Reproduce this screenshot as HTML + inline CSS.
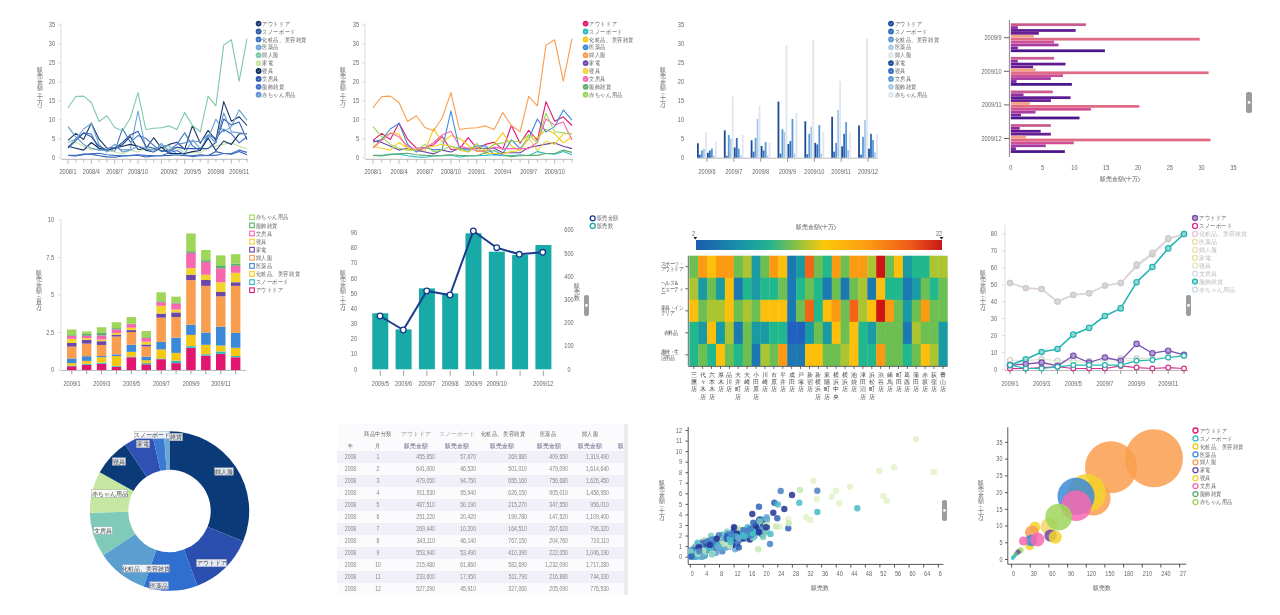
<!DOCTYPE html>
<html><head><meta charset="utf-8"><title>Dashboard</title>
<style>html,body{margin:0;padding:0;background:#fff;width:1280px;height:615px;overflow:hidden}
svg{display:block;font-family:'Liberation Sans',sans-serif;filter:blur(0.35px)}</style></head>
<body><svg width="1280" height="615" viewBox="0 0 1280 615" style="font-family:'Liberation Sans',sans-serif">
<rect width="1280" height="615" fill="#fff"/>
<line x1="61.0" y1="23.0" x2="61.0" y2="157.7" stroke="#ddd" stroke-width="1"/>
<text transform="translate(55.0,27.3) scale(0.86,1)" font-size="6.48" text-anchor="end" fill="#666" >35</text>
<line x1="58.0" y1="25.0" x2="61.0" y2="25.0" stroke="#ddd" stroke-width="1"/>
<text transform="translate(55.0,46.3) scale(0.86,1)" font-size="6.48" text-anchor="end" fill="#666" >30</text>
<line x1="58.0" y1="44.0" x2="61.0" y2="44.0" stroke="#ddd" stroke-width="1"/>
<text transform="translate(55.0,65.2) scale(0.86,1)" font-size="6.48" text-anchor="end" fill="#666" >25</text>
<line x1="58.0" y1="62.9" x2="61.0" y2="62.9" stroke="#ddd" stroke-width="1"/>
<text transform="translate(55.0,84.2) scale(0.86,1)" font-size="6.48" text-anchor="end" fill="#666" >20</text>
<line x1="58.0" y1="81.9" x2="61.0" y2="81.9" stroke="#ddd" stroke-width="1"/>
<text transform="translate(55.0,103.1) scale(0.86,1)" font-size="6.48" text-anchor="end" fill="#666" >15</text>
<line x1="58.0" y1="100.8" x2="61.0" y2="100.8" stroke="#ddd" stroke-width="1"/>
<text transform="translate(55.0,122.1) scale(0.86,1)" font-size="6.48" text-anchor="end" fill="#666" >10</text>
<line x1="58.0" y1="119.8" x2="61.0" y2="119.8" stroke="#ddd" stroke-width="1"/>
<text transform="translate(55.0,141.0) scale(0.86,1)" font-size="6.48" text-anchor="end" fill="#666" >5</text>
<line x1="58.0" y1="138.7" x2="61.0" y2="138.7" stroke="#ddd" stroke-width="1"/>
<text transform="translate(55.0,160.0) scale(0.86,1)" font-size="6.48" text-anchor="end" fill="#666" >0</text>
<line x1="58.0" y1="157.7" x2="61.0" y2="157.7" stroke="#ddd" stroke-width="1"/>
<line x1="61.0" y1="159.3" x2="248.0" y2="159.3" stroke="#bbb" stroke-width="1"/>
<text x="40.0" y="71.9" font-size="5.5" text-anchor="middle" fill="#555">販</text>
<text x="40.0" y="78.0" font-size="5.5" text-anchor="middle" fill="#555">売</text>
<text x="40.0" y="84.1" font-size="5.5" text-anchor="middle" fill="#555">金</text>
<text x="40.0" y="90.2" font-size="5.5" text-anchor="middle" fill="#555">額</text>
<text x="40.0" y="94.7" font-size="5.5" text-anchor="middle" fill="#555">︵</text>
<text x="40.0" y="99.3" font-size="5.5" text-anchor="middle" fill="#555">十</text>
<text x="40.0" y="105.4" font-size="5.5" text-anchor="middle" fill="#555">万</text>
<text x="40.0" y="109.9" font-size="5.5" text-anchor="middle" fill="#555">︶</text>
<line x1="68.0" y1="159.3" x2="68.0" y2="163.7" stroke="#aaa" stroke-width="0.8"/>
<line x1="75.8" y1="159.3" x2="75.8" y2="162.2" stroke="#aaa" stroke-width="0.8"/>
<line x1="83.6" y1="159.3" x2="83.6" y2="162.2" stroke="#aaa" stroke-width="0.8"/>
<line x1="91.3" y1="159.3" x2="91.3" y2="163.7" stroke="#aaa" stroke-width="0.8"/>
<line x1="99.1" y1="159.3" x2="99.1" y2="162.2" stroke="#aaa" stroke-width="0.8"/>
<line x1="106.9" y1="159.3" x2="106.9" y2="162.2" stroke="#aaa" stroke-width="0.8"/>
<line x1="114.7" y1="159.3" x2="114.7" y2="163.7" stroke="#aaa" stroke-width="0.8"/>
<line x1="122.5" y1="159.3" x2="122.5" y2="162.2" stroke="#aaa" stroke-width="0.8"/>
<line x1="130.3" y1="159.3" x2="130.3" y2="162.2" stroke="#aaa" stroke-width="0.8"/>
<line x1="138.0" y1="159.3" x2="138.0" y2="163.7" stroke="#aaa" stroke-width="0.8"/>
<line x1="145.8" y1="159.3" x2="145.8" y2="162.2" stroke="#aaa" stroke-width="0.8"/>
<line x1="153.6" y1="159.3" x2="153.6" y2="162.2" stroke="#aaa" stroke-width="0.8"/>
<line x1="161.4" y1="159.3" x2="161.4" y2="163.7" stroke="#aaa" stroke-width="0.8"/>
<line x1="169.2" y1="159.3" x2="169.2" y2="162.2" stroke="#aaa" stroke-width="0.8"/>
<line x1="177.0" y1="159.3" x2="177.0" y2="162.2" stroke="#aaa" stroke-width="0.8"/>
<line x1="184.7" y1="159.3" x2="184.7" y2="163.7" stroke="#aaa" stroke-width="0.8"/>
<line x1="192.5" y1="159.3" x2="192.5" y2="162.2" stroke="#aaa" stroke-width="0.8"/>
<line x1="200.3" y1="159.3" x2="200.3" y2="162.2" stroke="#aaa" stroke-width="0.8"/>
<line x1="208.1" y1="159.3" x2="208.1" y2="163.7" stroke="#aaa" stroke-width="0.8"/>
<line x1="215.9" y1="159.3" x2="215.9" y2="162.2" stroke="#aaa" stroke-width="0.8"/>
<line x1="223.7" y1="159.3" x2="223.7" y2="162.2" stroke="#aaa" stroke-width="0.8"/>
<line x1="231.4" y1="159.3" x2="231.4" y2="163.7" stroke="#aaa" stroke-width="0.8"/>
<line x1="239.2" y1="159.3" x2="239.2" y2="162.2" stroke="#aaa" stroke-width="0.8"/>
<line x1="247.0" y1="159.3" x2="247.0" y2="162.2" stroke="#aaa" stroke-width="0.8"/>
<text transform="translate(68.0,174.0) scale(0.86,1)" font-size="6.48" text-anchor="middle" fill="#666" >2008/1</text>
<text transform="translate(91.3,174.0) scale(0.86,1)" font-size="6.48" text-anchor="middle" fill="#666" >2008/4</text>
<text transform="translate(114.7,174.0) scale(0.86,1)" font-size="6.48" text-anchor="middle" fill="#666" >2008/7</text>
<text transform="translate(138.0,174.0) scale(0.86,1)" font-size="6.48" text-anchor="middle" fill="#666" >2008/10</text>
<text transform="translate(169.2,174.0) scale(0.86,1)" font-size="6.48" text-anchor="middle" fill="#666" >2009/2</text>
<text transform="translate(192.5,174.0) scale(0.86,1)" font-size="6.48" text-anchor="middle" fill="#666" >2009/5</text>
<text transform="translate(215.9,174.0) scale(0.86,1)" font-size="6.48" text-anchor="middle" fill="#666" >2009/8</text>
<text transform="translate(239.2,174.0) scale(0.86,1)" font-size="6.48" text-anchor="middle" fill="#666" >2009/11</text>
<polyline points="68.0,140.4 75.8,133.4 83.6,139.5 91.3,123.1 99.1,139.2 106.9,148.2 114.7,147.5 122.5,144.7 130.3,136.7 138.0,149.5 145.8,148.8 153.6,137.7 161.4,148.2 169.2,144.4 177.0,142.2 184.7,149.4 192.5,125.5 200.3,143.3 208.1,130.4 215.9,140.3 223.7,101.6 231.4,121.3 239.2,116.8 247.0,125.5" fill="none" stroke="#173a6e" stroke-width="1.1" stroke-linejoin="round" />
<polyline points="68.0,155.5 75.8,155.9 83.6,154.1 91.3,154.1 99.1,155.8 106.9,156.9 114.7,157.3 122.5,156.0 130.3,155.7 138.0,155.3 145.8,157.0 153.6,156.0 161.4,155.8 169.2,155.4 177.0,154.7 184.7,155.8 192.5,155.8 200.3,154.7 208.1,155.8 215.9,151.6 223.7,153.5 231.4,154.3 239.2,151.6 247.0,154.7" fill="none" stroke="#2a5aa8" stroke-width="1.1" stroke-linejoin="round" />
<polyline points="68.0,147.5 75.8,138.7 83.6,132.9 91.3,134.0 99.1,149.5 106.9,150.1 114.7,151.4 122.5,128.6 130.3,142.2 138.0,135.6 145.8,138.3 153.6,145.3 161.4,151.6 169.2,150.1 177.0,144.1 184.7,132.7 192.5,145.9 200.3,150.5 208.1,135.0 215.9,138.0 223.7,129.3 231.4,133.8 239.2,142.9 247.0,136.8" fill="none" stroke="#3d72c2" stroke-width="1.1" stroke-linejoin="round" />
<polyline points="68.0,142.2 75.8,139.5 83.6,129.0 91.3,123.4 99.1,144.5 106.9,152.1 114.7,147.5 122.5,149.9 130.3,149.3 138.0,111.0 145.8,149.5 153.6,149.9 161.4,145.9 169.2,145.9 177.0,154.7 184.7,153.5 192.5,139.9 200.3,148.6 208.1,138.7 215.9,119.0 223.7,131.9 231.4,126.6 239.2,109.9 247.0,120.2" fill="none" stroke="#6aa6d4" stroke-width="1.1" stroke-linejoin="round" />
<polyline points="68.0,107.7 75.8,96.5 83.6,96.1 91.3,102.5 99.1,121.5 106.9,115.7 114.7,127.5 122.5,130.8 130.3,118.0 138.0,92.6 145.8,129.5 153.6,128.2 161.4,127.7 169.2,125.9 177.0,129.6 184.7,112.6 192.5,125.5 200.3,131.9 208.1,96.3 215.9,105.8 223.7,45.1 231.4,39.8 239.2,81.1 247.0,38.6" fill="none" stroke="#7ccaa8" stroke-width="1.1" stroke-linejoin="round" />
<polyline points="68.0,140.6 75.8,142.5 83.6,146.3 91.3,150.1 99.1,148.2 106.9,150.1 114.7,152.0 122.5,153.9 130.3,150.1 138.0,152.0 145.8,148.2 153.6,148.2 161.4,148.6 169.2,148.2 177.0,148.2 184.7,152.8 192.5,152.8 200.3,152.8 208.1,147.5 215.9,145.9 223.7,144.1 231.4,142.9 239.2,146.3 247.0,148.6" fill="none" stroke="#c4e4a4" stroke-width="1.1" stroke-linejoin="round" />
<polyline points="68.0,146.3 75.8,148.2 83.6,150.1 91.3,142.5 99.1,148.2 106.9,150.1 114.7,148.2 122.5,146.3 130.3,144.4 138.0,146.3 145.8,150.1 153.6,152.0 161.4,147.1 169.2,153.5 177.0,153.5 184.7,153.5 192.5,151.6 200.3,150.5 208.1,138.0 215.9,150.5 223.7,141.0 231.4,144.4 239.2,133.8 247.0,133.8" fill="none" stroke="#0f2f62" stroke-width="1.1" stroke-linejoin="round" />
<polyline points="68.0,148.2 75.8,140.6 83.6,133.1 91.3,136.8 99.1,146.3 106.9,150.1 114.7,148.2 122.5,142.5 130.3,135.0 138.0,131.2 145.8,146.3 153.6,148.2 161.4,150.5 169.2,151.6 177.0,147.1 184.7,148.6 192.5,148.6 200.3,148.6 208.1,148.6 215.9,142.2 223.7,119.0 231.4,125.1 239.2,122.1 247.0,139.9" fill="none" stroke="#2d58aa" stroke-width="1.1" stroke-linejoin="round" />
<polyline points="68.0,155.4 75.8,155.4 83.6,154.7 91.3,153.9 99.1,153.2 106.9,154.7 114.7,155.4 122.5,155.8 130.3,155.4 138.0,154.7 145.8,155.4 153.6,155.8 161.4,155.8 169.2,152.8 177.0,150.5 184.7,154.7 192.5,156.6 200.3,155.8 208.1,155.4 215.9,155.4 223.7,153.5 231.4,153.5 239.2,150.1 247.0,152.4" fill="none" stroke="#4070c8" stroke-width="1.1" stroke-linejoin="round" />
<polyline points="68.0,126.6 75.8,136.8 83.6,144.4 91.3,148.2 99.1,150.1 106.9,150.1 114.7,144.4 122.5,152.0 130.3,150.1 138.0,146.3 145.8,148.2 153.6,152.0 161.4,143.3 169.2,151.6 177.0,144.4 184.7,142.9 192.5,141.0 200.3,141.8 208.1,135.0 215.9,142.9 223.7,113.0 231.4,131.9 239.2,132.7 247.0,133.8" fill="none" stroke="#6496d2" stroke-width="1.1" stroke-linejoin="round" />
<circle cx="258.6" cy="23.6" r="2.9" fill="#173a6e"/>
<path d="M257.4,23.6 l0.9,0.9 l1.6,-1.8" fill="none" stroke="#fff" stroke-width="0.6" stroke-opacity="0.7"/>
<text transform="translate(262.4,25.7) scale(0.86,1)" font-size="6.26" text-anchor="start" fill="#666" >アウトドア</text>
<circle cx="258.6" cy="31.5" r="2.9" fill="#2a5aa8"/>
<path d="M257.4,31.5 l0.9,0.9 l1.6,-1.8" fill="none" stroke="#fff" stroke-width="0.6" stroke-opacity="0.7"/>
<text transform="translate(262.4,33.6) scale(0.86,1)" font-size="6.26" text-anchor="start" fill="#666" >スノーボード</text>
<circle cx="258.6" cy="39.4" r="2.9" fill="#3d72c2"/>
<path d="M257.4,39.4 l0.9,0.9 l1.6,-1.8" fill="none" stroke="#fff" stroke-width="0.6" stroke-opacity="0.7"/>
<text transform="translate(262.4,41.5) scale(0.86,1)" font-size="6.26" text-anchor="start" fill="#666" >化粧品、美容雑貨</text>
<circle cx="258.6" cy="47.3" r="2.9" fill="#6aa6d4"/>
<path d="M257.4,47.3 l0.9,0.9 l1.6,-1.8" fill="none" stroke="#fff" stroke-width="0.6" stroke-opacity="0.7"/>
<text transform="translate(262.4,49.4) scale(0.86,1)" font-size="6.26" text-anchor="start" fill="#666" >医薬品</text>
<circle cx="258.6" cy="55.2" r="2.9" fill="#7ccaa8"/>
<path d="M257.4,55.2 l0.9,0.9 l1.6,-1.8" fill="none" stroke="#fff" stroke-width="0.6" stroke-opacity="0.7"/>
<text transform="translate(262.4,57.3) scale(0.86,1)" font-size="6.26" text-anchor="start" fill="#666" >婦人服</text>
<circle cx="258.6" cy="63.1" r="2.9" fill="#c4e4a4"/>
<path d="M257.4,63.1 l0.9,0.9 l1.6,-1.8" fill="none" stroke="#fff" stroke-width="0.6" stroke-opacity="0.7"/>
<text transform="translate(262.4,65.2) scale(0.86,1)" font-size="6.26" text-anchor="start" fill="#666" >家電</text>
<circle cx="258.6" cy="71.0" r="2.9" fill="#0f2f62"/>
<path d="M257.4,71.0 l0.9,0.9 l1.6,-1.8" fill="none" stroke="#fff" stroke-width="0.6" stroke-opacity="0.7"/>
<text transform="translate(262.4,73.1) scale(0.86,1)" font-size="6.26" text-anchor="start" fill="#666" >寝具</text>
<circle cx="258.6" cy="78.9" r="2.9" fill="#2d58aa"/>
<path d="M257.4,78.9 l0.9,0.9 l1.6,-1.8" fill="none" stroke="#fff" stroke-width="0.6" stroke-opacity="0.7"/>
<text transform="translate(262.4,81.0) scale(0.86,1)" font-size="6.26" text-anchor="start" fill="#666" >文房具</text>
<circle cx="258.6" cy="86.8" r="2.9" fill="#4070c8"/>
<path d="M257.4,86.8 l0.9,0.9 l1.6,-1.8" fill="none" stroke="#fff" stroke-width="0.6" stroke-opacity="0.7"/>
<text transform="translate(262.4,88.9) scale(0.86,1)" font-size="6.26" text-anchor="start" fill="#666" >服飾雑貨</text>
<circle cx="258.6" cy="94.7" r="2.9" fill="#6496d2"/>
<path d="M257.4,94.7 l0.9,0.9 l1.6,-1.8" fill="none" stroke="#fff" stroke-width="0.6" stroke-opacity="0.7"/>
<text transform="translate(262.4,96.8) scale(0.86,1)" font-size="6.26" text-anchor="start" fill="#666" >赤ちゃん用品</text>
<line x1="365.0" y1="23.0" x2="365.0" y2="157.7" stroke="#ddd" stroke-width="1"/>
<text transform="translate(359.0,27.3) scale(0.86,1)" font-size="6.48" text-anchor="end" fill="#666" >35</text>
<line x1="362.0" y1="25.0" x2="365.0" y2="25.0" stroke="#ddd" stroke-width="1"/>
<text transform="translate(359.0,46.3) scale(0.86,1)" font-size="6.48" text-anchor="end" fill="#666" >30</text>
<line x1="362.0" y1="44.0" x2="365.0" y2="44.0" stroke="#ddd" stroke-width="1"/>
<text transform="translate(359.0,65.2) scale(0.86,1)" font-size="6.48" text-anchor="end" fill="#666" >25</text>
<line x1="362.0" y1="62.9" x2="365.0" y2="62.9" stroke="#ddd" stroke-width="1"/>
<text transform="translate(359.0,84.2) scale(0.86,1)" font-size="6.48" text-anchor="end" fill="#666" >20</text>
<line x1="362.0" y1="81.9" x2="365.0" y2="81.9" stroke="#ddd" stroke-width="1"/>
<text transform="translate(359.0,103.1) scale(0.86,1)" font-size="6.48" text-anchor="end" fill="#666" >15</text>
<line x1="362.0" y1="100.8" x2="365.0" y2="100.8" stroke="#ddd" stroke-width="1"/>
<text transform="translate(359.0,122.1) scale(0.86,1)" font-size="6.48" text-anchor="end" fill="#666" >10</text>
<line x1="362.0" y1="119.8" x2="365.0" y2="119.8" stroke="#ddd" stroke-width="1"/>
<text transform="translate(359.0,141.0) scale(0.86,1)" font-size="6.48" text-anchor="end" fill="#666" >5</text>
<line x1="362.0" y1="138.7" x2="365.0" y2="138.7" stroke="#ddd" stroke-width="1"/>
<text transform="translate(359.0,160.0) scale(0.86,1)" font-size="6.48" text-anchor="end" fill="#666" >0</text>
<line x1="362.0" y1="157.7" x2="365.0" y2="157.7" stroke="#ddd" stroke-width="1"/>
<line x1="365.0" y1="159.3" x2="573.0" y2="159.3" stroke="#bbb" stroke-width="1"/>
<text x="343.3" y="71.9" font-size="5.5" text-anchor="middle" fill="#555">販</text>
<text x="343.3" y="78.0" font-size="5.5" text-anchor="middle" fill="#555">売</text>
<text x="343.3" y="84.1" font-size="5.5" text-anchor="middle" fill="#555">金</text>
<text x="343.3" y="90.2" font-size="5.5" text-anchor="middle" fill="#555">額</text>
<text x="343.3" y="94.7" font-size="5.5" text-anchor="middle" fill="#555">︵</text>
<text x="343.3" y="99.3" font-size="5.5" text-anchor="middle" fill="#555">十</text>
<text x="343.3" y="105.4" font-size="5.5" text-anchor="middle" fill="#555">万</text>
<text x="343.3" y="109.9" font-size="5.5" text-anchor="middle" fill="#555">︶</text>
<line x1="373.0" y1="159.3" x2="373.0" y2="163.7" stroke="#aaa" stroke-width="0.8"/>
<line x1="381.7" y1="159.3" x2="381.7" y2="162.2" stroke="#aaa" stroke-width="0.8"/>
<line x1="390.3" y1="159.3" x2="390.3" y2="162.2" stroke="#aaa" stroke-width="0.8"/>
<line x1="399.0" y1="159.3" x2="399.0" y2="163.7" stroke="#aaa" stroke-width="0.8"/>
<line x1="407.6" y1="159.3" x2="407.6" y2="162.2" stroke="#aaa" stroke-width="0.8"/>
<line x1="416.3" y1="159.3" x2="416.3" y2="162.2" stroke="#aaa" stroke-width="0.8"/>
<line x1="424.9" y1="159.3" x2="424.9" y2="163.7" stroke="#aaa" stroke-width="0.8"/>
<line x1="433.6" y1="159.3" x2="433.6" y2="162.2" stroke="#aaa" stroke-width="0.8"/>
<line x1="442.2" y1="159.3" x2="442.2" y2="162.2" stroke="#aaa" stroke-width="0.8"/>
<line x1="450.9" y1="159.3" x2="450.9" y2="163.7" stroke="#aaa" stroke-width="0.8"/>
<line x1="459.5" y1="159.3" x2="459.5" y2="162.2" stroke="#aaa" stroke-width="0.8"/>
<line x1="468.2" y1="159.3" x2="468.2" y2="162.2" stroke="#aaa" stroke-width="0.8"/>
<line x1="476.8" y1="159.3" x2="476.8" y2="163.7" stroke="#aaa" stroke-width="0.8"/>
<line x1="485.5" y1="159.3" x2="485.5" y2="162.2" stroke="#aaa" stroke-width="0.8"/>
<line x1="494.1" y1="159.3" x2="494.1" y2="162.2" stroke="#aaa" stroke-width="0.8"/>
<line x1="502.8" y1="159.3" x2="502.8" y2="163.7" stroke="#aaa" stroke-width="0.8"/>
<line x1="511.4" y1="159.3" x2="511.4" y2="162.2" stroke="#aaa" stroke-width="0.8"/>
<line x1="520.1" y1="159.3" x2="520.1" y2="162.2" stroke="#aaa" stroke-width="0.8"/>
<line x1="528.7" y1="159.3" x2="528.7" y2="163.7" stroke="#aaa" stroke-width="0.8"/>
<line x1="537.4" y1="159.3" x2="537.4" y2="162.2" stroke="#aaa" stroke-width="0.8"/>
<line x1="546.0" y1="159.3" x2="546.0" y2="162.2" stroke="#aaa" stroke-width="0.8"/>
<line x1="554.7" y1="159.3" x2="554.7" y2="163.7" stroke="#aaa" stroke-width="0.8"/>
<line x1="563.3" y1="159.3" x2="563.3" y2="162.2" stroke="#aaa" stroke-width="0.8"/>
<line x1="572.0" y1="159.3" x2="572.0" y2="162.2" stroke="#aaa" stroke-width="0.8"/>
<text transform="translate(373.0,174.0) scale(0.86,1)" font-size="6.48" text-anchor="middle" fill="#666" >2008/1</text>
<text transform="translate(399.0,174.0) scale(0.86,1)" font-size="6.48" text-anchor="middle" fill="#666" >2008/4</text>
<text transform="translate(424.9,174.0) scale(0.86,1)" font-size="6.48" text-anchor="middle" fill="#666" >2008/7</text>
<text transform="translate(450.9,174.0) scale(0.86,1)" font-size="6.48" text-anchor="middle" fill="#666" >2008/10</text>
<text transform="translate(476.8,174.0) scale(0.86,1)" font-size="6.48" text-anchor="middle" fill="#666" >2009/1</text>
<text transform="translate(502.8,174.0) scale(0.86,1)" font-size="6.48" text-anchor="middle" fill="#666" >2009/4</text>
<text transform="translate(528.7,174.0) scale(0.86,1)" font-size="6.48" text-anchor="middle" fill="#666" >2009/7</text>
<text transform="translate(554.7,174.0) scale(0.86,1)" font-size="6.48" text-anchor="middle" fill="#666" >2009/10</text>
<polyline points="373.0,140.4 381.7,133.4 390.3,139.5 399.0,123.1 407.6,139.2 416.3,148.2 424.9,147.5 433.6,144.7 442.2,136.7 450.9,149.5 459.5,148.8 468.2,137.7 476.8,148.2 485.5,144.4 494.1,142.2 502.8,149.4 511.4,125.5 520.1,143.3 528.7,130.4 537.4,140.3 546.0,101.6 554.7,121.3 563.3,116.8 572.0,125.5" fill="none" stroke="#e3166f" stroke-width="1.1" stroke-linejoin="round" />
<polyline points="373.0,155.5 381.7,155.9 390.3,154.1 399.0,154.1 407.6,155.8 416.3,156.9 424.9,157.3 433.6,156.0 442.2,155.7 450.9,155.3 459.5,157.0 468.2,156.0 476.8,155.8 485.5,155.4 494.1,154.7 502.8,155.8 511.4,155.8 520.1,154.7 528.7,155.8 537.4,151.6 546.0,153.5 554.7,154.3 563.3,151.6 572.0,154.7" fill="none" stroke="#2bbcc0" stroke-width="1.1" stroke-linejoin="round" />
<polyline points="373.0,147.5 381.7,138.7 390.3,132.9 399.0,134.0 407.6,149.5 416.3,150.1 424.9,151.4 433.6,128.6 442.2,142.2 450.9,135.6 459.5,138.3 468.2,145.3 476.8,151.6 485.5,150.1 494.1,144.1 502.8,132.7 511.4,145.9 520.1,150.5 528.7,135.0 537.4,138.0 546.0,129.3 554.7,133.8 563.3,142.9 572.0,136.8" fill="none" stroke="#f6c713" stroke-width="1.1" stroke-linejoin="round" />
<polyline points="373.0,142.2 381.7,139.5 390.3,129.0 399.0,123.4 407.6,144.5 416.3,152.1 424.9,147.5 433.6,149.9 442.2,149.3 450.9,111.0 459.5,149.5 468.2,149.9 476.8,145.9 485.5,145.9 494.1,154.7 502.8,153.5 511.4,139.9 520.1,148.6 528.7,138.7 537.4,119.0 546.0,131.9 554.7,126.6 563.3,109.9 572.0,120.2" fill="none" stroke="#3b89d8" stroke-width="1.1" stroke-linejoin="round" />
<polyline points="373.0,107.7 381.7,96.5 390.3,96.1 399.0,102.5 407.6,121.5 416.3,115.7 424.9,127.5 433.6,130.8 442.2,118.0 450.9,92.6 459.5,129.5 468.2,128.2 476.8,127.7 485.5,125.9 494.1,129.6 502.8,112.6 511.4,125.5 520.1,131.9 528.7,96.3 537.4,105.8 546.0,45.1 554.7,39.8 563.3,81.1 572.0,38.6" fill="none" stroke="#f99d4e" stroke-width="1.1" stroke-linejoin="round" />
<polyline points="373.0,140.6 381.7,142.5 390.3,146.3 399.0,150.1 407.6,148.2 416.3,150.1 424.9,152.0 433.6,153.9 442.2,150.1 450.9,152.0 459.5,148.2 468.2,148.2 476.8,148.6 485.5,148.2 494.1,148.2 502.8,152.8 511.4,152.8 520.1,152.8 528.7,147.5 537.4,145.9 546.0,144.1 554.7,142.9 563.3,146.3 572.0,148.6" fill="none" stroke="#6a47a8" stroke-width="1.1" stroke-linejoin="round" />
<polyline points="373.0,146.3 381.7,148.2 390.3,150.1 399.0,142.5 407.6,148.2 416.3,150.1 424.9,148.2 433.6,146.3 442.2,144.4 450.9,146.3 459.5,150.1 468.2,152.0 476.8,147.1 485.5,153.5 494.1,153.5 502.8,153.5 511.4,151.6 520.1,150.5 528.7,138.0 537.4,150.5 546.0,141.0 554.7,144.4 563.3,133.8 572.0,133.8" fill="none" stroke="#f2d42b" stroke-width="1.1" stroke-linejoin="round" />
<polyline points="373.0,148.2 381.7,140.6 390.3,133.1 399.0,136.8 407.6,146.3 416.3,150.1 424.9,148.2 433.6,142.5 442.2,135.0 450.9,131.2 459.5,146.3 468.2,148.2 476.8,150.5 485.5,151.6 494.1,147.1 502.8,148.6 511.4,148.6 520.1,148.6 528.7,148.6 537.4,142.2 546.0,119.0 554.7,125.1 563.3,122.1 572.0,139.9" fill="none" stroke="#f767b0" stroke-width="1.1" stroke-linejoin="round" />
<polyline points="373.0,155.4 381.7,155.4 390.3,154.7 399.0,153.9 407.6,153.2 416.3,154.7 424.9,155.4 433.6,155.8 442.2,155.4 450.9,154.7 459.5,155.4 468.2,155.8 476.8,155.8 485.5,152.8 494.1,150.5 502.8,154.7 511.4,156.6 520.1,155.8 528.7,155.4 537.4,155.4 546.0,153.5 554.7,153.5 563.3,150.1 572.0,152.4" fill="none" stroke="#5aad6a" stroke-width="1.1" stroke-linejoin="round" />
<polyline points="373.0,126.6 381.7,136.8 390.3,144.4 399.0,148.2 407.6,150.1 416.3,150.1 424.9,144.4 433.6,152.0 442.2,150.1 450.9,146.3 459.5,148.2 468.2,152.0 476.8,143.3 485.5,151.6 494.1,144.4 502.8,142.9 511.4,141.0 520.1,141.8 528.7,135.0 537.4,142.9 546.0,113.0 554.7,131.9 563.3,132.7 572.0,133.8" fill="none" stroke="#9ed65a" stroke-width="1.1" stroke-linejoin="round" />
<circle cx="585.6" cy="23.6" r="2.9" fill="#e3166f"/>
<path d="M584.4,23.6 l0.9,0.9 l1.6,-1.8" fill="none" stroke="#fff" stroke-width="0.6" stroke-opacity="0.7"/>
<text transform="translate(589.4,25.7) scale(0.86,1)" font-size="6.26" text-anchor="start" fill="#666" >アウトドア</text>
<circle cx="585.6" cy="31.5" r="2.9" fill="#2bbcc0"/>
<path d="M584.4,31.5 l0.9,0.9 l1.6,-1.8" fill="none" stroke="#fff" stroke-width="0.6" stroke-opacity="0.7"/>
<text transform="translate(589.4,33.6) scale(0.86,1)" font-size="6.26" text-anchor="start" fill="#666" >スノーボード</text>
<circle cx="585.6" cy="39.4" r="2.9" fill="#f6c713"/>
<path d="M584.4,39.4 l0.9,0.9 l1.6,-1.8" fill="none" stroke="#fff" stroke-width="0.6" stroke-opacity="0.7"/>
<text transform="translate(589.4,41.5) scale(0.86,1)" font-size="6.26" text-anchor="start" fill="#666" >化粧品、美容雑貨</text>
<circle cx="585.6" cy="47.3" r="2.9" fill="#3b89d8"/>
<path d="M584.4,47.3 l0.9,0.9 l1.6,-1.8" fill="none" stroke="#fff" stroke-width="0.6" stroke-opacity="0.7"/>
<text transform="translate(589.4,49.4) scale(0.86,1)" font-size="6.26" text-anchor="start" fill="#666" >医薬品</text>
<circle cx="585.6" cy="55.2" r="2.9" fill="#f99d4e"/>
<path d="M584.4,55.2 l0.9,0.9 l1.6,-1.8" fill="none" stroke="#fff" stroke-width="0.6" stroke-opacity="0.7"/>
<text transform="translate(589.4,57.3) scale(0.86,1)" font-size="6.26" text-anchor="start" fill="#666" >婦人服</text>
<circle cx="585.6" cy="63.1" r="2.9" fill="#6a47a8"/>
<path d="M584.4,63.1 l0.9,0.9 l1.6,-1.8" fill="none" stroke="#fff" stroke-width="0.6" stroke-opacity="0.7"/>
<text transform="translate(589.4,65.2) scale(0.86,1)" font-size="6.26" text-anchor="start" fill="#666" >家電</text>
<circle cx="585.6" cy="71.0" r="2.9" fill="#f2d42b"/>
<path d="M584.4,71.0 l0.9,0.9 l1.6,-1.8" fill="none" stroke="#fff" stroke-width="0.6" stroke-opacity="0.7"/>
<text transform="translate(589.4,73.1) scale(0.86,1)" font-size="6.26" text-anchor="start" fill="#666" >寝具</text>
<circle cx="585.6" cy="78.9" r="2.9" fill="#f767b0"/>
<path d="M584.4,78.9 l0.9,0.9 l1.6,-1.8" fill="none" stroke="#fff" stroke-width="0.6" stroke-opacity="0.7"/>
<text transform="translate(589.4,81.0) scale(0.86,1)" font-size="6.26" text-anchor="start" fill="#666" >文房具</text>
<circle cx="585.6" cy="86.8" r="2.9" fill="#5aad6a"/>
<path d="M584.4,86.8 l0.9,0.9 l1.6,-1.8" fill="none" stroke="#fff" stroke-width="0.6" stroke-opacity="0.7"/>
<text transform="translate(589.4,88.9) scale(0.86,1)" font-size="6.26" text-anchor="start" fill="#666" >服飾雑貨</text>
<circle cx="585.6" cy="94.7" r="2.9" fill="#9ed65a"/>
<path d="M584.4,94.7 l0.9,0.9 l1.6,-1.8" fill="none" stroke="#fff" stroke-width="0.6" stroke-opacity="0.7"/>
<text transform="translate(589.4,96.8) scale(0.86,1)" font-size="6.26" text-anchor="start" fill="#666" >赤ちゃん用品</text>
<text transform="translate(684.0,27.3) scale(0.86,1)" font-size="6.48" text-anchor="end" fill="#666" >35</text>
<text transform="translate(684.0,46.3) scale(0.86,1)" font-size="6.48" text-anchor="end" fill="#666" >30</text>
<text transform="translate(684.0,65.2) scale(0.86,1)" font-size="6.48" text-anchor="end" fill="#666" >25</text>
<text transform="translate(684.0,84.2) scale(0.86,1)" font-size="6.48" text-anchor="end" fill="#666" >20</text>
<text transform="translate(684.0,103.1) scale(0.86,1)" font-size="6.48" text-anchor="end" fill="#666" >15</text>
<text transform="translate(684.0,122.1) scale(0.86,1)" font-size="6.48" text-anchor="end" fill="#666" >10</text>
<text transform="translate(684.0,141.0) scale(0.86,1)" font-size="6.48" text-anchor="end" fill="#666" >5</text>
<text transform="translate(684.0,160.0) scale(0.86,1)" font-size="6.48" text-anchor="end" fill="#666" >0</text>
<text x="663.0" y="72.1" font-size="5.5" text-anchor="middle" fill="#555">販</text>
<text x="663.0" y="78.2" font-size="5.5" text-anchor="middle" fill="#555">売</text>
<text x="663.0" y="84.3" font-size="5.5" text-anchor="middle" fill="#555">金</text>
<text x="663.0" y="90.4" font-size="5.5" text-anchor="middle" fill="#555">額</text>
<text x="663.0" y="94.9" font-size="5.5" text-anchor="middle" fill="#555">︵</text>
<text x="663.0" y="99.5" font-size="5.5" text-anchor="middle" fill="#555">十</text>
<text x="663.0" y="105.6" font-size="5.5" text-anchor="middle" fill="#555">万</text>
<text x="663.0" y="110.1" font-size="5.5" text-anchor="middle" fill="#555">︶</text>
<line x1="697.0" y1="158.2" x2="878.0" y2="158.2" stroke="#bbb" stroke-width="1"/>
<rect x="697.00" y="143.29" width="1.80" height="14.41" fill="#1d4a92" />
<rect x="699.00" y="154.67" width="1.80" height="3.03" fill="#2e6cc0" />
<rect x="701.00" y="150.50" width="1.80" height="7.20" fill="#5a9ad4" />
<rect x="703.00" y="148.60" width="1.80" height="9.10" fill="#a9c8e8" />
<rect x="705.00" y="131.92" width="1.80" height="25.78" fill="#dfe6f1" />
<rect x="707.00" y="152.77" width="1.80" height="4.93" fill="#1d4a92" />
<rect x="709.00" y="150.50" width="1.80" height="7.20" fill="#2e6cc0" />
<rect x="711.00" y="148.60" width="1.80" height="9.10" fill="#5a9ad4" />
<rect x="713.00" y="155.80" width="1.80" height="1.90" fill="#a9c8e8" />
<rect x="715.00" y="141.78" width="1.80" height="15.92" fill="#dfe6f1" />
<line x1="707.0" y1="157.7" x2="707.0" y2="161.7" stroke="#999" stroke-width="1"/>
<text transform="translate(707.0,174.0) scale(0.86,1)" font-size="6.48" text-anchor="middle" fill="#666" >2009/6</text>
<rect x="723.85" y="130.40" width="1.80" height="27.30" fill="#1d4a92" />
<rect x="725.85" y="155.80" width="1.80" height="1.90" fill="#2e6cc0" />
<rect x="727.85" y="134.95" width="1.80" height="22.75" fill="#5a9ad4" />
<rect x="729.85" y="138.74" width="1.80" height="18.96" fill="#a9c8e8" />
<rect x="731.85" y="96.28" width="1.80" height="61.42" fill="#dfe6f1" />
<rect x="733.85" y="147.46" width="1.80" height="10.24" fill="#1d4a92" />
<rect x="735.85" y="137.98" width="1.80" height="19.72" fill="#2e6cc0" />
<rect x="737.85" y="148.60" width="1.80" height="9.10" fill="#5a9ad4" />
<rect x="739.85" y="155.43" width="1.80" height="2.27" fill="#a9c8e8" />
<rect x="741.85" y="134.95" width="1.80" height="22.75" fill="#dfe6f1" />
<line x1="733.9" y1="157.7" x2="733.9" y2="161.7" stroke="#999" stroke-width="1"/>
<text transform="translate(733.9,174.0) scale(0.86,1)" font-size="6.48" text-anchor="middle" fill="#666" >2009/7</text>
<rect x="750.70" y="140.26" width="1.80" height="17.44" fill="#1d4a92" />
<rect x="752.70" y="151.63" width="1.80" height="6.07" fill="#2e6cc0" />
<rect x="754.70" y="137.98" width="1.80" height="19.72" fill="#5a9ad4" />
<rect x="756.70" y="119.03" width="1.80" height="38.67" fill="#a9c8e8" />
<rect x="758.70" y="105.76" width="1.80" height="51.94" fill="#dfe6f1" />
<rect x="760.70" y="145.95" width="1.80" height="11.75" fill="#1d4a92" />
<rect x="762.70" y="150.50" width="1.80" height="7.20" fill="#2e6cc0" />
<rect x="764.70" y="142.16" width="1.80" height="15.54" fill="#5a9ad4" />
<rect x="766.70" y="155.43" width="1.80" height="2.27" fill="#a9c8e8" />
<rect x="768.70" y="142.91" width="1.80" height="14.79" fill="#dfe6f1" />
<line x1="760.7" y1="157.7" x2="760.7" y2="161.7" stroke="#999" stroke-width="1"/>
<text transform="translate(760.7,174.0) scale(0.86,1)" font-size="6.48" text-anchor="middle" fill="#666" >2009/8</text>
<rect x="777.55" y="101.59" width="1.80" height="56.11" fill="#1d4a92" />
<rect x="779.55" y="153.53" width="1.80" height="4.17" fill="#2e6cc0" />
<rect x="781.55" y="129.26" width="1.80" height="28.44" fill="#5a9ad4" />
<rect x="783.55" y="131.92" width="1.80" height="25.78" fill="#a9c8e8" />
<rect x="785.55" y="45.09" width="1.80" height="112.61" fill="#dfe6f1" />
<rect x="787.55" y="144.05" width="1.80" height="13.65" fill="#1d4a92" />
<rect x="789.55" y="141.02" width="1.80" height="16.68" fill="#2e6cc0" />
<rect x="791.55" y="119.03" width="1.80" height="38.67" fill="#5a9ad4" />
<rect x="793.55" y="153.53" width="1.80" height="4.17" fill="#a9c8e8" />
<rect x="795.55" y="112.96" width="1.80" height="44.74" fill="#dfe6f1" />
<line x1="787.5" y1="157.7" x2="787.5" y2="161.7" stroke="#999" stroke-width="1"/>
<text transform="translate(787.5,174.0) scale(0.86,1)" font-size="6.48" text-anchor="middle" fill="#666" >2009/9</text>
<rect x="804.40" y="121.30" width="1.80" height="36.40" fill="#1d4a92" />
<rect x="806.40" y="154.29" width="1.80" height="3.41" fill="#2e6cc0" />
<rect x="808.40" y="133.81" width="1.80" height="23.89" fill="#5a9ad4" />
<rect x="810.40" y="126.61" width="1.80" height="31.09" fill="#a9c8e8" />
<rect x="812.40" y="39.79" width="1.80" height="117.91" fill="#dfe6f1" />
<rect x="814.40" y="142.91" width="1.80" height="14.79" fill="#1d4a92" />
<rect x="816.40" y="144.43" width="1.80" height="13.27" fill="#2e6cc0" />
<rect x="818.40" y="125.09" width="1.80" height="32.61" fill="#5a9ad4" />
<rect x="820.40" y="153.53" width="1.80" height="4.17" fill="#a9c8e8" />
<rect x="822.40" y="131.92" width="1.80" height="25.78" fill="#dfe6f1" />
<line x1="814.4" y1="157.7" x2="814.4" y2="161.7" stroke="#999" stroke-width="1"/>
<text transform="translate(814.4,174.0) scale(0.86,1)" font-size="6.48" text-anchor="middle" fill="#666" >2009/10</text>
<rect x="831.25" y="116.75" width="1.80" height="40.95" fill="#1d4a92" />
<rect x="833.25" y="151.63" width="1.80" height="6.07" fill="#2e6cc0" />
<rect x="835.25" y="142.91" width="1.80" height="14.79" fill="#5a9ad4" />
<rect x="837.25" y="109.93" width="1.80" height="47.77" fill="#a9c8e8" />
<rect x="839.25" y="81.11" width="1.80" height="76.59" fill="#dfe6f1" />
<rect x="841.25" y="146.33" width="1.80" height="11.37" fill="#1d4a92" />
<rect x="843.25" y="133.81" width="1.80" height="23.89" fill="#2e6cc0" />
<rect x="845.25" y="122.06" width="1.80" height="35.64" fill="#5a9ad4" />
<rect x="847.25" y="150.12" width="1.80" height="7.58" fill="#a9c8e8" />
<rect x="849.25" y="132.68" width="1.80" height="25.02" fill="#dfe6f1" />
<line x1="841.2" y1="157.7" x2="841.2" y2="161.7" stroke="#999" stroke-width="1"/>
<text transform="translate(841.2,174.0) scale(0.86,1)" font-size="6.48" text-anchor="middle" fill="#666" >2009/11</text>
<rect x="858.10" y="125.47" width="1.80" height="32.23" fill="#1d4a92" />
<rect x="860.10" y="154.67" width="1.80" height="3.03" fill="#2e6cc0" />
<rect x="862.10" y="136.85" width="1.80" height="20.85" fill="#5a9ad4" />
<rect x="864.10" y="120.16" width="1.80" height="37.54" fill="#a9c8e8" />
<rect x="866.10" y="38.65" width="1.80" height="119.05" fill="#dfe6f1" />
<rect x="868.10" y="148.60" width="1.80" height="9.10" fill="#1d4a92" />
<rect x="870.10" y="133.81" width="1.80" height="23.89" fill="#2e6cc0" />
<rect x="872.10" y="139.88" width="1.80" height="17.82" fill="#5a9ad4" />
<rect x="874.10" y="152.39" width="1.80" height="5.31" fill="#a9c8e8" />
<rect x="876.10" y="133.81" width="1.80" height="23.89" fill="#dfe6f1" />
<line x1="868.1" y1="157.7" x2="868.1" y2="161.7" stroke="#999" stroke-width="1"/>
<text transform="translate(868.1,174.0) scale(0.86,1)" font-size="6.48" text-anchor="middle" fill="#666" >2009/12</text>
<circle cx="891.0" cy="23.6" r="2.9" fill="#1d4a92"/>
<path d="M889.8,23.6 l0.9,0.9 l1.6,-1.8" fill="none" stroke="#fff" stroke-width="0.6" stroke-opacity="0.7"/>
<text transform="translate(894.8,25.7) scale(0.86,1)" font-size="6.26" text-anchor="start" fill="#666" >アウトドア</text>
<circle cx="891.0" cy="31.5" r="2.9" fill="#2e6cc0"/>
<path d="M889.8,31.5 l0.9,0.9 l1.6,-1.8" fill="none" stroke="#fff" stroke-width="0.6" stroke-opacity="0.7"/>
<text transform="translate(894.8,33.6) scale(0.86,1)" font-size="6.26" text-anchor="start" fill="#666" >スノーボード</text>
<circle cx="891.0" cy="39.4" r="2.9" fill="#5a9ad4"/>
<path d="M889.8,39.4 l0.9,0.9 l1.6,-1.8" fill="none" stroke="#fff" stroke-width="0.6" stroke-opacity="0.7"/>
<text transform="translate(894.8,41.5) scale(0.86,1)" font-size="6.26" text-anchor="start" fill="#666" >化粧品、美容雑貨</text>
<circle cx="891.0" cy="47.3" r="2.9" fill="#a9c8e8"/>
<path d="M889.8,47.3 l0.9,0.9 l1.6,-1.8" fill="none" stroke="#fff" stroke-width="0.6" stroke-opacity="0.7"/>
<text transform="translate(894.8,49.4) scale(0.86,1)" font-size="6.26" text-anchor="start" fill="#666" >医薬品</text>
<circle cx="891.0" cy="55.2" r="2.9" fill="#dfe6f1"/>
<path d="M889.8,55.2 l0.9,0.9 l1.6,-1.8" fill="none" stroke="#fff" stroke-width="0.6" stroke-opacity="0.7"/>
<text transform="translate(894.8,57.3) scale(0.86,1)" font-size="6.26" text-anchor="start" fill="#666" >婦人服</text>
<circle cx="891.0" cy="63.1" r="2.9" fill="#1d4a92"/>
<path d="M889.8,63.1 l0.9,0.9 l1.6,-1.8" fill="none" stroke="#fff" stroke-width="0.6" stroke-opacity="0.7"/>
<text transform="translate(894.8,65.2) scale(0.86,1)" font-size="6.26" text-anchor="start" fill="#666" >家電</text>
<circle cx="891.0" cy="71.0" r="2.9" fill="#2e6cc0"/>
<path d="M889.8,71.0 l0.9,0.9 l1.6,-1.8" fill="none" stroke="#fff" stroke-width="0.6" stroke-opacity="0.7"/>
<text transform="translate(894.8,73.1) scale(0.86,1)" font-size="6.26" text-anchor="start" fill="#666" >寝具</text>
<circle cx="891.0" cy="78.9" r="2.9" fill="#5a9ad4"/>
<path d="M889.8,78.9 l0.9,0.9 l1.6,-1.8" fill="none" stroke="#fff" stroke-width="0.6" stroke-opacity="0.7"/>
<text transform="translate(894.8,81.0) scale(0.86,1)" font-size="6.26" text-anchor="start" fill="#666" >文房具</text>
<circle cx="891.0" cy="86.8" r="2.9" fill="#a9c8e8"/>
<path d="M889.8,86.8 l0.9,0.9 l1.6,-1.8" fill="none" stroke="#fff" stroke-width="0.6" stroke-opacity="0.7"/>
<text transform="translate(894.8,88.9) scale(0.86,1)" font-size="6.26" text-anchor="start" fill="#666" >服飾雑貨</text>
<circle cx="891.0" cy="94.7" r="2.9" fill="#dfe6f1"/>
<path d="M889.8,94.7 l0.9,0.9 l1.6,-1.8" fill="none" stroke="#fff" stroke-width="0.6" stroke-opacity="0.7"/>
<text transform="translate(894.8,96.8) scale(0.86,1)" font-size="6.26" text-anchor="start" fill="#666" >赤ちゃん用品</text>
<line x1="1009.4" y1="20.0" x2="1009.4" y2="157.0" stroke="#888" stroke-width="1"/>
<rect x="1010.80" y="23.30" width="75.05" height="2.75" fill="#c95b8f" />
<rect x="1010.80" y="26.20" width="7.00" height="2.75" fill="#8e2ea0" />
<rect x="1010.80" y="29.10" width="64.87" height="2.75" fill="#5e1a92" />
<rect x="1010.80" y="32.00" width="27.98" height="2.75" fill="#6a1e96" />
<rect x="1010.80" y="34.90" width="22.90" height="2.75" fill="#f2a381" />
<rect x="1010.80" y="37.80" width="188.89" height="2.75" fill="#e06a84" />
<rect x="1010.80" y="40.70" width="43.25" height="2.75" fill="#cf4e94" />
<rect x="1010.80" y="43.60" width="47.70" height="2.75" fill="#a63ca2" />
<rect x="1010.80" y="46.50" width="7.00" height="2.75" fill="#7a24a0" />
<rect x="1010.80" y="49.40" width="94.13" height="2.75" fill="#4d158a" />
<line x1="1004.0" y1="37.7" x2="1009.4" y2="37.7" stroke="#666" stroke-width="1"/>
<text transform="translate(1001.5,40.0) scale(0.86,1)" font-size="6.48" text-anchor="end" fill="#666" >2009/9</text>
<rect x="1010.80" y="56.90" width="43.25" height="2.75" fill="#c95b8f" />
<rect x="1010.80" y="59.80" width="7.00" height="2.75" fill="#8e2ea0" />
<rect x="1010.80" y="62.70" width="54.70" height="2.75" fill="#5e1a92" />
<rect x="1010.80" y="65.60" width="22.26" height="2.75" fill="#6a1e96" />
<rect x="1010.80" y="68.50" width="24.80" height="2.75" fill="#f2a381" />
<rect x="1010.80" y="71.40" width="197.80" height="2.75" fill="#e06a84" />
<rect x="1010.80" y="74.30" width="52.15" height="2.75" fill="#cf4e94" />
<rect x="1010.80" y="77.20" width="40.07" height="2.75" fill="#a63ca2" />
<rect x="1010.80" y="80.10" width="5.72" height="2.75" fill="#7a24a0" />
<rect x="1010.80" y="83.00" width="61.06" height="2.75" fill="#4d158a" />
<line x1="1004.0" y1="71.3" x2="1009.4" y2="71.3" stroke="#666" stroke-width="1"/>
<text transform="translate(1001.5,73.6) scale(0.86,1)" font-size="6.48" text-anchor="end" fill="#666" >2009/10</text>
<rect x="1010.80" y="90.50" width="41.98" height="2.75" fill="#c95b8f" />
<rect x="1010.80" y="93.40" width="12.72" height="2.75" fill="#8e2ea0" />
<rect x="1010.80" y="96.30" width="59.78" height="2.75" fill="#5e1a92" />
<rect x="1010.80" y="99.20" width="40.07" height="2.75" fill="#6a1e96" />
<rect x="1010.80" y="102.10" width="19.08" height="2.75" fill="#f2a381" />
<rect x="1010.80" y="105.00" width="128.47" height="2.75" fill="#e06a84" />
<rect x="1010.80" y="107.90" width="80.14" height="2.75" fill="#cf4e94" />
<rect x="1010.80" y="110.80" width="24.80" height="2.75" fill="#a63ca2" />
<rect x="1010.80" y="113.70" width="10.18" height="2.75" fill="#7a24a0" />
<rect x="1010.80" y="116.60" width="68.69" height="2.75" fill="#4d158a" />
<line x1="1004.0" y1="104.9" x2="1009.4" y2="104.9" stroke="#666" stroke-width="1"/>
<text transform="translate(1001.5,107.2) scale(0.86,1)" font-size="6.48" text-anchor="end" fill="#666" >2009/11</text>
<rect x="1010.80" y="124.10" width="40.07" height="2.75" fill="#c95b8f" />
<rect x="1010.80" y="127.00" width="8.90" height="2.75" fill="#8e2ea0" />
<rect x="1010.80" y="129.90" width="29.89" height="2.75" fill="#5e1a92" />
<rect x="1010.80" y="132.80" width="40.07" height="2.75" fill="#6a1e96" />
<rect x="1010.80" y="135.70" width="15.26" height="2.75" fill="#f2a381" />
<rect x="1010.80" y="138.60" width="199.70" height="2.75" fill="#e06a84" />
<rect x="1010.80" y="141.50" width="62.96" height="2.75" fill="#cf4e94" />
<rect x="1010.80" y="144.40" width="34.98" height="2.75" fill="#a63ca2" />
<rect x="1010.80" y="147.30" width="5.09" height="2.75" fill="#7a24a0" />
<rect x="1010.80" y="150.20" width="54.06" height="2.75" fill="#4d158a" />
<line x1="1004.0" y1="138.5" x2="1009.4" y2="138.5" stroke="#666" stroke-width="1"/>
<text transform="translate(1001.5,140.8) scale(0.86,1)" font-size="6.48" text-anchor="end" fill="#666" >2009/12</text>
<text transform="translate(1010.8,170.0) scale(0.86,1)" font-size="6.48" text-anchor="middle" fill="#666" >0</text>
<text transform="translate(1042.6,170.0) scale(0.86,1)" font-size="6.48" text-anchor="middle" fill="#666" >5</text>
<text transform="translate(1074.4,170.0) scale(0.86,1)" font-size="6.48" text-anchor="middle" fill="#666" >10</text>
<text transform="translate(1106.2,170.0) scale(0.86,1)" font-size="6.48" text-anchor="middle" fill="#666" >15</text>
<text transform="translate(1138.0,170.0) scale(0.86,1)" font-size="6.48" text-anchor="middle" fill="#666" >20</text>
<text transform="translate(1169.8,170.0) scale(0.86,1)" font-size="6.48" text-anchor="middle" fill="#666" >25</text>
<text transform="translate(1201.6,170.0) scale(0.86,1)" font-size="6.48" text-anchor="middle" fill="#666" >30</text>
<text transform="translate(1233.4,170.0) scale(0.86,1)" font-size="6.48" text-anchor="middle" fill="#666" >35</text>
<text x="1120.0" y="181.0" font-size="6" text-anchor="middle" fill="#555" >販売金額(十万)</text>
<rect x="1246" y="92" width="6" height="21" rx="2" fill="#9c9c9c"/>
<rect x="1247.8" y="101.1" width="2.4" height="2.6" fill="#fff"/>
<line x1="61.0" y1="220.0" x2="61.0" y2="370.0" stroke="#ddd" stroke-width="1"/>
<text transform="translate(54.0,222.3) scale(0.86,1)" font-size="6.48" text-anchor="end" fill="#666" >10</text>
<line x1="58.0" y1="220.0" x2="61.0" y2="220.0" stroke="#ddd" stroke-width="1"/>
<text transform="translate(54.0,259.8) scale(0.86,1)" font-size="6.48" text-anchor="end" fill="#666" >7.5</text>
<line x1="58.0" y1="257.5" x2="61.0" y2="257.5" stroke="#ddd" stroke-width="1"/>
<text transform="translate(54.0,297.3) scale(0.86,1)" font-size="6.48" text-anchor="end" fill="#666" >5</text>
<line x1="58.0" y1="295.0" x2="61.0" y2="295.0" stroke="#ddd" stroke-width="1"/>
<text transform="translate(54.0,334.8) scale(0.86,1)" font-size="6.48" text-anchor="end" fill="#666" >2.5</text>
<line x1="58.0" y1="332.5" x2="61.0" y2="332.5" stroke="#ddd" stroke-width="1"/>
<text transform="translate(54.0,372.3) scale(0.86,1)" font-size="6.48" text-anchor="end" fill="#666" >0</text>
<line x1="58.0" y1="370.0" x2="61.0" y2="370.0" stroke="#ddd" stroke-width="1"/>
<text x="39.0" y="275.1" font-size="5.5" text-anchor="middle" fill="#555">販</text>
<text x="39.0" y="281.2" font-size="5.5" text-anchor="middle" fill="#555">売</text>
<text x="39.0" y="287.3" font-size="5.5" text-anchor="middle" fill="#555">金</text>
<text x="39.0" y="293.4" font-size="5.5" text-anchor="middle" fill="#555">額</text>
<text x="39.0" y="297.9" font-size="5.5" text-anchor="middle" fill="#555">︵</text>
<text x="39.0" y="302.5" font-size="5.5" text-anchor="middle" fill="#555">百</text>
<text x="39.0" y="308.6" font-size="5.5" text-anchor="middle" fill="#555">万</text>
<text x="39.0" y="313.1" font-size="5.5" text-anchor="middle" fill="#555">︶</text>
<line x1="61.0" y1="370.5" x2="246.0" y2="370.5" stroke="#bbb" stroke-width="1"/>
<rect x="67.00" y="366.25" width="9.50" height="3.75" fill="#e3166f" />
<rect x="67.00" y="365.50" width="9.50" height="0.75" fill="#2bbcc0" />
<rect x="67.00" y="363.10" width="9.50" height="2.40" fill="#f6c713" />
<rect x="67.00" y="358.45" width="9.50" height="4.65" fill="#3b89d8" />
<rect x="67.00" y="346.60" width="9.50" height="11.85" fill="#f99d4e" />
<rect x="67.00" y="343.00" width="9.50" height="3.60" fill="#6a47a8" />
<rect x="67.00" y="338.80" width="9.50" height="4.20" fill="#f2d42b" />
<rect x="67.00" y="335.95" width="9.50" height="2.85" fill="#f767b0" />
<rect x="67.00" y="335.20" width="9.50" height="0.75" fill="#5aad6a" />
<rect x="67.00" y="329.50" width="9.50" height="5.70" fill="#9ed65a" />
<line x1="71.8" y1="370.0" x2="71.8" y2="374.0" stroke="#999" stroke-width="1"/>
<rect x="81.90" y="364.75" width="9.50" height="5.25" fill="#e3166f" />
<rect x="81.90" y="363.85" width="9.50" height="0.90" fill="#2bbcc0" />
<rect x="81.90" y="360.85" width="9.50" height="3.00" fill="#f6c713" />
<rect x="81.90" y="356.20" width="9.50" height="4.65" fill="#3b89d8" />
<rect x="81.90" y="343.60" width="9.50" height="12.60" fill="#f99d4e" />
<rect x="81.90" y="339.85" width="9.50" height="3.75" fill="#6a47a8" />
<rect x="81.90" y="338.20" width="9.50" height="1.65" fill="#f2d42b" />
<rect x="81.90" y="335.80" width="9.50" height="2.40" fill="#f767b0" />
<rect x="81.90" y="333.85" width="9.50" height="1.95" fill="#5aad6a" />
<rect x="81.90" y="331.45" width="9.50" height="2.40" fill="#9ed65a" />
<line x1="86.7" y1="370.0" x2="86.7" y2="374.0" stroke="#999" stroke-width="1"/>
<rect x="96.80" y="363.85" width="9.50" height="6.15" fill="#e3166f" />
<rect x="96.80" y="362.65" width="9.50" height="1.20" fill="#2bbcc0" />
<rect x="96.80" y="357.25" width="9.50" height="5.40" fill="#f6c713" />
<rect x="96.80" y="356.05" width="9.50" height="1.20" fill="#3b89d8" />
<rect x="96.80" y="344.95" width="9.50" height="11.10" fill="#f99d4e" />
<rect x="96.80" y="341.20" width="9.50" height="3.75" fill="#6a47a8" />
<rect x="96.80" y="339.55" width="9.50" height="1.65" fill="#f2d42b" />
<rect x="96.80" y="335.35" width="9.50" height="4.20" fill="#f767b0" />
<rect x="96.80" y="332.50" width="9.50" height="2.85" fill="#5aad6a" />
<rect x="96.80" y="327.25" width="9.50" height="5.25" fill="#9ed65a" />
<line x1="101.5" y1="370.0" x2="101.5" y2="374.0" stroke="#999" stroke-width="1"/>
<rect x="111.70" y="366.70" width="9.50" height="3.30" fill="#e3166f" />
<rect x="111.70" y="365.95" width="9.50" height="0.75" fill="#2bbcc0" />
<rect x="111.70" y="356.05" width="9.50" height="9.90" fill="#f6c713" />
<rect x="111.70" y="354.40" width="9.50" height="1.65" fill="#3b89d8" />
<rect x="111.70" y="336.55" width="9.50" height="17.85" fill="#f99d4e" />
<rect x="111.70" y="334.60" width="9.50" height="1.95" fill="#6a47a8" />
<rect x="111.70" y="332.95" width="9.50" height="1.65" fill="#f2d42b" />
<rect x="111.70" y="329.35" width="9.50" height="3.60" fill="#f767b0" />
<rect x="111.70" y="328.15" width="9.50" height="1.20" fill="#5aad6a" />
<rect x="111.70" y="322.30" width="9.50" height="5.85" fill="#9ed65a" />
<line x1="116.5" y1="370.0" x2="116.5" y2="374.0" stroke="#999" stroke-width="1"/>
<rect x="126.60" y="357.25" width="9.50" height="12.75" fill="#e3166f" />
<rect x="126.60" y="356.50" width="9.50" height="0.75" fill="#2bbcc0" />
<rect x="126.60" y="351.85" width="9.50" height="4.65" fill="#f6c713" />
<rect x="126.60" y="344.80" width="9.50" height="7.05" fill="#3b89d8" />
<rect x="126.60" y="332.05" width="9.50" height="12.75" fill="#f99d4e" />
<rect x="126.60" y="330.10" width="9.50" height="1.95" fill="#6a47a8" />
<rect x="126.60" y="327.70" width="9.50" height="2.40" fill="#f2d42b" />
<rect x="126.60" y="324.10" width="9.50" height="3.60" fill="#f767b0" />
<rect x="126.60" y="323.65" width="9.50" height="0.45" fill="#5aad6a" />
<rect x="126.60" y="317.05" width="9.50" height="6.60" fill="#9ed65a" />
<line x1="131.3" y1="370.0" x2="131.3" y2="374.0" stroke="#999" stroke-width="1"/>
<rect x="141.50" y="364.30" width="9.50" height="5.70" fill="#e3166f" />
<rect x="141.50" y="363.10" width="9.50" height="1.20" fill="#2bbcc0" />
<rect x="141.50" y="360.25" width="9.50" height="2.85" fill="#f6c713" />
<rect x="141.50" y="356.65" width="9.50" height="3.60" fill="#3b89d8" />
<rect x="141.50" y="346.45" width="9.50" height="10.20" fill="#f99d4e" />
<rect x="141.50" y="344.50" width="9.50" height="1.95" fill="#6a47a8" />
<rect x="141.50" y="341.65" width="9.50" height="2.85" fill="#f2d42b" />
<rect x="141.50" y="338.05" width="9.50" height="3.60" fill="#f767b0" />
<rect x="141.50" y="337.30" width="9.50" height="0.75" fill="#5aad6a" />
<rect x="141.50" y="331.00" width="9.50" height="6.30" fill="#9ed65a" />
<line x1="146.2" y1="370.0" x2="146.2" y2="374.0" stroke="#999" stroke-width="1"/>
<rect x="156.40" y="359.20" width="9.50" height="10.80" fill="#e3166f" />
<rect x="156.40" y="358.45" width="9.50" height="0.75" fill="#2bbcc0" />
<rect x="156.40" y="349.45" width="9.50" height="9.00" fill="#f6c713" />
<rect x="156.40" y="341.95" width="9.50" height="7.50" fill="#3b89d8" />
<rect x="156.40" y="317.65" width="9.50" height="24.30" fill="#f99d4e" />
<rect x="156.40" y="313.60" width="9.50" height="4.05" fill="#6a47a8" />
<rect x="156.40" y="305.80" width="9.50" height="7.80" fill="#f2d42b" />
<rect x="156.40" y="302.20" width="9.50" height="3.60" fill="#f767b0" />
<rect x="156.40" y="301.30" width="9.50" height="0.90" fill="#5aad6a" />
<rect x="156.40" y="292.30" width="9.50" height="9.00" fill="#9ed65a" />
<line x1="161.2" y1="370.0" x2="161.2" y2="374.0" stroke="#999" stroke-width="1"/>
<rect x="171.30" y="363.10" width="9.50" height="6.90" fill="#e3166f" />
<rect x="171.30" y="360.70" width="9.50" height="2.40" fill="#2bbcc0" />
<rect x="171.30" y="352.90" width="9.50" height="7.80" fill="#f6c713" />
<rect x="171.30" y="337.60" width="9.50" height="15.30" fill="#3b89d8" />
<rect x="171.30" y="317.05" width="9.50" height="20.55" fill="#f99d4e" />
<rect x="171.30" y="312.40" width="9.50" height="4.65" fill="#6a47a8" />
<rect x="171.30" y="309.55" width="9.50" height="2.85" fill="#f2d42b" />
<rect x="171.30" y="303.40" width="9.50" height="6.15" fill="#f767b0" />
<rect x="171.30" y="302.50" width="9.50" height="0.90" fill="#5aad6a" />
<rect x="171.30" y="296.65" width="9.50" height="5.85" fill="#9ed65a" />
<line x1="176.1" y1="370.0" x2="176.1" y2="374.0" stroke="#999" stroke-width="1"/>
<rect x="186.20" y="347.80" width="9.50" height="22.20" fill="#e3166f" />
<rect x="186.20" y="346.15" width="9.50" height="1.65" fill="#2bbcc0" />
<rect x="186.20" y="334.90" width="9.50" height="11.25" fill="#f6c713" />
<rect x="186.20" y="324.70" width="9.50" height="10.20" fill="#3b89d8" />
<rect x="186.20" y="280.15" width="9.50" height="44.55" fill="#f99d4e" />
<rect x="186.20" y="274.75" width="9.50" height="5.40" fill="#6a47a8" />
<rect x="186.20" y="268.15" width="9.50" height="6.60" fill="#f2d42b" />
<rect x="186.20" y="252.85" width="9.50" height="15.30" fill="#f767b0" />
<rect x="186.20" y="251.20" width="9.50" height="1.65" fill="#5aad6a" />
<rect x="186.20" y="233.50" width="9.50" height="17.70" fill="#9ed65a" />
<line x1="190.9" y1="370.0" x2="190.9" y2="374.0" stroke="#999" stroke-width="1"/>
<rect x="201.10" y="355.60" width="9.50" height="14.40" fill="#e3166f" />
<rect x="201.10" y="354.25" width="9.50" height="1.35" fill="#2bbcc0" />
<rect x="201.10" y="344.80" width="9.50" height="9.45" fill="#f6c713" />
<rect x="201.10" y="332.50" width="9.50" height="12.30" fill="#3b89d8" />
<rect x="201.10" y="285.85" width="9.50" height="46.65" fill="#f99d4e" />
<rect x="201.10" y="280.00" width="9.50" height="5.85" fill="#6a47a8" />
<rect x="201.10" y="274.75" width="9.50" height="5.25" fill="#f2d42b" />
<rect x="201.10" y="261.85" width="9.50" height="12.90" fill="#f767b0" />
<rect x="201.10" y="260.20" width="9.50" height="1.65" fill="#5aad6a" />
<rect x="201.10" y="250.00" width="9.50" height="10.20" fill="#9ed65a" />
<line x1="205.8" y1="370.0" x2="205.8" y2="374.0" stroke="#999" stroke-width="1"/>
<rect x="216.00" y="353.80" width="9.50" height="16.20" fill="#e3166f" />
<rect x="216.00" y="351.40" width="9.50" height="2.40" fill="#2bbcc0" />
<rect x="216.00" y="345.55" width="9.50" height="5.85" fill="#f6c713" />
<rect x="216.00" y="326.65" width="9.50" height="18.90" fill="#3b89d8" />
<rect x="216.00" y="296.35" width="9.50" height="30.30" fill="#f99d4e" />
<rect x="216.00" y="291.85" width="9.50" height="4.50" fill="#6a47a8" />
<rect x="216.00" y="282.40" width="9.50" height="9.45" fill="#f2d42b" />
<rect x="216.00" y="268.30" width="9.50" height="14.10" fill="#f767b0" />
<rect x="216.00" y="265.30" width="9.50" height="3.00" fill="#5aad6a" />
<rect x="216.00" y="255.40" width="9.50" height="9.90" fill="#9ed65a" />
<line x1="220.8" y1="370.0" x2="220.8" y2="374.0" stroke="#999" stroke-width="1"/>
<rect x="230.90" y="357.25" width="9.50" height="12.75" fill="#e3166f" />
<rect x="230.90" y="356.05" width="9.50" height="1.20" fill="#2bbcc0" />
<rect x="230.90" y="347.80" width="9.50" height="8.25" fill="#f6c713" />
<rect x="230.90" y="332.95" width="9.50" height="14.85" fill="#3b89d8" />
<rect x="230.90" y="285.85" width="9.50" height="47.10" fill="#f99d4e" />
<rect x="230.90" y="282.25" width="9.50" height="3.60" fill="#6a47a8" />
<rect x="230.90" y="272.80" width="9.50" height="9.45" fill="#f2d42b" />
<rect x="230.90" y="265.75" width="9.50" height="7.05" fill="#f767b0" />
<rect x="230.90" y="263.65" width="9.50" height="2.10" fill="#5aad6a" />
<rect x="230.90" y="254.20" width="9.50" height="9.45" fill="#9ed65a" />
<line x1="235.7" y1="370.0" x2="235.7" y2="374.0" stroke="#999" stroke-width="1"/>
<text transform="translate(72.0,386.0) scale(0.86,1)" font-size="6.48" text-anchor="middle" fill="#666" >2009/1</text>
<text transform="translate(101.8,386.0) scale(0.86,1)" font-size="6.48" text-anchor="middle" fill="#666" >2009/3</text>
<text transform="translate(131.6,386.0) scale(0.86,1)" font-size="6.48" text-anchor="middle" fill="#666" >2009/5</text>
<text transform="translate(161.4,386.0) scale(0.86,1)" font-size="6.48" text-anchor="middle" fill="#666" >2009/7</text>
<text transform="translate(191.2,386.0) scale(0.86,1)" font-size="6.48" text-anchor="middle" fill="#666" >2009/9</text>
<text transform="translate(221.0,386.0) scale(0.86,1)" font-size="6.48" text-anchor="middle" fill="#666" >2009/11</text>
<rect x="249.70" y="215.00" width="4.60" height="4.60" fill="#fff" stroke="#9ed65a" stroke-width="1.1"/>
<text transform="translate(255.8,219.4) scale(0.86,1)" font-size="6.26" text-anchor="start" fill="#666" >赤ちゃん用品</text>
<rect x="249.70" y="223.10" width="4.60" height="4.60" fill="#fff" stroke="#5aad6a" stroke-width="1.1"/>
<text transform="translate(255.8,227.5) scale(0.86,1)" font-size="6.26" text-anchor="start" fill="#666" >服飾雑貨</text>
<rect x="249.70" y="231.20" width="4.60" height="4.60" fill="#fff" stroke="#f767b0" stroke-width="1.1"/>
<text transform="translate(255.8,235.6) scale(0.86,1)" font-size="6.26" text-anchor="start" fill="#666" >文房具</text>
<rect x="249.70" y="239.30" width="4.60" height="4.60" fill="#fff" stroke="#f2d42b" stroke-width="1.1"/>
<text transform="translate(255.8,243.7) scale(0.86,1)" font-size="6.26" text-anchor="start" fill="#666" >寝具</text>
<rect x="249.70" y="247.40" width="4.60" height="4.60" fill="#fff" stroke="#6a47a8" stroke-width="1.1"/>
<text transform="translate(255.8,251.8) scale(0.86,1)" font-size="6.26" text-anchor="start" fill="#666" >家電</text>
<rect x="249.70" y="255.50" width="4.60" height="4.60" fill="#fff" stroke="#f99d4e" stroke-width="1.1"/>
<text transform="translate(255.8,259.9) scale(0.86,1)" font-size="6.26" text-anchor="start" fill="#666" >婦人服</text>
<rect x="249.70" y="263.60" width="4.60" height="4.60" fill="#fff" stroke="#3b89d8" stroke-width="1.1"/>
<text transform="translate(255.8,268.0) scale(0.86,1)" font-size="6.26" text-anchor="start" fill="#666" >医薬品</text>
<rect x="249.70" y="271.70" width="4.60" height="4.60" fill="#fff" stroke="#f6c713" stroke-width="1.1"/>
<text transform="translate(255.8,276.1) scale(0.86,1)" font-size="6.26" text-anchor="start" fill="#666" >化粧品、美容雑貨</text>
<rect x="249.70" y="279.80" width="4.60" height="4.60" fill="#fff" stroke="#2bbcc0" stroke-width="1.1"/>
<text transform="translate(255.8,284.2) scale(0.86,1)" font-size="6.26" text-anchor="start" fill="#666" >スノーボード</text>
<rect x="249.70" y="287.90" width="4.60" height="4.60" fill="#fff" stroke="#e3166f" stroke-width="1.1"/>
<text transform="translate(255.8,292.3) scale(0.86,1)" font-size="6.26" text-anchor="start" fill="#666" >アウトドア</text>
<text transform="translate(357.0,235.0) scale(0.86,1)" font-size="6.48" text-anchor="end" fill="#666" >90</text>
<text transform="translate(357.0,250.2) scale(0.86,1)" font-size="6.48" text-anchor="end" fill="#666" >80</text>
<text transform="translate(357.0,265.4) scale(0.86,1)" font-size="6.48" text-anchor="end" fill="#666" >70</text>
<text transform="translate(357.0,280.5) scale(0.86,1)" font-size="6.48" text-anchor="end" fill="#666" >60</text>
<text transform="translate(357.0,295.7) scale(0.86,1)" font-size="6.48" text-anchor="end" fill="#666" >50</text>
<text transform="translate(357.0,310.9) scale(0.86,1)" font-size="6.48" text-anchor="end" fill="#666" >40</text>
<text transform="translate(357.0,326.1) scale(0.86,1)" font-size="6.48" text-anchor="end" fill="#666" >30</text>
<text transform="translate(357.0,341.2) scale(0.86,1)" font-size="6.48" text-anchor="end" fill="#666" >20</text>
<text transform="translate(357.0,356.4) scale(0.86,1)" font-size="6.48" text-anchor="end" fill="#666" >10</text>
<text transform="translate(357.0,371.6) scale(0.86,1)" font-size="6.48" text-anchor="end" fill="#666" >0</text>
<text transform="translate(569.0,232.3) scale(0.86,1)" font-size="6.48" text-anchor="middle" fill="#666" >600</text>
<text transform="translate(569.0,255.5) scale(0.86,1)" font-size="6.48" text-anchor="middle" fill="#666" >500</text>
<text transform="translate(569.0,278.7) scale(0.86,1)" font-size="6.48" text-anchor="middle" fill="#666" >400</text>
<text transform="translate(569.0,301.9) scale(0.86,1)" font-size="6.48" text-anchor="middle" fill="#666" >300</text>
<text transform="translate(569.0,325.2) scale(0.86,1)" font-size="6.48" text-anchor="middle" fill="#666" >200</text>
<text transform="translate(569.0,348.4) scale(0.86,1)" font-size="6.48" text-anchor="middle" fill="#666" >100</text>
<text transform="translate(569.0,371.6) scale(0.86,1)" font-size="6.48" text-anchor="middle" fill="#666" >0</text>
<text x="343.0" y="275.1" font-size="5.5" text-anchor="middle" fill="#555">販</text>
<text x="343.0" y="281.2" font-size="5.5" text-anchor="middle" fill="#555">売</text>
<text x="343.0" y="287.3" font-size="5.5" text-anchor="middle" fill="#555">金</text>
<text x="343.0" y="293.4" font-size="5.5" text-anchor="middle" fill="#555">額</text>
<text x="343.0" y="297.9" font-size="5.5" text-anchor="middle" fill="#555">︵</text>
<text x="343.0" y="302.5" font-size="5.5" text-anchor="middle" fill="#555">十</text>
<text x="343.0" y="308.6" font-size="5.5" text-anchor="middle" fill="#555">万</text>
<text x="343.0" y="313.1" font-size="5.5" text-anchor="middle" fill="#555">︶</text>
<text x="577.0" y="288.0" font-size="5.5" text-anchor="middle" fill="#555">販</text>
<text x="577.0" y="294.1" font-size="5.5" text-anchor="middle" fill="#555">売</text>
<text x="577.0" y="300.2" font-size="5.5" text-anchor="middle" fill="#555">数</text>
<rect x="372.30" y="313.29" width="16.00" height="56.01" fill="#17aaa6" />
<line x1="380.3" y1="370.8" x2="380.3" y2="375.8" stroke="#888" stroke-width="0.8"/>
<text transform="translate(380.3,386.0) scale(0.86,1)" font-size="6.48" text-anchor="middle" fill="#666" >2009/5</text>
<rect x="395.60" y="329.38" width="16.00" height="39.92" fill="#17aaa6" />
<line x1="403.6" y1="370.8" x2="403.6" y2="375.8" stroke="#888" stroke-width="0.8"/>
<text transform="translate(403.6,386.0) scale(0.86,1)" font-size="6.48" text-anchor="middle" fill="#666" >2009/6</text>
<rect x="418.90" y="288.40" width="16.00" height="80.90" fill="#17aaa6" />
<line x1="426.9" y1="370.8" x2="426.9" y2="375.8" stroke="#888" stroke-width="0.8"/>
<text transform="translate(426.9,386.0) scale(0.86,1)" font-size="6.48" text-anchor="middle" fill="#666" >2009/7</text>
<rect x="442.20" y="293.41" width="16.00" height="75.89" fill="#17aaa6" />
<line x1="450.2" y1="370.8" x2="450.2" y2="375.8" stroke="#888" stroke-width="0.8"/>
<text transform="translate(450.2,386.0) scale(0.86,1)" font-size="6.48" text-anchor="middle" fill="#666" >2009/8</text>
<rect x="465.50" y="233.31" width="16.00" height="135.99" fill="#17aaa6" />
<line x1="473.5" y1="370.8" x2="473.5" y2="375.8" stroke="#888" stroke-width="0.8"/>
<text transform="translate(473.5,386.0) scale(0.86,1)" font-size="6.48" text-anchor="middle" fill="#666" >2009/9</text>
<rect x="488.80" y="251.67" width="16.00" height="117.63" fill="#17aaa6" />
<line x1="496.8" y1="370.8" x2="496.8" y2="375.8" stroke="#888" stroke-width="0.8"/>
<text transform="translate(496.8,386.0) scale(0.86,1)" font-size="6.48" text-anchor="middle" fill="#666" >2009/10</text>
<rect x="512.10" y="255.01" width="16.00" height="114.29" fill="#17aaa6" />
<line x1="520.1" y1="370.8" x2="520.1" y2="375.8" stroke="#888" stroke-width="0.8"/>
<rect x="535.40" y="244.99" width="16.00" height="124.31" fill="#17aaa6" />
<line x1="543.4" y1="370.8" x2="543.4" y2="375.8" stroke="#888" stroke-width="0.8"/>
<text transform="translate(543.4,386.0) scale(0.86,1)" font-size="6.48" text-anchor="middle" fill="#666" >2009/12</text>
<polyline points="380.0,316.0 403.3,330.0 426.7,291.0 450.0,295.0 473.3,231.0 496.7,247.7 519.3,254.3 542.7,252.3" fill="none" stroke="#1a3a8e" stroke-width="2.0" stroke-linejoin="round" />
<circle cx="380.0" cy="316.0" r="2.8" fill="#fff" stroke="#1a3a8e" stroke-width="1.3" />
<circle cx="403.3" cy="330.0" r="2.8" fill="#fff" stroke="#1a3a8e" stroke-width="1.3" />
<circle cx="426.7" cy="291.0" r="2.8" fill="#fff" stroke="#1a3a8e" stroke-width="1.3" />
<circle cx="450.0" cy="295.0" r="2.8" fill="#fff" stroke="#1a3a8e" stroke-width="1.3" />
<circle cx="473.3" cy="231.0" r="2.8" fill="#fff" stroke="#1a3a8e" stroke-width="1.3" />
<circle cx="496.7" cy="247.7" r="2.8" fill="#fff" stroke="#1a3a8e" stroke-width="1.3" />
<circle cx="519.3" cy="254.3" r="2.8" fill="#fff" stroke="#1a3a8e" stroke-width="1.3" />
<circle cx="542.7" cy="252.3" r="2.8" fill="#fff" stroke="#1a3a8e" stroke-width="1.3" />
<circle cx="592.7" cy="218.3" r="2.5" fill="#fff" stroke="#1c3f94" stroke-width="1.3" />
<text transform="translate(596.6,220.4) scale(0.86,1)" font-size="6.26" text-anchor="start" fill="#666" >販売金額</text>
<circle cx="592.7" cy="225.9" r="2.5" fill="#fff" stroke="#17aaa6" stroke-width="1.3" />
<text transform="translate(596.6,228.0) scale(0.86,1)" font-size="6.26" text-anchor="start" fill="#666" >販売数</text>
<rect x="584" y="295" width="5" height="21" rx="2" fill="#9c9c9c"/>
<rect x="585.3" y="304.1" width="2.4" height="2.6" fill="#fff"/>
<rect x="689.30" y="255.70" width="9.20" height="22.34" fill="#6cbf50" />
<rect x="698.20" y="255.70" width="9.20" height="22.34" fill="#fc9a12" />
<rect x="707.10" y="255.70" width="9.20" height="22.34" fill="#fcc00c" />
<rect x="716.00" y="255.70" width="9.20" height="22.34" fill="#fc9a12" />
<rect x="724.90" y="255.70" width="9.20" height="22.34" fill="#fc9a12" />
<rect x="733.80" y="255.70" width="9.20" height="22.34" fill="#6cbf50" />
<rect x="742.70" y="255.70" width="9.20" height="22.34" fill="#aac432" />
<rect x="751.60" y="255.70" width="9.20" height="22.34" fill="#1a9aa2" />
<rect x="760.50" y="255.70" width="9.20" height="22.34" fill="#6cbf50" />
<rect x="769.40" y="255.70" width="9.20" height="22.34" fill="#fc9a12" />
<rect x="778.30" y="255.70" width="9.20" height="22.34" fill="#fcc00c" />
<rect x="787.20" y="255.70" width="9.20" height="22.34" fill="#1c78b2" />
<rect x="796.10" y="255.70" width="9.20" height="22.34" fill="#1a9aa2" />
<rect x="805.00" y="255.70" width="9.20" height="22.34" fill="#f26418" />
<rect x="813.90" y="255.70" width="9.20" height="22.34" fill="#6cbf50" />
<rect x="822.80" y="255.70" width="9.20" height="22.34" fill="#22b88e" />
<rect x="831.70" y="255.70" width="9.20" height="22.34" fill="#fc9a12" />
<rect x="840.60" y="255.70" width="9.20" height="22.34" fill="#6cbf50" />
<rect x="849.50" y="255.70" width="9.20" height="22.34" fill="#fc9a12" />
<rect x="858.40" y="255.70" width="9.20" height="22.34" fill="#fc9a12" />
<rect x="867.30" y="255.70" width="9.20" height="22.34" fill="#aac432" />
<rect x="876.20" y="255.70" width="9.20" height="22.34" fill="#d01414" />
<rect x="885.10" y="255.70" width="9.20" height="22.34" fill="#6cbf50" />
<rect x="894.00" y="255.70" width="9.20" height="22.34" fill="#fcc00c" />
<rect x="902.90" y="255.70" width="9.20" height="22.34" fill="#1a9aa2" />
<rect x="911.80" y="255.70" width="9.20" height="22.34" fill="#22b88e" />
<rect x="920.70" y="255.70" width="9.20" height="22.34" fill="#22b88e" />
<rect x="929.60" y="255.70" width="9.20" height="22.34" fill="#aac432" />
<rect x="938.50" y="255.70" width="9.20" height="22.34" fill="#aac432" />
<rect x="689.30" y="277.74" width="9.20" height="22.34" fill="#aac432" />
<rect x="698.20" y="277.74" width="9.20" height="22.34" fill="#1a9aa2" />
<rect x="707.10" y="277.74" width="9.20" height="22.34" fill="#6cbf50" />
<rect x="716.00" y="277.74" width="9.20" height="22.34" fill="#1a9aa2" />
<rect x="724.90" y="277.74" width="9.20" height="22.34" fill="#fcc00c" />
<rect x="733.80" y="277.74" width="9.20" height="22.34" fill="#1c78b2" />
<rect x="742.70" y="277.74" width="9.20" height="22.34" fill="#22b88e" />
<rect x="751.60" y="277.74" width="9.20" height="22.34" fill="#1a9aa2" />
<rect x="760.50" y="277.74" width="9.20" height="22.34" fill="#22b88e" />
<rect x="769.40" y="277.74" width="9.20" height="22.34" fill="#22b88e" />
<rect x="778.30" y="277.74" width="9.20" height="22.34" fill="#6cbf50" />
<rect x="787.20" y="277.74" width="9.20" height="22.34" fill="#1c78b2" />
<rect x="796.10" y="277.74" width="9.20" height="22.34" fill="#22b88e" />
<rect x="805.00" y="277.74" width="9.20" height="22.34" fill="#6cbf50" />
<rect x="813.90" y="277.74" width="9.20" height="22.34" fill="#22b88e" />
<rect x="822.80" y="277.74" width="9.20" height="22.34" fill="#1c78b2" />
<rect x="831.70" y="277.74" width="9.20" height="22.34" fill="#6cbf50" />
<rect x="840.60" y="277.74" width="9.20" height="22.34" fill="#1c78b2" />
<rect x="849.50" y="277.74" width="9.20" height="22.34" fill="#6cbf50" />
<rect x="858.40" y="277.74" width="9.20" height="22.34" fill="#aac432" />
<rect x="867.30" y="277.74" width="9.20" height="22.34" fill="#1c78b2" />
<rect x="876.20" y="277.74" width="9.20" height="22.34" fill="#fcc00c" />
<rect x="885.10" y="277.74" width="9.20" height="22.34" fill="#22b88e" />
<rect x="894.00" y="277.74" width="9.20" height="22.34" fill="#22b88e" />
<rect x="902.90" y="277.74" width="9.20" height="22.34" fill="#1c78b2" />
<rect x="911.80" y="277.74" width="9.20" height="22.34" fill="#1a9aa2" />
<rect x="920.70" y="277.74" width="9.20" height="22.34" fill="#6cbf50" />
<rect x="929.60" y="277.74" width="9.20" height="22.34" fill="#22b88e" />
<rect x="938.50" y="277.74" width="9.20" height="22.34" fill="#6cbf50" />
<rect x="689.30" y="299.78" width="9.20" height="22.34" fill="#fcc00c" />
<rect x="698.20" y="299.78" width="9.20" height="22.34" fill="#6cbf50" />
<rect x="707.10" y="299.78" width="9.20" height="22.34" fill="#aac432" />
<rect x="716.00" y="299.78" width="9.20" height="22.34" fill="#aac432" />
<rect x="724.90" y="299.78" width="9.20" height="22.34" fill="#fcc00c" />
<rect x="733.80" y="299.78" width="9.20" height="22.34" fill="#6cbf50" />
<rect x="742.70" y="299.78" width="9.20" height="22.34" fill="#aac432" />
<rect x="751.60" y="299.78" width="9.20" height="22.34" fill="#6cbf50" />
<rect x="760.50" y="299.78" width="9.20" height="22.34" fill="#fcc00c" />
<rect x="769.40" y="299.78" width="9.20" height="22.34" fill="#fcc00c" />
<rect x="778.30" y="299.78" width="9.20" height="22.34" fill="#fcc00c" />
<rect x="787.20" y="299.78" width="9.20" height="22.34" fill="#1c78b2" />
<rect x="796.10" y="299.78" width="9.20" height="22.34" fill="#6cbf50" />
<rect x="805.00" y="299.78" width="9.20" height="22.34" fill="#f26418" />
<rect x="813.90" y="299.78" width="9.20" height="22.34" fill="#22b88e" />
<rect x="822.80" y="299.78" width="9.20" height="22.34" fill="#fcc00c" />
<rect x="831.70" y="299.78" width="9.20" height="22.34" fill="#fc9a12" />
<rect x="840.60" y="299.78" width="9.20" height="22.34" fill="#6cbf50" />
<rect x="849.50" y="299.78" width="9.20" height="22.34" fill="#f26418" />
<rect x="858.40" y="299.78" width="9.20" height="22.34" fill="#aac432" />
<rect x="867.30" y="299.78" width="9.20" height="22.34" fill="#fcc00c" />
<rect x="876.20" y="299.78" width="9.20" height="22.34" fill="#d01414" />
<rect x="885.10" y="299.78" width="9.20" height="22.34" fill="#fc9a12" />
<rect x="894.00" y="299.78" width="9.20" height="22.34" fill="#6cbf50" />
<rect x="902.90" y="299.78" width="9.20" height="22.34" fill="#1a9aa2" />
<rect x="911.80" y="299.78" width="9.20" height="22.34" fill="#6cbf50" />
<rect x="920.70" y="299.78" width="9.20" height="22.34" fill="#fc9a12" />
<rect x="929.60" y="299.78" width="9.20" height="22.34" fill="#6cbf50" />
<rect x="938.50" y="299.78" width="9.20" height="22.34" fill="#6cbf50" />
<rect x="689.30" y="321.82" width="9.20" height="22.34" fill="#22b88e" />
<rect x="698.20" y="321.82" width="9.20" height="22.34" fill="#1a9aa2" />
<rect x="707.10" y="321.82" width="9.20" height="22.34" fill="#fcc00c" />
<rect x="716.00" y="321.82" width="9.20" height="22.34" fill="#1a9aa2" />
<rect x="724.90" y="321.82" width="9.20" height="22.34" fill="#aac432" />
<rect x="733.80" y="321.82" width="9.20" height="22.34" fill="#1c78b2" />
<rect x="742.70" y="321.82" width="9.20" height="22.34" fill="#6cbf50" />
<rect x="751.60" y="321.82" width="9.20" height="22.34" fill="#1a9aa2" />
<rect x="760.50" y="321.82" width="9.20" height="22.34" fill="#1a9aa2" />
<rect x="769.40" y="321.82" width="9.20" height="22.34" fill="#22b88e" />
<rect x="778.30" y="321.82" width="9.20" height="22.34" fill="#22b88e" />
<rect x="787.20" y="321.82" width="9.20" height="22.34" fill="#2060be" />
<rect x="796.10" y="321.82" width="9.20" height="22.34" fill="#2060be" />
<rect x="805.00" y="321.82" width="9.20" height="22.34" fill="#1a9aa2" />
<rect x="813.90" y="321.82" width="9.20" height="22.34" fill="#6cbf50" />
<rect x="822.80" y="321.82" width="9.20" height="22.34" fill="#1a9aa2" />
<rect x="831.70" y="321.82" width="9.20" height="22.34" fill="#fcc00c" />
<rect x="840.60" y="321.82" width="9.20" height="22.34" fill="#6cbf50" />
<rect x="849.50" y="321.82" width="9.20" height="22.34" fill="#fcc00c" />
<rect x="858.40" y="321.82" width="9.20" height="22.34" fill="#22b88e" />
<rect x="867.30" y="321.82" width="9.20" height="22.34" fill="#1a9aa2" />
<rect x="876.20" y="321.82" width="9.20" height="22.34" fill="#6cbf50" />
<rect x="885.10" y="321.82" width="9.20" height="22.34" fill="#6cbf50" />
<rect x="894.00" y="321.82" width="9.20" height="22.34" fill="#6cbf50" />
<rect x="902.90" y="321.82" width="9.20" height="22.34" fill="#1c78b2" />
<rect x="911.80" y="321.82" width="9.20" height="22.34" fill="#aac432" />
<rect x="920.70" y="321.82" width="9.20" height="22.34" fill="#6cbf50" />
<rect x="929.60" y="321.82" width="9.20" height="22.34" fill="#6cbf50" />
<rect x="938.50" y="321.82" width="9.20" height="22.34" fill="#1a9aa2" />
<rect x="689.30" y="343.86" width="9.20" height="22.34" fill="#22b88e" />
<rect x="698.20" y="343.86" width="9.20" height="22.34" fill="#6cbf50" />
<rect x="707.10" y="343.86" width="9.20" height="22.34" fill="#22b88e" />
<rect x="716.00" y="343.86" width="9.20" height="22.34" fill="#fcc00c" />
<rect x="724.90" y="343.86" width="9.20" height="22.34" fill="#6cbf50" />
<rect x="733.80" y="343.86" width="9.20" height="22.34" fill="#22b88e" />
<rect x="742.70" y="343.86" width="9.20" height="22.34" fill="#6cbf50" />
<rect x="751.60" y="343.86" width="9.20" height="22.34" fill="#1c78b2" />
<rect x="760.50" y="343.86" width="9.20" height="22.34" fill="#aac432" />
<rect x="769.40" y="343.86" width="9.20" height="22.34" fill="#6cbf50" />
<rect x="778.30" y="343.86" width="9.20" height="22.34" fill="#fc9a12" />
<rect x="787.20" y="343.86" width="9.20" height="22.34" fill="#1c78b2" />
<rect x="796.10" y="343.86" width="9.20" height="22.34" fill="#1c78b2" />
<rect x="805.00" y="343.86" width="9.20" height="22.34" fill="#fcc00c" />
<rect x="813.90" y="343.86" width="9.20" height="22.34" fill="#fcc00c" />
<rect x="822.80" y="343.86" width="9.20" height="22.34" fill="#6cbf50" />
<rect x="831.70" y="343.86" width="9.20" height="22.34" fill="#6cbf50" />
<rect x="840.60" y="343.86" width="9.20" height="22.34" fill="#aac432" />
<rect x="849.50" y="343.86" width="9.20" height="22.34" fill="#fcc00c" />
<rect x="858.40" y="343.86" width="9.20" height="22.34" fill="#22b88e" />
<rect x="867.30" y="343.86" width="9.20" height="22.34" fill="#22b88e" />
<rect x="876.20" y="343.86" width="9.20" height="22.34" fill="#fc9a12" />
<rect x="885.10" y="343.86" width="9.20" height="22.34" fill="#6cbf50" />
<rect x="894.00" y="343.86" width="9.20" height="22.34" fill="#6cbf50" />
<rect x="902.90" y="343.86" width="9.20" height="22.34" fill="#22b88e" />
<rect x="911.80" y="343.86" width="9.20" height="22.34" fill="#6cbf50" />
<rect x="920.70" y="343.86" width="9.20" height="22.34" fill="#fcc00c" />
<rect x="929.60" y="343.86" width="9.20" height="22.34" fill="#aac432" />
<rect x="938.50" y="343.86" width="9.20" height="22.34" fill="#1a9aa2" />
<line x1="688.3" y1="255.7" x2="688.3" y2="365.9" stroke="#666" stroke-width="1"/>
<line x1="688.3" y1="366.4" x2="947.4" y2="366.4" stroke="#666" stroke-width="1"/>
<defs><linearGradient id="hg" x1="0" x2="1" y1="0" y2="0"><stop offset="0" stop-color="#1a5cb0"/><stop offset="0.2" stop-color="#1a98a6"/><stop offset="0.3" stop-color="#24b48e"/><stop offset="0.42" stop-color="#96c23c"/><stop offset="0.52" stop-color="#fcc808"/><stop offset="0.7" stop-color="#fc9a12"/><stop offset="0.87" stop-color="#f05a18"/><stop offset="1" stop-color="#c81818"/></linearGradient></defs>
<rect x="696.00" y="240.00" width="246.00" height="10.00" fill="url(#hg)" />
<text transform="translate(693.5,236.0) scale(0.86,1)" font-size="6.48" text-anchor="middle" fill="#666" >2</text>
<text transform="translate(939.0,236.0) scale(0.86,1)" font-size="6.48" text-anchor="middle" fill="#666" >22</text>
<path d="M693.3,237 h4 l-2,2.6z" fill="#222"/>
<path d="M939.5,237 h4 l-2,2.6z" fill="#222"/>
<text x="816.0" y="229.0" font-size="6" text-anchor="middle" fill="#555" >販売金額(十万)</text>
<line x1="685.3" y1="266.7" x2="688.3" y2="266.7" stroke="#666" stroke-width="1"/>
<text transform="translate(660.7,265.9) scale(0.82,1)" font-size="5.6" text-anchor="start" fill="#555" >スポーツ・</text>
<text transform="translate(660.7,271.3) scale(0.82,1)" font-size="5.6" text-anchor="start" fill="#555" >アウトドア</text>
<line x1="685.3" y1="288.8" x2="688.3" y2="288.8" stroke="#666" stroke-width="1"/>
<text transform="translate(660.7,285.3) scale(0.82,1)" font-size="5.6" text-anchor="start" fill="#555" >ヘルス＆</text>
<text transform="translate(660.7,290.7) scale(0.82,1)" font-size="5.6" text-anchor="start" fill="#555" >ビューティ</text>
<text transform="translate(660.7,296.1) scale(0.82,1)" font-size="5.6" text-anchor="start" fill="#555" >ー</text>
<line x1="685.3" y1="310.8" x2="688.3" y2="310.8" stroke="#666" stroke-width="1"/>
<text transform="translate(660.7,310.0) scale(0.82,1)" font-size="5.6" text-anchor="start" fill="#555" >家具・イン</text>
<text transform="translate(660.7,315.4) scale(0.82,1)" font-size="5.6" text-anchor="start" fill="#555" >テリア</text>
<line x1="685.3" y1="332.8" x2="688.3" y2="332.8" stroke="#666" stroke-width="1"/>
<text transform="translate(664.0,334.7) scale(0.82,1)" font-size="5.6" text-anchor="start" fill="#555" >衣料品</text>
<line x1="685.3" y1="354.9" x2="688.3" y2="354.9" stroke="#666" stroke-width="1"/>
<text transform="translate(660.7,354.1) scale(0.82,1)" font-size="5.6" text-anchor="start" fill="#555" >趣味・生</text>
<text transform="translate(660.7,359.5) scale(0.82,1)" font-size="5.6" text-anchor="start" fill="#555" >活用品</text>
<line x1="693.8" y1="365.9" x2="693.8" y2="368.9" stroke="#666" stroke-width="1"/>
<text x="693.8" y="377.0" font-size="6.3" text-anchor="middle" fill="#444" >三</text>
<text x="693.8" y="384.2" font-size="6.3" text-anchor="middle" fill="#444" >鷹</text>
<text x="693.8" y="391.4" font-size="6.3" text-anchor="middle" fill="#444" >店</text>
<line x1="702.6" y1="365.9" x2="702.6" y2="368.9" stroke="#666" stroke-width="1"/>
<text x="702.6" y="377.0" font-size="6.3" text-anchor="middle" fill="#444" >代</text>
<text x="702.6" y="384.2" font-size="6.3" text-anchor="middle" fill="#444" >々</text>
<text x="702.6" y="391.4" font-size="6.3" text-anchor="middle" fill="#444" >木</text>
<text x="702.6" y="398.6" font-size="6.3" text-anchor="middle" fill="#444" >店</text>
<line x1="711.5" y1="365.9" x2="711.5" y2="368.9" stroke="#666" stroke-width="1"/>
<text x="711.5" y="377.0" font-size="6.3" text-anchor="middle" fill="#444" >六</text>
<text x="711.5" y="384.2" font-size="6.3" text-anchor="middle" fill="#444" >本</text>
<text x="711.5" y="391.4" font-size="6.3" text-anchor="middle" fill="#444" >木</text>
<text x="711.5" y="398.6" font-size="6.3" text-anchor="middle" fill="#444" >店</text>
<line x1="720.5" y1="365.9" x2="720.5" y2="368.9" stroke="#666" stroke-width="1"/>
<text x="720.5" y="377.0" font-size="6.3" text-anchor="middle" fill="#444" >厚</text>
<text x="720.5" y="384.2" font-size="6.3" text-anchor="middle" fill="#444" >木</text>
<text x="720.5" y="391.4" font-size="6.3" text-anchor="middle" fill="#444" >店</text>
<line x1="729.4" y1="365.9" x2="729.4" y2="368.9" stroke="#666" stroke-width="1"/>
<text x="729.4" y="377.0" font-size="6.3" text-anchor="middle" fill="#444" >品</text>
<text x="729.4" y="384.2" font-size="6.3" text-anchor="middle" fill="#444" >川</text>
<text x="729.4" y="391.4" font-size="6.3" text-anchor="middle" fill="#444" >店</text>
<line x1="738.2" y1="365.9" x2="738.2" y2="368.9" stroke="#666" stroke-width="1"/>
<text x="738.2" y="377.0" font-size="6.3" text-anchor="middle" fill="#444" >大</text>
<text x="738.2" y="384.2" font-size="6.3" text-anchor="middle" fill="#444" >井</text>
<text x="738.2" y="391.4" font-size="6.3" text-anchor="middle" fill="#444" >町</text>
<text x="738.2" y="398.6" font-size="6.3" text-anchor="middle" fill="#444" >店</text>
<line x1="747.1" y1="365.9" x2="747.1" y2="368.9" stroke="#666" stroke-width="1"/>
<text x="747.1" y="377.0" font-size="6.3" text-anchor="middle" fill="#444" >大</text>
<text x="747.1" y="384.2" font-size="6.3" text-anchor="middle" fill="#444" >崎</text>
<text x="747.1" y="391.4" font-size="6.3" text-anchor="middle" fill="#444" >店</text>
<line x1="756.0" y1="365.9" x2="756.0" y2="368.9" stroke="#666" stroke-width="1"/>
<text x="756.0" y="377.0" font-size="6.3" text-anchor="middle" fill="#444" >小</text>
<text x="756.0" y="384.2" font-size="6.3" text-anchor="middle" fill="#444" >田</text>
<text x="756.0" y="391.4" font-size="6.3" text-anchor="middle" fill="#444" >原</text>
<text x="756.0" y="398.6" font-size="6.3" text-anchor="middle" fill="#444" >店</text>
<line x1="765.0" y1="365.9" x2="765.0" y2="368.9" stroke="#666" stroke-width="1"/>
<text x="765.0" y="377.0" font-size="6.3" text-anchor="middle" fill="#444" >川</text>
<text x="765.0" y="384.2" font-size="6.3" text-anchor="middle" fill="#444" >崎</text>
<text x="765.0" y="391.4" font-size="6.3" text-anchor="middle" fill="#444" >店</text>
<line x1="773.9" y1="365.9" x2="773.9" y2="368.9" stroke="#666" stroke-width="1"/>
<text x="773.9" y="377.0" font-size="6.3" text-anchor="middle" fill="#444" >市</text>
<text x="773.9" y="384.2" font-size="6.3" text-anchor="middle" fill="#444" >原</text>
<text x="773.9" y="391.4" font-size="6.3" text-anchor="middle" fill="#444" >店</text>
<line x1="782.8" y1="365.9" x2="782.8" y2="368.9" stroke="#666" stroke-width="1"/>
<text x="782.8" y="377.0" font-size="6.3" text-anchor="middle" fill="#444" >平</text>
<text x="782.8" y="384.2" font-size="6.3" text-anchor="middle" fill="#444" >井</text>
<text x="782.8" y="391.4" font-size="6.3" text-anchor="middle" fill="#444" >店</text>
<line x1="791.6" y1="365.9" x2="791.6" y2="368.9" stroke="#666" stroke-width="1"/>
<text x="791.6" y="377.0" font-size="6.3" text-anchor="middle" fill="#444" >成</text>
<text x="791.6" y="384.2" font-size="6.3" text-anchor="middle" fill="#444" >田</text>
<text x="791.6" y="391.4" font-size="6.3" text-anchor="middle" fill="#444" >店</text>
<line x1="800.5" y1="365.9" x2="800.5" y2="368.9" stroke="#666" stroke-width="1"/>
<text x="800.5" y="377.0" font-size="6.3" text-anchor="middle" fill="#444" >戸</text>
<text x="800.5" y="384.2" font-size="6.3" text-anchor="middle" fill="#444" >塚</text>
<text x="800.5" y="391.4" font-size="6.3" text-anchor="middle" fill="#444" >店</text>
<line x1="809.5" y1="365.9" x2="809.5" y2="368.9" stroke="#666" stroke-width="1"/>
<text x="809.5" y="377.0" font-size="6.3" text-anchor="middle" fill="#444" >新</text>
<text x="809.5" y="384.2" font-size="6.3" text-anchor="middle" fill="#444" >宿</text>
<text x="809.5" y="391.4" font-size="6.3" text-anchor="middle" fill="#444" >店</text>
<line x1="818.4" y1="365.9" x2="818.4" y2="368.9" stroke="#666" stroke-width="1"/>
<text x="818.4" y="377.0" font-size="6.3" text-anchor="middle" fill="#444" >新</text>
<text x="818.4" y="384.2" font-size="6.3" text-anchor="middle" fill="#444" >横</text>
<text x="818.4" y="391.4" font-size="6.3" text-anchor="middle" fill="#444" >浜</text>
<text x="818.4" y="398.6" font-size="6.3" text-anchor="middle" fill="#444" >店</text>
<line x1="827.2" y1="365.9" x2="827.2" y2="368.9" stroke="#666" stroke-width="1"/>
<text x="827.2" y="377.0" font-size="6.3" text-anchor="middle" fill="#444" >東</text>
<text x="827.2" y="384.2" font-size="6.3" text-anchor="middle" fill="#444" >陽</text>
<text x="827.2" y="391.4" font-size="6.3" text-anchor="middle" fill="#444" >町</text>
<text x="827.2" y="398.6" font-size="6.3" text-anchor="middle" fill="#444" >店</text>
<line x1="836.1" y1="365.9" x2="836.1" y2="368.9" stroke="#666" stroke-width="1"/>
<text x="836.1" y="377.0" font-size="6.3" text-anchor="middle" fill="#444" >横</text>
<text x="836.1" y="384.2" font-size="6.3" text-anchor="middle" fill="#444" >浜</text>
<text x="836.1" y="391.4" font-size="6.3" text-anchor="middle" fill="#444" >中</text>
<text x="836.1" y="398.6" font-size="6.3" text-anchor="middle" fill="#444" >央</text>
<line x1="845.0" y1="365.9" x2="845.0" y2="368.9" stroke="#666" stroke-width="1"/>
<text x="845.0" y="377.0" font-size="6.3" text-anchor="middle" fill="#444" >横</text>
<text x="845.0" y="384.2" font-size="6.3" text-anchor="middle" fill="#444" >浜</text>
<text x="845.0" y="391.4" font-size="6.3" text-anchor="middle" fill="#444" >店</text>
<line x1="854.0" y1="365.9" x2="854.0" y2="368.9" stroke="#666" stroke-width="1"/>
<text x="854.0" y="377.0" font-size="6.3" text-anchor="middle" fill="#444" >池</text>
<text x="854.0" y="384.2" font-size="6.3" text-anchor="middle" fill="#444" >袋</text>
<text x="854.0" y="391.4" font-size="6.3" text-anchor="middle" fill="#444" >店</text>
<line x1="862.9" y1="365.9" x2="862.9" y2="368.9" stroke="#666" stroke-width="1"/>
<text x="862.9" y="377.0" font-size="6.3" text-anchor="middle" fill="#444" >津</text>
<text x="862.9" y="384.2" font-size="6.3" text-anchor="middle" fill="#444" >田</text>
<text x="862.9" y="391.4" font-size="6.3" text-anchor="middle" fill="#444" >沼</text>
<text x="862.9" y="398.6" font-size="6.3" text-anchor="middle" fill="#444" >店</text>
<line x1="871.8" y1="365.9" x2="871.8" y2="368.9" stroke="#666" stroke-width="1"/>
<text x="871.8" y="377.0" font-size="6.3" text-anchor="middle" fill="#444" >浜</text>
<text x="871.8" y="384.2" font-size="6.3" text-anchor="middle" fill="#444" >松</text>
<text x="871.8" y="391.4" font-size="6.3" text-anchor="middle" fill="#444" >町</text>
<text x="871.8" y="398.6" font-size="6.3" text-anchor="middle" fill="#444" >店</text>
<line x1="880.6" y1="365.9" x2="880.6" y2="368.9" stroke="#666" stroke-width="1"/>
<text x="880.6" y="377.0" font-size="6.3" text-anchor="middle" fill="#444" >渋</text>
<text x="880.6" y="384.2" font-size="6.3" text-anchor="middle" fill="#444" >谷</text>
<text x="880.6" y="391.4" font-size="6.3" text-anchor="middle" fill="#444" >店</text>
<line x1="889.5" y1="365.9" x2="889.5" y2="368.9" stroke="#666" stroke-width="1"/>
<text x="889.5" y="377.0" font-size="6.3" text-anchor="middle" fill="#444" >練</text>
<text x="889.5" y="384.2" font-size="6.3" text-anchor="middle" fill="#444" >馬</text>
<text x="889.5" y="391.4" font-size="6.3" text-anchor="middle" fill="#444" >店</text>
<line x1="898.5" y1="365.9" x2="898.5" y2="368.9" stroke="#666" stroke-width="1"/>
<text x="898.5" y="377.0" font-size="6.3" text-anchor="middle" fill="#444" >町</text>
<text x="898.5" y="384.2" font-size="6.3" text-anchor="middle" fill="#444" >田</text>
<text x="898.5" y="391.4" font-size="6.3" text-anchor="middle" fill="#444" >店</text>
<line x1="907.4" y1="365.9" x2="907.4" y2="368.9" stroke="#666" stroke-width="1"/>
<text x="907.4" y="377.0" font-size="6.3" text-anchor="middle" fill="#444" >葛</text>
<text x="907.4" y="384.2" font-size="6.3" text-anchor="middle" fill="#444" >西</text>
<text x="907.4" y="391.4" font-size="6.3" text-anchor="middle" fill="#444" >店</text>
<line x1="916.2" y1="365.9" x2="916.2" y2="368.9" stroke="#666" stroke-width="1"/>
<text x="916.2" y="377.0" font-size="6.3" text-anchor="middle" fill="#444" >蒲</text>
<text x="916.2" y="384.2" font-size="6.3" text-anchor="middle" fill="#444" >田</text>
<text x="916.2" y="391.4" font-size="6.3" text-anchor="middle" fill="#444" >店</text>
<line x1="925.1" y1="365.9" x2="925.1" y2="368.9" stroke="#666" stroke-width="1"/>
<text x="925.1" y="377.0" font-size="6.3" text-anchor="middle" fill="#444" >赤</text>
<text x="925.1" y="384.2" font-size="6.3" text-anchor="middle" fill="#444" >坂</text>
<text x="925.1" y="391.4" font-size="6.3" text-anchor="middle" fill="#444" >店</text>
<line x1="934.0" y1="365.9" x2="934.0" y2="368.9" stroke="#666" stroke-width="1"/>
<text x="934.0" y="377.0" font-size="6.3" text-anchor="middle" fill="#444" >荻</text>
<text x="934.0" y="384.2" font-size="6.3" text-anchor="middle" fill="#444" >窪</text>
<text x="934.0" y="391.4" font-size="6.3" text-anchor="middle" fill="#444" >店</text>
<line x1="943.0" y1="365.9" x2="943.0" y2="368.9" stroke="#666" stroke-width="1"/>
<text x="943.0" y="377.0" font-size="6.3" text-anchor="middle" fill="#444" >青</text>
<text x="943.0" y="384.2" font-size="6.3" text-anchor="middle" fill="#444" >山</text>
<text x="943.0" y="391.4" font-size="6.3" text-anchor="middle" fill="#444" >店</text>
<line x1="1005.0" y1="225.0" x2="1005.0" y2="370.0" stroke="#ddd" stroke-width="1"/>
<text transform="translate(997.0,236.3) scale(0.86,1)" font-size="6.48" text-anchor="end" fill="#666" >80</text>
<line x1="1002.0" y1="234.0" x2="1005.0" y2="234.0" stroke="#ddd" stroke-width="1"/>
<text transform="translate(997.0,253.2) scale(0.86,1)" font-size="6.48" text-anchor="end" fill="#666" >70</text>
<line x1="1002.0" y1="250.9" x2="1005.0" y2="250.9" stroke="#ddd" stroke-width="1"/>
<text transform="translate(997.0,270.1) scale(0.86,1)" font-size="6.48" text-anchor="end" fill="#666" >60</text>
<line x1="1002.0" y1="267.8" x2="1005.0" y2="267.8" stroke="#ddd" stroke-width="1"/>
<text transform="translate(997.0,287.0) scale(0.86,1)" font-size="6.48" text-anchor="end" fill="#666" >50</text>
<line x1="1002.0" y1="284.7" x2="1005.0" y2="284.7" stroke="#ddd" stroke-width="1"/>
<text transform="translate(997.0,303.9) scale(0.86,1)" font-size="6.48" text-anchor="end" fill="#666" >40</text>
<line x1="1002.0" y1="301.6" x2="1005.0" y2="301.6" stroke="#ddd" stroke-width="1"/>
<text transform="translate(997.0,320.9) scale(0.86,1)" font-size="6.48" text-anchor="end" fill="#666" >30</text>
<line x1="1002.0" y1="318.6" x2="1005.0" y2="318.6" stroke="#ddd" stroke-width="1"/>
<text transform="translate(997.0,337.8) scale(0.86,1)" font-size="6.48" text-anchor="end" fill="#666" >20</text>
<line x1="1002.0" y1="335.5" x2="1005.0" y2="335.5" stroke="#ddd" stroke-width="1"/>
<text transform="translate(997.0,354.7) scale(0.86,1)" font-size="6.48" text-anchor="end" fill="#666" >10</text>
<line x1="1002.0" y1="352.4" x2="1005.0" y2="352.4" stroke="#ddd" stroke-width="1"/>
<text transform="translate(997.0,371.6) scale(0.86,1)" font-size="6.48" text-anchor="end" fill="#666" >0</text>
<line x1="1002.0" y1="369.3" x2="1005.0" y2="369.3" stroke="#ddd" stroke-width="1"/>
<text x="983.0" y="275.1" font-size="5.5" text-anchor="middle" fill="#555">販</text>
<text x="983.0" y="281.2" font-size="5.5" text-anchor="middle" fill="#555">売</text>
<text x="983.0" y="287.3" font-size="5.5" text-anchor="middle" fill="#555">金</text>
<text x="983.0" y="293.4" font-size="5.5" text-anchor="middle" fill="#555">額</text>
<text x="983.0" y="297.9" font-size="5.5" text-anchor="middle" fill="#555">︵</text>
<text x="983.0" y="302.5" font-size="5.5" text-anchor="middle" fill="#555">十</text>
<text x="983.0" y="308.6" font-size="5.5" text-anchor="middle" fill="#555">万</text>
<text x="983.0" y="313.1" font-size="5.5" text-anchor="middle" fill="#555">︶</text>
<line x1="1005.0" y1="370.5" x2="1188.0" y2="370.5" stroke="#bbb" stroke-width="1"/>
<line x1="1010.0" y1="370.0" x2="1010.0" y2="374.0" stroke="#999" stroke-width="1"/>
<line x1="1025.8" y1="370.0" x2="1025.8" y2="374.0" stroke="#999" stroke-width="1"/>
<line x1="1041.6" y1="370.0" x2="1041.6" y2="374.0" stroke="#999" stroke-width="1"/>
<line x1="1057.5" y1="370.0" x2="1057.5" y2="374.0" stroke="#999" stroke-width="1"/>
<line x1="1073.3" y1="370.0" x2="1073.3" y2="374.0" stroke="#999" stroke-width="1"/>
<line x1="1089.1" y1="370.0" x2="1089.1" y2="374.0" stroke="#999" stroke-width="1"/>
<line x1="1104.9" y1="370.0" x2="1104.9" y2="374.0" stroke="#999" stroke-width="1"/>
<line x1="1120.7" y1="370.0" x2="1120.7" y2="374.0" stroke="#999" stroke-width="1"/>
<line x1="1136.6" y1="370.0" x2="1136.6" y2="374.0" stroke="#999" stroke-width="1"/>
<line x1="1152.4" y1="370.0" x2="1152.4" y2="374.0" stroke="#999" stroke-width="1"/>
<line x1="1168.2" y1="370.0" x2="1168.2" y2="374.0" stroke="#999" stroke-width="1"/>
<line x1="1184.0" y1="370.0" x2="1184.0" y2="374.0" stroke="#999" stroke-width="1"/>
<text transform="translate(1010.0,386.0) scale(0.86,1)" font-size="6.48" text-anchor="middle" fill="#666" >2009/1</text>
<text transform="translate(1041.6,386.0) scale(0.86,1)" font-size="6.48" text-anchor="middle" fill="#666" >2009/3</text>
<text transform="translate(1073.3,386.0) scale(0.86,1)" font-size="6.48" text-anchor="middle" fill="#666" >2009/5</text>
<text transform="translate(1104.9,386.0) scale(0.86,1)" font-size="6.48" text-anchor="middle" fill="#666" >2009/7</text>
<text transform="translate(1136.6,386.0) scale(0.86,1)" font-size="6.48" text-anchor="middle" fill="#666" >2009/9</text>
<text transform="translate(1168.2,386.0) scale(0.86,1)" font-size="6.48" text-anchor="middle" fill="#666" >2009/11</text>
<polyline points="1010.0,360.0 1025.8,360.8 1041.6,359.2 1057.5,360.8 1073.3,360.8 1089.1,360.8 1104.9,360.0 1120.7,358.3 1136.6,358.3 1152.4,358.3 1168.2,356.6 1184.0,355.8" fill="none" stroke="#ddd" stroke-width="1.0" stroke-linejoin="round" />
<circle cx="1010.0" cy="360.0" r="2.5" fill="#fff" stroke="#ccc" stroke-width="1.2" />
<circle cx="1025.8" cy="360.8" r="2.5" fill="#fff" stroke="#ccc" stroke-width="1.2" />
<circle cx="1041.6" cy="359.2" r="2.5" fill="#fff" stroke="#ccc" stroke-width="1.2" />
<circle cx="1057.5" cy="360.8" r="2.5" fill="#fff" stroke="#ccc" stroke-width="1.2" />
<circle cx="1073.3" cy="360.8" r="2.5" fill="#fff" stroke="#ccc" stroke-width="1.2" />
<circle cx="1089.1" cy="360.8" r="2.5" fill="#fff" stroke="#ccc" stroke-width="1.2" />
<circle cx="1104.9" cy="360.0" r="2.5" fill="#fff" stroke="#ccc" stroke-width="1.2" />
<circle cx="1120.7" cy="358.3" r="2.5" fill="#fff" stroke="#ccc" stroke-width="1.2" />
<circle cx="1136.6" cy="358.3" r="2.5" fill="#fff" stroke="#ccc" stroke-width="1.2" />
<circle cx="1152.4" cy="358.3" r="2.5" fill="#fff" stroke="#ccc" stroke-width="1.2" />
<circle cx="1168.2" cy="356.6" r="2.5" fill="#fff" stroke="#ccc" stroke-width="1.2" />
<circle cx="1184.0" cy="355.8" r="2.5" fill="#fff" stroke="#ccc" stroke-width="1.2" />
<polyline points="1010.0,364.2 1025.8,362.5 1041.6,361.7 1057.5,363.4 1073.3,362.5 1089.1,362.5 1104.9,361.7 1120.7,360.8 1136.6,360.0 1152.4,359.2 1168.2,357.5 1184.0,354.9" fill="none" stroke="#e8f0d8" stroke-width="1.0" stroke-linejoin="round" />
<circle cx="1010.0" cy="364.2" r="2.5" fill="#fff" stroke="#dde8c8" stroke-width="1.2" />
<circle cx="1025.8" cy="362.5" r="2.5" fill="#fff" stroke="#dde8c8" stroke-width="1.2" />
<circle cx="1041.6" cy="361.7" r="2.5" fill="#fff" stroke="#dde8c8" stroke-width="1.2" />
<circle cx="1057.5" cy="363.4" r="2.5" fill="#fff" stroke="#dde8c8" stroke-width="1.2" />
<circle cx="1073.3" cy="362.5" r="2.5" fill="#fff" stroke="#dde8c8" stroke-width="1.2" />
<circle cx="1089.1" cy="362.5" r="2.5" fill="#fff" stroke="#dde8c8" stroke-width="1.2" />
<circle cx="1104.9" cy="361.7" r="2.5" fill="#fff" stroke="#dde8c8" stroke-width="1.2" />
<circle cx="1120.7" cy="360.8" r="2.5" fill="#fff" stroke="#dde8c8" stroke-width="1.2" />
<circle cx="1136.6" cy="360.0" r="2.5" fill="#fff" stroke="#dde8c8" stroke-width="1.2" />
<circle cx="1152.4" cy="359.2" r="2.5" fill="#fff" stroke="#dde8c8" stroke-width="1.2" />
<circle cx="1168.2" cy="357.5" r="2.5" fill="#fff" stroke="#dde8c8" stroke-width="1.2" />
<circle cx="1184.0" cy="354.9" r="2.5" fill="#fff" stroke="#dde8c8" stroke-width="1.2" />
<polyline points="1010.0,283.0 1025.8,288.1 1041.6,289.0 1057.5,301.6 1073.3,294.9 1089.1,293.2 1104.9,285.6 1120.7,283.0 1136.6,266.1 1152.4,254.3 1168.2,239.1 1184.0,234.0" fill="none" stroke="#d4d4d4" stroke-width="1.6" stroke-linejoin="round" />
<circle cx="1010.0" cy="283.0" r="2.6" fill="#d8d8d8" stroke="#c8c8c8" stroke-width="1.2" />
<circle cx="1025.8" cy="288.1" r="2.6" fill="#d8d8d8" stroke="#c8c8c8" stroke-width="1.2" />
<circle cx="1041.6" cy="289.0" r="2.6" fill="#d8d8d8" stroke="#c8c8c8" stroke-width="1.2" />
<circle cx="1057.5" cy="301.6" r="2.6" fill="#d8d8d8" stroke="#c8c8c8" stroke-width="1.2" />
<circle cx="1073.3" cy="294.9" r="2.6" fill="#d8d8d8" stroke="#c8c8c8" stroke-width="1.2" />
<circle cx="1089.1" cy="293.2" r="2.6" fill="#d8d8d8" stroke="#c8c8c8" stroke-width="1.2" />
<circle cx="1104.9" cy="285.6" r="2.6" fill="#d8d8d8" stroke="#c8c8c8" stroke-width="1.2" />
<circle cx="1120.7" cy="283.0" r="2.6" fill="#d8d8d8" stroke="#c8c8c8" stroke-width="1.2" />
<circle cx="1136.6" cy="266.1" r="2.6" fill="#d8d8d8" stroke="#c8c8c8" stroke-width="1.2" />
<circle cx="1152.4" cy="254.3" r="2.6" fill="#d8d8d8" stroke="#c8c8c8" stroke-width="1.2" />
<circle cx="1168.2" cy="239.1" r="2.6" fill="#d8d8d8" stroke="#c8c8c8" stroke-width="1.2" />
<circle cx="1184.0" cy="234.0" r="2.6" fill="#d8d8d8" stroke="#c8c8c8" stroke-width="1.2" />
<polyline points="1010.0,283.0 1025.8,288.1 1041.6,289.0 1057.5,301.6 1073.3,294.9 1089.1,293.2 1104.9,285.6 1120.7,283.0 1136.6,264.4 1152.4,252.6 1168.2,238.2 1184.0,234.0" fill="none" stroke="#e6cfd8" stroke-width="1.0" stroke-linejoin="round" />
<circle cx="1010.0" cy="283.0" r="2.6" fill="#d8d8d8" stroke="#ccc" stroke-width="1.2" />
<circle cx="1025.8" cy="288.1" r="2.6" fill="#d8d8d8" stroke="#ccc" stroke-width="1.2" />
<circle cx="1041.6" cy="289.0" r="2.6" fill="#d8d8d8" stroke="#ccc" stroke-width="1.2" />
<circle cx="1057.5" cy="301.6" r="2.6" fill="#d8d8d8" stroke="#ccc" stroke-width="1.2" />
<circle cx="1073.3" cy="294.9" r="2.6" fill="#d8d8d8" stroke="#ccc" stroke-width="1.2" />
<circle cx="1089.1" cy="293.2" r="2.6" fill="#d8d8d8" stroke="#ccc" stroke-width="1.2" />
<circle cx="1104.9" cy="285.6" r="2.6" fill="#d8d8d8" stroke="#ccc" stroke-width="1.2" />
<circle cx="1120.7" cy="283.0" r="2.6" fill="#d8d8d8" stroke="#ccc" stroke-width="1.2" />
<circle cx="1136.6" cy="264.4" r="2.6" fill="#d8d8d8" stroke="#ccc" stroke-width="1.2" />
<circle cx="1152.4" cy="252.6" r="2.6" fill="#d8d8d8" stroke="#ccc" stroke-width="1.2" />
<circle cx="1168.2" cy="238.2" r="2.6" fill="#d8d8d8" stroke="#ccc" stroke-width="1.2" />
<circle cx="1184.0" cy="234.0" r="2.6" fill="#d8d8d8" stroke="#ccc" stroke-width="1.2" />
<polyline points="1010.0,368.5 1025.8,368.5 1041.6,367.6 1057.5,366.8 1073.3,368.5 1089.1,368.5 1104.9,368.5 1120.7,365.9 1136.6,367.6 1152.4,368.5 1168.2,367.6 1184.0,368.5" fill="none" stroke="#d0338a" stroke-width="1.1" stroke-linejoin="round" />
<circle cx="1010.0" cy="368.5" r="2.4" fill="#fff" stroke="#d0338a" stroke-width="1.2" />
<circle cx="1025.8" cy="368.5" r="2.4" fill="#fff" stroke="#d0338a" stroke-width="1.2" />
<circle cx="1041.6" cy="367.6" r="2.4" fill="#fff" stroke="#d0338a" stroke-width="1.2" />
<circle cx="1057.5" cy="366.8" r="2.4" fill="#fff" stroke="#d0338a" stroke-width="1.2" />
<circle cx="1073.3" cy="368.5" r="2.4" fill="#fff" stroke="#d0338a" stroke-width="1.2" />
<circle cx="1089.1" cy="368.5" r="2.4" fill="#fff" stroke="#d0338a" stroke-width="1.2" />
<circle cx="1104.9" cy="368.5" r="2.4" fill="#fff" stroke="#d0338a" stroke-width="1.2" />
<circle cx="1120.7" cy="365.9" r="2.4" fill="#fff" stroke="#d0338a" stroke-width="1.2" />
<circle cx="1136.6" cy="367.6" r="2.4" fill="#fff" stroke="#d0338a" stroke-width="1.2" />
<circle cx="1152.4" cy="368.5" r="2.4" fill="#fff" stroke="#d0338a" stroke-width="1.2" />
<circle cx="1168.2" cy="367.6" r="2.4" fill="#fff" stroke="#d0338a" stroke-width="1.2" />
<circle cx="1184.0" cy="368.5" r="2.4" fill="#fff" stroke="#d0338a" stroke-width="1.2" />
<polyline points="1010.0,365.1 1025.8,359.2 1041.6,352.0 1057.5,349.0 1073.3,334.6 1089.1,327.9 1104.9,316.0 1120.7,308.4 1136.6,282.2 1152.4,267.0 1168.2,248.4 1184.0,234.0" fill="none" stroke="#22b5b2" stroke-width="1.6" stroke-linejoin="round" />
<circle cx="1010.0" cy="365.1" r="2.7" fill="#8fd8d4" stroke="#22b5b2" stroke-width="1.2" />
<circle cx="1025.8" cy="359.2" r="2.7" fill="#8fd8d4" stroke="#22b5b2" stroke-width="1.2" />
<circle cx="1041.6" cy="352.0" r="2.7" fill="#8fd8d4" stroke="#22b5b2" stroke-width="1.2" />
<circle cx="1057.5" cy="349.0" r="2.7" fill="#8fd8d4" stroke="#22b5b2" stroke-width="1.2" />
<circle cx="1073.3" cy="334.6" r="2.7" fill="#8fd8d4" stroke="#22b5b2" stroke-width="1.2" />
<circle cx="1089.1" cy="327.9" r="2.7" fill="#8fd8d4" stroke="#22b5b2" stroke-width="1.2" />
<circle cx="1104.9" cy="316.0" r="2.7" fill="#8fd8d4" stroke="#22b5b2" stroke-width="1.2" />
<circle cx="1120.7" cy="308.4" r="2.7" fill="#8fd8d4" stroke="#22b5b2" stroke-width="1.2" />
<circle cx="1136.6" cy="282.2" r="2.7" fill="#8fd8d4" stroke="#22b5b2" stroke-width="1.2" />
<circle cx="1152.4" cy="267.0" r="2.7" fill="#8fd8d4" stroke="#22b5b2" stroke-width="1.2" />
<circle cx="1168.2" cy="248.4" r="2.7" fill="#8fd8d4" stroke="#22b5b2" stroke-width="1.2" />
<circle cx="1184.0" cy="234.0" r="2.7" fill="#8fd8d4" stroke="#22b5b2" stroke-width="1.2" />
<polyline points="1010.0,365.1 1025.8,364.2 1041.6,362.5 1057.5,365.9 1073.3,355.8 1089.1,362.5 1104.9,357.5 1120.7,360.8 1136.6,343.9 1152.4,353.2 1168.2,350.7 1184.0,354.9" fill="none" stroke="#7a52b0" stroke-width="1.3" stroke-linejoin="round" />
<circle cx="1010.0" cy="365.1" r="2.7" fill="#b49ad6" stroke="#7a52b0" stroke-width="1.2" />
<circle cx="1025.8" cy="364.2" r="2.7" fill="#b49ad6" stroke="#7a52b0" stroke-width="1.2" />
<circle cx="1041.6" cy="362.5" r="2.7" fill="#b49ad6" stroke="#7a52b0" stroke-width="1.2" />
<circle cx="1057.5" cy="365.9" r="2.7" fill="#b49ad6" stroke="#7a52b0" stroke-width="1.2" />
<circle cx="1073.3" cy="355.8" r="2.7" fill="#b49ad6" stroke="#7a52b0" stroke-width="1.2" />
<circle cx="1089.1" cy="362.5" r="2.7" fill="#b49ad6" stroke="#7a52b0" stroke-width="1.2" />
<circle cx="1104.9" cy="357.5" r="2.7" fill="#b49ad6" stroke="#7a52b0" stroke-width="1.2" />
<circle cx="1120.7" cy="360.8" r="2.7" fill="#b49ad6" stroke="#7a52b0" stroke-width="1.2" />
<circle cx="1136.6" cy="343.9" r="2.7" fill="#b49ad6" stroke="#7a52b0" stroke-width="1.2" />
<circle cx="1152.4" cy="353.2" r="2.7" fill="#b49ad6" stroke="#7a52b0" stroke-width="1.2" />
<circle cx="1168.2" cy="350.7" r="2.7" fill="#b49ad6" stroke="#7a52b0" stroke-width="1.2" />
<circle cx="1184.0" cy="354.9" r="2.7" fill="#b49ad6" stroke="#7a52b0" stroke-width="1.2" />
<polyline points="1010.0,365.1 1025.8,368.5 1041.6,368.5 1057.5,366.8 1073.3,365.1 1089.1,365.1 1104.9,365.1 1120.7,365.1 1136.6,360.8 1152.4,360.0 1168.2,357.5 1184.0,355.8" fill="none" stroke="#22b5b2" stroke-width="1.2" stroke-linejoin="round" />
<circle cx="1010.0" cy="365.1" r="2.4" fill="#fff" stroke="#22b5b2" stroke-width="1.2" />
<circle cx="1025.8" cy="368.5" r="2.4" fill="#fff" stroke="#22b5b2" stroke-width="1.2" />
<circle cx="1041.6" cy="368.5" r="2.4" fill="#fff" stroke="#22b5b2" stroke-width="1.2" />
<circle cx="1057.5" cy="366.8" r="2.4" fill="#fff" stroke="#22b5b2" stroke-width="1.2" />
<circle cx="1073.3" cy="365.1" r="2.4" fill="#fff" stroke="#22b5b2" stroke-width="1.2" />
<circle cx="1089.1" cy="365.1" r="2.4" fill="#fff" stroke="#22b5b2" stroke-width="1.2" />
<circle cx="1104.9" cy="365.1" r="2.4" fill="#fff" stroke="#22b5b2" stroke-width="1.2" />
<circle cx="1120.7" cy="365.1" r="2.4" fill="#fff" stroke="#22b5b2" stroke-width="1.2" />
<circle cx="1136.6" cy="360.8" r="2.4" fill="#fff" stroke="#22b5b2" stroke-width="1.2" />
<circle cx="1152.4" cy="360.0" r="2.4" fill="#fff" stroke="#22b5b2" stroke-width="1.2" />
<circle cx="1168.2" cy="357.5" r="2.4" fill="#fff" stroke="#22b5b2" stroke-width="1.2" />
<circle cx="1184.0" cy="355.8" r="2.4" fill="#fff" stroke="#22b5b2" stroke-width="1.2" />
<circle cx="1195.0" cy="218.0" r="2.5" fill="#b49ad6" stroke="#7a52b0" stroke-width="1.3" />
<text transform="translate(1199.0,220.1) scale(0.86,1)" font-size="6.26" text-anchor="start" fill="#666" >アウトドア</text>
<circle cx="1195.0" cy="225.9" r="2.5" fill="#fff" stroke="#d0338a" stroke-width="1.3" />
<text transform="translate(1199.0,228.0) scale(0.86,1)" font-size="6.26" text-anchor="start" fill="#666" >スノーボード</text>
<circle cx="1195.0" cy="233.9" r="2.5" fill="#fff" stroke="#e6c6d8" stroke-width="1.3" />
<text x="1199.0" y="236.0" font-size="5.8" text-anchor="start" fill="#bbb" >化粧品、美容雑貨</text>
<circle cx="1195.0" cy="241.8" r="2.5" fill="#fff" stroke="#eadba8" stroke-width="1.3" />
<text x="1199.0" y="243.9" font-size="5.8" text-anchor="start" fill="#bbb" >医薬品</text>
<circle cx="1195.0" cy="249.8" r="2.5" fill="#fff" stroke="#f0dcb0" stroke-width="1.3" />
<text x="1199.0" y="251.9" font-size="5.8" text-anchor="start" fill="#bbb" >婦人服</text>
<circle cx="1195.0" cy="257.8" r="2.5" fill="#fff" stroke="#e8e0a0" stroke-width="1.3" />
<text x="1199.0" y="259.9" font-size="5.8" text-anchor="start" fill="#bbb" >家電</text>
<circle cx="1195.0" cy="265.7" r="2.5" fill="#fff" stroke="#e0e8c0" stroke-width="1.3" />
<text x="1199.0" y="267.8" font-size="5.8" text-anchor="start" fill="#bbb" >寝具</text>
<circle cx="1195.0" cy="273.6" r="2.5" fill="#fff" stroke="#d8dde8" stroke-width="1.3" />
<text x="1199.0" y="275.8" font-size="5.8" text-anchor="start" fill="#bbb" >文房具</text>
<circle cx="1195.0" cy="281.6" r="2.5" fill="#a8e0dc" stroke="#22b5b2" stroke-width="1.3" />
<text x="1199.0" y="283.7" font-size="5.8" text-anchor="start" fill="#bbb" >服飾雑貨</text>
<circle cx="1195.0" cy="289.6" r="2.5" fill="#fff" stroke="#c8d8e8" stroke-width="1.3" />
<text x="1199.0" y="291.7" font-size="5.8" text-anchor="start" fill="#bbb" >赤ちゃん用品</text>
<rect x="1186" y="295" width="5" height="21" rx="2" fill="#9c9c9c"/>
<rect x="1187.3" y="304.1" width="2.4" height="2.6" fill="#fff"/>
<path d="M169.50,431.30 A79.7,79.7 0 0 1 243.19,541.37 L207.59,526.70 A41.2,41.2 0 0 0 169.50,469.80 Z" fill="#0b3a78"/>
<path d="M243.19,541.37 A79.7,79.7 0 0 1 197.41,585.65 L183.93,549.59 A41.2,41.2 0 0 0 207.59,526.70 Z" fill="#2a4fae"/>
<path d="M197.41,585.65 A79.7,79.7 0 0 1 143.68,586.40 L156.15,549.98 A41.2,41.2 0 0 0 183.93,549.59 Z" fill="#2f6fd0"/>
<path d="M143.68,586.40 A79.7,79.7 0 0 1 103.27,555.34 L135.26,533.92 A41.2,41.2 0 0 0 156.15,549.98 Z" fill="#5b9fd0"/>
<path d="M103.27,555.34 A79.7,79.7 0 0 1 89.82,512.67 L128.31,511.86 A41.2,41.2 0 0 0 135.26,533.92 Z" fill="#7fcbb8"/>
<path d="M89.82,512.67 A79.7,79.7 0 0 1 99.79,472.36 L133.47,491.03 A41.2,41.2 0 0 0 128.31,511.86 Z" fill="#c6e7a2"/>
<path d="M99.79,472.36 A79.7,79.7 0 0 1 125.16,444.77 L146.58,476.76 A41.2,41.2 0 0 0 133.47,491.03 Z" fill="#0b3a78"/>
<path d="M125.16,444.77 A79.7,79.7 0 0 1 151.98,433.25 L160.44,470.81 A41.2,41.2 0 0 0 146.58,476.76 Z" fill="#3050b4"/>
<path d="M151.98,433.25 A79.7,79.7 0 0 1 163.80,431.50 L166.55,469.91 A41.2,41.2 0 0 0 160.44,470.81 Z" fill="#3a7ad2"/>
<path d="M163.80,431.50 A79.7,79.7 0 0 1 169.50,431.30 L169.50,469.80 A41.2,41.2 0 0 0 166.55,469.91 Z" fill="#6aa6d8"/>
<rect x="214.60" y="467.70" width="18.80" height="7.60" fill="#fff" fill-opacity="0.88" stroke="#99a" stroke-width="0.4"/>
<text x="224.0" y="473.6" font-size="5.6" text-anchor="middle" fill="#444" >婦人服</text>
<rect x="196.50" y="559.20" width="30.00" height="7.60" fill="#fff" fill-opacity="0.88" stroke="#99a" stroke-width="0.4"/>
<text x="211.5" y="565.1" font-size="5.6" text-anchor="middle" fill="#444" >アウトドア</text>
<rect x="149.60" y="581.70" width="18.80" height="7.60" fill="#fff" fill-opacity="0.88" stroke="#99a" stroke-width="0.4"/>
<text x="159.0" y="587.6" font-size="5.6" text-anchor="middle" fill="#444" >医薬品</text>
<rect x="122.60" y="564.70" width="46.80" height="7.60" fill="#fff" fill-opacity="0.88" stroke="#99a" stroke-width="0.4"/>
<text x="146.0" y="570.6" font-size="5.6" text-anchor="middle" fill="#444" >化粧品、美容雑貨</text>
<rect x="93.60" y="526.70" width="18.80" height="7.60" fill="#fff" fill-opacity="0.88" stroke="#99a" stroke-width="0.4"/>
<text x="103.0" y="532.6" font-size="5.6" text-anchor="middle" fill="#444" >文房具</text>
<rect x="91.70" y="489.70" width="35.60" height="7.60" fill="#fff" fill-opacity="0.88" stroke="#99a" stroke-width="0.4"/>
<text x="109.5" y="495.6" font-size="5.6" text-anchor="middle" fill="#444" >赤ちゃん用品</text>
<rect x="112.40" y="457.70" width="13.20" height="7.60" fill="#fff" fill-opacity="0.88" stroke="#99a" stroke-width="0.4"/>
<text x="119.0" y="463.6" font-size="5.6" text-anchor="middle" fill="#444" >寝具</text>
<rect x="136.40" y="440.20" width="13.20" height="7.60" fill="#fff" fill-opacity="0.88" stroke="#99a" stroke-width="0.4"/>
<text x="143.0" y="446.1" font-size="5.6" text-anchor="middle" fill="#444" >家電</text>
<rect x="134.20" y="431.20" width="35.60" height="7.60" fill="#fff" fill-opacity="0.88" stroke="#99a" stroke-width="0.4"/>
<text x="152.0" y="437.1" font-size="5.6" text-anchor="middle" fill="#444" >スノーボード</text>
<rect x="169.40" y="433.20" width="13.20" height="7.60" fill="#fff" fill-opacity="0.88" stroke="#99a" stroke-width="0.4"/>
<text x="176.0" y="439.1" font-size="5.6" text-anchor="middle" fill="#444" >雑貨</text>
<rect x="337.00" y="424.00" width="287.00" height="171.00" fill="#fbfbfd" />
<rect x="624.00" y="424.00" width="4.00" height="171.00" fill="#ececef" />
<rect x="337.00" y="451.00" width="287.00" height="12.00" fill="#f0f1f8" />
<text transform="translate(350.5,459.3) scale(0.82,1)" font-size="6.3" text-anchor="middle" fill="#888" >2008</text>
<text transform="translate(378.0,459.3) scale(0.82,1)" font-size="6.3" text-anchor="middle" fill="#888" >1</text>
<text transform="translate(435.0,459.3) scale(0.82,1)" font-size="6.3" text-anchor="end" fill="#888" >455,850</text>
<text transform="translate(476.0,459.3) scale(0.82,1)" font-size="6.3" text-anchor="end" fill="#888" >57,670</text>
<text transform="translate(527.0,459.3) scale(0.82,1)" font-size="6.3" text-anchor="end" fill="#888" >269,880</text>
<text transform="translate(568.0,459.3) scale(0.82,1)" font-size="6.3" text-anchor="end" fill="#888" >409,650</text>
<text transform="translate(609.0,459.3) scale(0.82,1)" font-size="6.3" text-anchor="end" fill="#888" >1,319,490</text>
<text transform="translate(350.5,471.3) scale(0.82,1)" font-size="6.3" text-anchor="middle" fill="#888" >2008</text>
<text transform="translate(378.0,471.3) scale(0.82,1)" font-size="6.3" text-anchor="middle" fill="#888" >2</text>
<text transform="translate(435.0,471.3) scale(0.82,1)" font-size="6.3" text-anchor="end" fill="#888" >641,000</text>
<text transform="translate(476.0,471.3) scale(0.82,1)" font-size="6.3" text-anchor="end" fill="#888" >46,530</text>
<text transform="translate(527.0,471.3) scale(0.82,1)" font-size="6.3" text-anchor="end" fill="#888" >501,010</text>
<text transform="translate(568.0,471.3) scale(0.82,1)" font-size="6.3" text-anchor="end" fill="#888" >479,090</text>
<text transform="translate(609.0,471.3) scale(0.82,1)" font-size="6.3" text-anchor="end" fill="#888" >1,614,640</text>
<rect x="337.00" y="475.00" width="287.00" height="12.00" fill="#f0f1f8" />
<text transform="translate(350.5,483.3) scale(0.82,1)" font-size="6.3" text-anchor="middle" fill="#888" >2008</text>
<text transform="translate(378.0,483.3) scale(0.82,1)" font-size="6.3" text-anchor="middle" fill="#888" >3</text>
<text transform="translate(435.0,483.3) scale(0.82,1)" font-size="6.3" text-anchor="end" fill="#888" >479,050</text>
<text transform="translate(476.0,483.3) scale(0.82,1)" font-size="6.3" text-anchor="end" fill="#888" >94,750</text>
<text transform="translate(527.0,483.3) scale(0.82,1)" font-size="6.3" text-anchor="end" fill="#888" >655,160</text>
<text transform="translate(568.0,483.3) scale(0.82,1)" font-size="6.3" text-anchor="end" fill="#888" >756,680</text>
<text transform="translate(609.0,483.3) scale(0.82,1)" font-size="6.3" text-anchor="end" fill="#888" >1,626,450</text>
<text transform="translate(350.5,495.3) scale(0.82,1)" font-size="6.3" text-anchor="middle" fill="#888" >2008</text>
<text transform="translate(378.0,495.3) scale(0.82,1)" font-size="6.3" text-anchor="middle" fill="#888" >4</text>
<text transform="translate(435.0,495.3) scale(0.82,1)" font-size="6.3" text-anchor="end" fill="#888" >911,530</text>
<text transform="translate(476.0,495.3) scale(0.82,1)" font-size="6.3" text-anchor="end" fill="#888" >95,940</text>
<text transform="translate(527.0,495.3) scale(0.82,1)" font-size="6.3" text-anchor="end" fill="#888" >626,150</text>
<text transform="translate(568.0,495.3) scale(0.82,1)" font-size="6.3" text-anchor="end" fill="#888" >905,010</text>
<text transform="translate(609.0,495.3) scale(0.82,1)" font-size="6.3" text-anchor="end" fill="#888" >1,456,950</text>
<rect x="337.00" y="499.00" width="287.00" height="12.00" fill="#f0f1f8" />
<text transform="translate(350.5,507.3) scale(0.82,1)" font-size="6.3" text-anchor="middle" fill="#888" >2008</text>
<text transform="translate(378.0,507.3) scale(0.82,1)" font-size="6.3" text-anchor="middle" fill="#888" >5</text>
<text transform="translate(435.0,507.3) scale(0.82,1)" font-size="6.3" text-anchor="end" fill="#888" >487,510</text>
<text transform="translate(476.0,507.3) scale(0.82,1)" font-size="6.3" text-anchor="end" fill="#888" >50,190</text>
<text transform="translate(527.0,507.3) scale(0.82,1)" font-size="6.3" text-anchor="end" fill="#888" >215,270</text>
<text transform="translate(568.0,507.3) scale(0.82,1)" font-size="6.3" text-anchor="end" fill="#888" >347,550</text>
<text transform="translate(609.0,507.3) scale(0.82,1)" font-size="6.3" text-anchor="end" fill="#888" >956,010</text>
<text transform="translate(350.5,519.3) scale(0.82,1)" font-size="6.3" text-anchor="middle" fill="#888" >2008</text>
<text transform="translate(378.0,519.3) scale(0.82,1)" font-size="6.3" text-anchor="middle" fill="#888" >6</text>
<text transform="translate(435.0,519.3) scale(0.82,1)" font-size="6.3" text-anchor="end" fill="#888" >251,220</text>
<text transform="translate(476.0,519.3) scale(0.82,1)" font-size="6.3" text-anchor="end" fill="#888" >20,420</text>
<text transform="translate(527.0,519.3) scale(0.82,1)" font-size="6.3" text-anchor="end" fill="#888" >199,780</text>
<text transform="translate(568.0,519.3) scale(0.82,1)" font-size="6.3" text-anchor="end" fill="#888" >147,520</text>
<text transform="translate(609.0,519.3) scale(0.82,1)" font-size="6.3" text-anchor="end" fill="#888" >1,109,400</text>
<rect x="337.00" y="523.00" width="287.00" height="12.00" fill="#f0f1f8" />
<text transform="translate(350.5,531.3) scale(0.82,1)" font-size="6.3" text-anchor="middle" fill="#888" >2008</text>
<text transform="translate(378.0,531.3) scale(0.82,1)" font-size="6.3" text-anchor="middle" fill="#888" >7</text>
<text transform="translate(435.0,531.3) scale(0.82,1)" font-size="6.3" text-anchor="end" fill="#888" >269,440</text>
<text transform="translate(476.0,531.3) scale(0.82,1)" font-size="6.3" text-anchor="end" fill="#888" >10,200</text>
<text transform="translate(527.0,531.3) scale(0.82,1)" font-size="6.3" text-anchor="end" fill="#888" >164,510</text>
<text transform="translate(568.0,531.3) scale(0.82,1)" font-size="6.3" text-anchor="end" fill="#888" >267,620</text>
<text transform="translate(609.0,531.3) scale(0.82,1)" font-size="6.3" text-anchor="end" fill="#888" >796,320</text>
<text transform="translate(350.5,543.3) scale(0.82,1)" font-size="6.3" text-anchor="middle" fill="#888" >2008</text>
<text transform="translate(378.0,543.3) scale(0.82,1)" font-size="6.3" text-anchor="middle" fill="#888" >8</text>
<text transform="translate(435.0,543.3) scale(0.82,1)" font-size="6.3" text-anchor="end" fill="#888" >343,110</text>
<text transform="translate(476.0,543.3) scale(0.82,1)" font-size="6.3" text-anchor="end" fill="#888" >46,140</text>
<text transform="translate(527.0,543.3) scale(0.82,1)" font-size="6.3" text-anchor="end" fill="#888" >767,150</text>
<text transform="translate(568.0,543.3) scale(0.82,1)" font-size="6.3" text-anchor="end" fill="#888" >204,760</text>
<text transform="translate(609.0,543.3) scale(0.82,1)" font-size="6.3" text-anchor="end" fill="#888" >710,110</text>
<rect x="337.00" y="547.00" width="287.00" height="12.00" fill="#f0f1f8" />
<text transform="translate(350.5,555.3) scale(0.82,1)" font-size="6.3" text-anchor="middle" fill="#888" >2008</text>
<text transform="translate(378.0,555.3) scale(0.82,1)" font-size="6.3" text-anchor="middle" fill="#888" >9</text>
<text transform="translate(435.0,555.3) scale(0.82,1)" font-size="6.3" text-anchor="end" fill="#888" >553,940</text>
<text transform="translate(476.0,555.3) scale(0.82,1)" font-size="6.3" text-anchor="end" fill="#888" >53,490</text>
<text transform="translate(527.0,555.3) scale(0.82,1)" font-size="6.3" text-anchor="end" fill="#888" >410,390</text>
<text transform="translate(568.0,555.3) scale(0.82,1)" font-size="6.3" text-anchor="end" fill="#888" >222,050</text>
<text transform="translate(609.0,555.3) scale(0.82,1)" font-size="6.3" text-anchor="end" fill="#888" >1,046,190</text>
<text transform="translate(350.5,567.3) scale(0.82,1)" font-size="6.3" text-anchor="middle" fill="#888" >2008</text>
<text transform="translate(378.0,567.3) scale(0.82,1)" font-size="6.3" text-anchor="middle" fill="#888" >10</text>
<text transform="translate(435.0,567.3) scale(0.82,1)" font-size="6.3" text-anchor="end" fill="#888" >215,480</text>
<text transform="translate(476.0,567.3) scale(0.82,1)" font-size="6.3" text-anchor="end" fill="#888" >61,860</text>
<text transform="translate(527.0,567.3) scale(0.82,1)" font-size="6.3" text-anchor="end" fill="#888" >582,690</text>
<text transform="translate(568.0,567.3) scale(0.82,1)" font-size="6.3" text-anchor="end" fill="#888" >1,232,090</text>
<text transform="translate(609.0,567.3) scale(0.82,1)" font-size="6.3" text-anchor="end" fill="#888" >1,717,280</text>
<rect x="337.00" y="571.00" width="287.00" height="12.00" fill="#f0f1f8" />
<text transform="translate(350.5,579.3) scale(0.82,1)" font-size="6.3" text-anchor="middle" fill="#888" >2008</text>
<text transform="translate(378.0,579.3) scale(0.82,1)" font-size="6.3" text-anchor="middle" fill="#888" >11</text>
<text transform="translate(435.0,579.3) scale(0.82,1)" font-size="6.3" text-anchor="end" fill="#888" >233,600</text>
<text transform="translate(476.0,579.3) scale(0.82,1)" font-size="6.3" text-anchor="end" fill="#888" >17,950</text>
<text transform="translate(527.0,579.3) scale(0.82,1)" font-size="6.3" text-anchor="end" fill="#888" >511,790</text>
<text transform="translate(568.0,579.3) scale(0.82,1)" font-size="6.3" text-anchor="end" fill="#888" >216,880</text>
<text transform="translate(609.0,579.3) scale(0.82,1)" font-size="6.3" text-anchor="end" fill="#888" >744,330</text>
<text transform="translate(350.5,591.3) scale(0.82,1)" font-size="6.3" text-anchor="middle" fill="#888" >2008</text>
<text transform="translate(378.0,591.3) scale(0.82,1)" font-size="6.3" text-anchor="middle" fill="#888" >12</text>
<text transform="translate(435.0,591.3) scale(0.82,1)" font-size="6.3" text-anchor="end" fill="#888" >527,290</text>
<text transform="translate(476.0,591.3) scale(0.82,1)" font-size="6.3" text-anchor="end" fill="#888" >45,910</text>
<text transform="translate(527.0,591.3) scale(0.82,1)" font-size="6.3" text-anchor="end" fill="#888" >327,060</text>
<text transform="translate(568.0,591.3) scale(0.82,1)" font-size="6.3" text-anchor="end" fill="#888" >205,090</text>
<text transform="translate(609.0,591.3) scale(0.82,1)" font-size="6.3" text-anchor="end" fill="#888" >776,530</text>
<text transform="translate(378.0,435.5) scale(0.86,1)" font-size="6.26" text-anchor="middle" fill="#666" >商品中分類</text>
<text x="416.0" y="435.5" font-size="5.8" text-anchor="middle" fill="#999" >アウトドア</text>
<text x="457.0" y="435.5" font-size="5.8" text-anchor="middle" fill="#aaa" >スノーボード</text>
<text transform="translate(503.0,435.5) scale(0.86,1)" font-size="6.26" text-anchor="middle" fill="#666" >化粧品、美容雑貨</text>
<text transform="translate(548.0,435.5) scale(0.86,1)" font-size="6.26" text-anchor="middle" fill="#666" >医薬品</text>
<text transform="translate(590.0,435.5) scale(0.86,1)" font-size="6.26" text-anchor="middle" fill="#666" >婦人服</text>
<text transform="translate(350.5,447.5) scale(0.86,1)" font-size="6.26" text-anchor="middle" fill="#666" >年</text>
<text transform="translate(378.0,447.5) scale(0.86,1)" font-size="6.26" text-anchor="middle" fill="#666" >月</text>
<text x="416.0" y="447.5" font-size="5.8" text-anchor="middle" fill="#55557a" >販売金額</text>
<text x="457.0" y="447.5" font-size="5.8" text-anchor="middle" fill="#55557a" >販売金額</text>
<text x="502.0" y="447.5" font-size="5.8" text-anchor="middle" fill="#55557a" >販売金額</text>
<text x="549.0" y="447.5" font-size="5.8" text-anchor="middle" fill="#55557a" >販売金額</text>
<text x="590.0" y="447.5" font-size="5.8" text-anchor="middle" fill="#55557a" >販売金額</text>
<text x="621.0" y="447.5" font-size="5.8" text-anchor="middle" fill="#55557a" >販</text>
<line x1="688.2" y1="427.0" x2="688.2" y2="564.4" stroke="#444" stroke-width="0.9"/>
<line x1="688.2" y1="564.4" x2="943.4" y2="564.4" stroke="#444" stroke-width="0.9"/>
<text transform="translate(682.0,559.3) scale(0.86,1)" font-size="6.48" text-anchor="end" fill="#666" >0</text>
<line x1="685.5" y1="557.1" x2="688.2" y2="557.1" stroke="#444" stroke-width="0.9"/>
<text transform="translate(682.0,548.8) scale(0.86,1)" font-size="6.48" text-anchor="end" fill="#666" >1</text>
<line x1="685.5" y1="546.6" x2="688.2" y2="546.6" stroke="#444" stroke-width="0.9"/>
<text transform="translate(682.0,538.2) scale(0.86,1)" font-size="6.48" text-anchor="end" fill="#666" >2</text>
<line x1="685.5" y1="536.0" x2="688.2" y2="536.0" stroke="#444" stroke-width="0.9"/>
<text transform="translate(682.0,527.7) scale(0.86,1)" font-size="6.48" text-anchor="end" fill="#666" >3</text>
<line x1="685.5" y1="525.5" x2="688.2" y2="525.5" stroke="#444" stroke-width="0.9"/>
<text transform="translate(682.0,517.1) scale(0.86,1)" font-size="6.48" text-anchor="end" fill="#666" >4</text>
<line x1="685.5" y1="514.9" x2="688.2" y2="514.9" stroke="#444" stroke-width="0.9"/>
<text transform="translate(682.0,506.6) scale(0.86,1)" font-size="6.48" text-anchor="end" fill="#666" >5</text>
<line x1="685.5" y1="504.4" x2="688.2" y2="504.4" stroke="#444" stroke-width="0.9"/>
<text transform="translate(682.0,496.0) scale(0.86,1)" font-size="6.48" text-anchor="end" fill="#666" >6</text>
<line x1="685.5" y1="493.8" x2="688.2" y2="493.8" stroke="#444" stroke-width="0.9"/>
<text transform="translate(682.0,485.4) scale(0.86,1)" font-size="6.48" text-anchor="end" fill="#666" >7</text>
<line x1="685.5" y1="483.2" x2="688.2" y2="483.2" stroke="#444" stroke-width="0.9"/>
<text transform="translate(682.0,474.9) scale(0.86,1)" font-size="6.48" text-anchor="end" fill="#666" >8</text>
<line x1="685.5" y1="472.7" x2="688.2" y2="472.7" stroke="#444" stroke-width="0.9"/>
<text transform="translate(682.0,464.4) scale(0.86,1)" font-size="6.48" text-anchor="end" fill="#666" >9</text>
<line x1="685.5" y1="462.2" x2="688.2" y2="462.2" stroke="#444" stroke-width="0.9"/>
<text transform="translate(682.0,453.8) scale(0.86,1)" font-size="6.48" text-anchor="end" fill="#666" >10</text>
<line x1="685.5" y1="451.6" x2="688.2" y2="451.6" stroke="#444" stroke-width="0.9"/>
<text transform="translate(682.0,443.2) scale(0.86,1)" font-size="6.48" text-anchor="end" fill="#666" >11</text>
<line x1="685.5" y1="441.1" x2="688.2" y2="441.1" stroke="#444" stroke-width="0.9"/>
<text transform="translate(682.0,432.7) scale(0.86,1)" font-size="6.48" text-anchor="end" fill="#666" >12</text>
<line x1="685.5" y1="430.5" x2="688.2" y2="430.5" stroke="#444" stroke-width="0.9"/>
<line x1="690.3" y1="564.4" x2="690.3" y2="567.5" stroke="#444" stroke-width="0.9"/>
<text transform="translate(690.7,576.0) scale(0.86,1)" font-size="6.48" text-anchor="start" fill="#666" >0</text>
<line x1="704.9" y1="564.4" x2="704.9" y2="567.5" stroke="#444" stroke-width="0.9"/>
<text transform="translate(705.3,576.0) scale(0.86,1)" font-size="6.48" text-anchor="start" fill="#666" >4</text>
<line x1="719.5" y1="564.4" x2="719.5" y2="567.5" stroke="#444" stroke-width="0.9"/>
<text transform="translate(719.9,576.0) scale(0.86,1)" font-size="6.48" text-anchor="start" fill="#666" >8</text>
<line x1="734.1" y1="564.4" x2="734.1" y2="567.5" stroke="#444" stroke-width="0.9"/>
<text transform="translate(734.5,576.0) scale(0.86,1)" font-size="6.48" text-anchor="start" fill="#666" >12</text>
<line x1="748.7" y1="564.4" x2="748.7" y2="567.5" stroke="#444" stroke-width="0.9"/>
<text transform="translate(749.1,576.0) scale(0.86,1)" font-size="6.48" text-anchor="start" fill="#666" >16</text>
<line x1="763.2" y1="564.4" x2="763.2" y2="567.5" stroke="#444" stroke-width="0.9"/>
<text transform="translate(763.6,576.0) scale(0.86,1)" font-size="6.48" text-anchor="start" fill="#666" >20</text>
<line x1="777.8" y1="564.4" x2="777.8" y2="567.5" stroke="#444" stroke-width="0.9"/>
<text transform="translate(778.2,576.0) scale(0.86,1)" font-size="6.48" text-anchor="start" fill="#666" >24</text>
<line x1="792.4" y1="564.4" x2="792.4" y2="567.5" stroke="#444" stroke-width="0.9"/>
<text transform="translate(792.8,576.0) scale(0.86,1)" font-size="6.48" text-anchor="start" fill="#666" >28</text>
<line x1="807.0" y1="564.4" x2="807.0" y2="567.5" stroke="#444" stroke-width="0.9"/>
<text transform="translate(807.4,576.0) scale(0.86,1)" font-size="6.48" text-anchor="start" fill="#666" >32</text>
<line x1="821.6" y1="564.4" x2="821.6" y2="567.5" stroke="#444" stroke-width="0.9"/>
<text transform="translate(822.0,576.0) scale(0.86,1)" font-size="6.48" text-anchor="start" fill="#666" >36</text>
<line x1="836.2" y1="564.4" x2="836.2" y2="567.5" stroke="#444" stroke-width="0.9"/>
<text transform="translate(836.6,576.0) scale(0.86,1)" font-size="6.48" text-anchor="start" fill="#666" >40</text>
<line x1="850.8" y1="564.4" x2="850.8" y2="567.5" stroke="#444" stroke-width="0.9"/>
<text transform="translate(851.2,576.0) scale(0.86,1)" font-size="6.48" text-anchor="start" fill="#666" >44</text>
<line x1="865.4" y1="564.4" x2="865.4" y2="567.5" stroke="#444" stroke-width="0.9"/>
<text transform="translate(865.8,576.0) scale(0.86,1)" font-size="6.48" text-anchor="start" fill="#666" >48</text>
<line x1="879.9" y1="564.4" x2="879.9" y2="567.5" stroke="#444" stroke-width="0.9"/>
<text transform="translate(880.3,576.0) scale(0.86,1)" font-size="6.48" text-anchor="start" fill="#666" >52</text>
<line x1="894.5" y1="564.4" x2="894.5" y2="567.5" stroke="#444" stroke-width="0.9"/>
<text transform="translate(894.9,576.0) scale(0.86,1)" font-size="6.48" text-anchor="start" fill="#666" >56</text>
<line x1="909.1" y1="564.4" x2="909.1" y2="567.5" stroke="#444" stroke-width="0.9"/>
<text transform="translate(909.5,576.0) scale(0.86,1)" font-size="6.48" text-anchor="start" fill="#666" >60</text>
<line x1="923.7" y1="564.4" x2="923.7" y2="567.5" stroke="#444" stroke-width="0.9"/>
<text transform="translate(924.1,576.0) scale(0.86,1)" font-size="6.48" text-anchor="start" fill="#666" >64</text>
<line x1="938.3" y1="564.4" x2="938.3" y2="567.5" stroke="#444" stroke-width="0.9"/>
<text transform="translate(938.7,576.0) scale(0.86,1)" font-size="6.48" text-anchor="start" fill="#666" >6</text>
<text x="662.0" y="485.1" font-size="5.5" text-anchor="middle" fill="#555">販</text>
<text x="662.0" y="491.2" font-size="5.5" text-anchor="middle" fill="#555">売</text>
<text x="662.0" y="497.3" font-size="5.5" text-anchor="middle" fill="#555">金</text>
<text x="662.0" y="503.4" font-size="5.5" text-anchor="middle" fill="#555">額</text>
<text x="662.0" y="507.9" font-size="5.5" text-anchor="middle" fill="#555">︵</text>
<text x="662.0" y="512.5" font-size="5.5" text-anchor="middle" fill="#555">十</text>
<text x="662.0" y="518.6" font-size="5.5" text-anchor="middle" fill="#555">万</text>
<text x="662.0" y="523.1" font-size="5.5" text-anchor="middle" fill="#555">︶</text>
<text x="820.0" y="590.0" font-size="6" text-anchor="middle" fill="#555" >販売数</text>
<circle cx="722.3" cy="551.4" r="3.2" fill="#4a80c8" stroke="none" stroke-width="1" fill-opacity="0.85"/>
<circle cx="726.6" cy="544.3" r="3.2" fill="#253494" stroke="none" stroke-width="1" fill-opacity="0.85"/>
<circle cx="702.2" cy="556.3" r="3.2" fill="#6aa8d8" stroke="none" stroke-width="1" fill-opacity="0.85"/>
<circle cx="696.0" cy="553.2" r="3.2" fill="#45bcc8" stroke="none" stroke-width="1" fill-opacity="0.85"/>
<circle cx="695.8" cy="550.5" r="3.2" fill="#45bcc8" stroke="none" stroke-width="1" fill-opacity="0.85"/>
<circle cx="765.4" cy="531.7" r="3.2" fill="#c7e9b4" stroke="none" stroke-width="1" fill-opacity="0.85"/>
<circle cx="738.3" cy="538.1" r="3.2" fill="#45bcc8" stroke="none" stroke-width="1" fill-opacity="0.85"/>
<circle cx="728.3" cy="541.8" r="3.2" fill="#45bcc8" stroke="none" stroke-width="1" fill-opacity="0.85"/>
<circle cx="702.6" cy="550.1" r="3.2" fill="#4a80c8" stroke="none" stroke-width="1" fill-opacity="0.85"/>
<circle cx="721.4" cy="541.8" r="3.2" fill="#80d0c0" stroke="none" stroke-width="1" fill-opacity="0.85"/>
<circle cx="727.5" cy="543.6" r="3.2" fill="#3060b8" stroke="none" stroke-width="1" fill-opacity="0.85"/>
<circle cx="722.7" cy="546.2" r="3.2" fill="#45bcc8" stroke="none" stroke-width="1" fill-opacity="0.85"/>
<circle cx="766.7" cy="517.1" r="3.2" fill="#6aa8d8" stroke="none" stroke-width="1" fill-opacity="0.85"/>
<circle cx="711.8" cy="546.8" r="3.2" fill="#45bcc8" stroke="none" stroke-width="1" fill-opacity="0.85"/>
<circle cx="709.9" cy="540.8" r="3.2" fill="#4a80c8" stroke="none" stroke-width="1" fill-opacity="0.85"/>
<circle cx="754.1" cy="527.0" r="3.2" fill="#4a80c8" stroke="none" stroke-width="1" fill-opacity="0.85"/>
<circle cx="763.4" cy="526.4" r="3.2" fill="#45bcc8" stroke="none" stroke-width="1" fill-opacity="0.85"/>
<circle cx="759.4" cy="528.1" r="3.2" fill="#4a80c8" stroke="none" stroke-width="1" fill-opacity="0.85"/>
<circle cx="765.2" cy="527.0" r="3.2" fill="#3060b8" stroke="none" stroke-width="1" fill-opacity="0.85"/>
<circle cx="748.4" cy="531.3" r="3.2" fill="#45bcc8" stroke="none" stroke-width="1" fill-opacity="0.85"/>
<circle cx="695.5" cy="556.6" r="3.2" fill="#6aa8d8" stroke="none" stroke-width="1" fill-opacity="0.85"/>
<circle cx="697.6" cy="542.7" r="3.2" fill="#45bcc8" stroke="none" stroke-width="1" fill-opacity="0.85"/>
<circle cx="696.5" cy="545.6" r="3.2" fill="#45bcc8" stroke="none" stroke-width="1" fill-opacity="0.85"/>
<circle cx="730.7" cy="536.4" r="3.2" fill="#4a80c8" stroke="none" stroke-width="1" fill-opacity="0.85"/>
<circle cx="702.7" cy="550.4" r="3.2" fill="#3060b8" stroke="none" stroke-width="1" fill-opacity="0.85"/>
<circle cx="697.5" cy="554.4" r="3.2" fill="#4a80c8" stroke="none" stroke-width="1" fill-opacity="0.85"/>
<circle cx="704.3" cy="550.9" r="3.2" fill="#80d0c0" stroke="none" stroke-width="1" fill-opacity="0.85"/>
<circle cx="711.0" cy="535.8" r="3.2" fill="#80d0c0" stroke="none" stroke-width="1" fill-opacity="0.85"/>
<circle cx="704.1" cy="556.1" r="3.2" fill="#3060b8" stroke="none" stroke-width="1" fill-opacity="0.85"/>
<circle cx="696.4" cy="547.5" r="3.2" fill="#c7e9b4" stroke="none" stroke-width="1" fill-opacity="0.85"/>
<circle cx="704.3" cy="549.9" r="3.2" fill="#45bcc8" stroke="none" stroke-width="1" fill-opacity="0.85"/>
<circle cx="710.4" cy="539.9" r="3.2" fill="#45bcc8" stroke="none" stroke-width="1" fill-opacity="0.85"/>
<circle cx="695.7" cy="555.6" r="3.2" fill="#3060b8" stroke="none" stroke-width="1" fill-opacity="0.85"/>
<circle cx="716.1" cy="546.5" r="3.2" fill="#4a80c8" stroke="none" stroke-width="1" fill-opacity="0.85"/>
<circle cx="763.5" cy="531.9" r="3.2" fill="#80d0c0" stroke="none" stroke-width="1" fill-opacity="0.85"/>
<circle cx="702.1" cy="549.8" r="3.2" fill="#45bcc8" stroke="none" stroke-width="1" fill-opacity="0.85"/>
<circle cx="759.2" cy="526.8" r="3.2" fill="#45bcc8" stroke="none" stroke-width="1" fill-opacity="0.85"/>
<circle cx="745.2" cy="536.4" r="3.2" fill="#c7e9b4" stroke="none" stroke-width="1" fill-opacity="0.85"/>
<circle cx="703.1" cy="541.7" r="3.2" fill="#3060b8" stroke="none" stroke-width="1" fill-opacity="0.85"/>
<circle cx="719.9" cy="546.1" r="3.2" fill="#45bcc8" stroke="none" stroke-width="1" fill-opacity="0.85"/>
<circle cx="692.4" cy="551.1" r="3.2" fill="#6aa8d8" stroke="none" stroke-width="1" fill-opacity="0.85"/>
<circle cx="707.5" cy="549.0" r="3.2" fill="#80d0c0" stroke="none" stroke-width="1" fill-opacity="0.85"/>
<circle cx="733.7" cy="538.8" r="3.2" fill="#6aa8d8" stroke="none" stroke-width="1" fill-opacity="0.85"/>
<circle cx="694.3" cy="550.9" r="3.2" fill="#45bcc8" stroke="none" stroke-width="1" fill-opacity="0.85"/>
<circle cx="730.7" cy="535.7" r="3.2" fill="#45bcc8" stroke="none" stroke-width="1" fill-opacity="0.85"/>
<circle cx="760.0" cy="532.4" r="3.2" fill="#45bcc8" stroke="none" stroke-width="1" fill-opacity="0.85"/>
<circle cx="691.1" cy="555.2" r="3.2" fill="#45bcc8" stroke="none" stroke-width="1" fill-opacity="0.85"/>
<circle cx="701.6" cy="546.0" r="3.2" fill="#4a80c8" stroke="none" stroke-width="1" fill-opacity="0.85"/>
<circle cx="731.7" cy="536.1" r="3.2" fill="#80d0c0" stroke="none" stroke-width="1" fill-opacity="0.85"/>
<circle cx="765.2" cy="522.8" r="3.2" fill="#3060b8" stroke="none" stroke-width="1" fill-opacity="0.85"/>
<circle cx="741.3" cy="537.1" r="3.2" fill="#45bcc8" stroke="none" stroke-width="1" fill-opacity="0.85"/>
<circle cx="691.2" cy="555.8" r="3.2" fill="#c7e9b4" stroke="none" stroke-width="1" fill-opacity="0.85"/>
<circle cx="742.1" cy="533.9" r="3.2" fill="#3060b8" stroke="none" stroke-width="1" fill-opacity="0.85"/>
<circle cx="724.6" cy="541.8" r="3.2" fill="#6aa8d8" stroke="none" stroke-width="1" fill-opacity="0.85"/>
<circle cx="712.1" cy="544.8" r="3.2" fill="#253494" stroke="none" stroke-width="1" fill-opacity="0.85"/>
<circle cx="745.0" cy="533.6" r="3.2" fill="#c7e9b4" stroke="none" stroke-width="1" fill-opacity="0.85"/>
<circle cx="745.1" cy="535.8" r="3.2" fill="#c7e9b4" stroke="none" stroke-width="1" fill-opacity="0.85"/>
<circle cx="714.6" cy="552.7" r="3.2" fill="#3060b8" stroke="none" stroke-width="1" fill-opacity="0.85"/>
<circle cx="758.6" cy="525.3" r="3.2" fill="#6aa8d8" stroke="none" stroke-width="1" fill-opacity="0.85"/>
<circle cx="755.5" cy="532.7" r="3.2" fill="#253494" stroke="none" stroke-width="1" fill-opacity="0.85"/>
<circle cx="736.0" cy="541.3" r="3.2" fill="#3060b8" stroke="none" stroke-width="1" fill-opacity="0.85"/>
<circle cx="695.1" cy="549.4" r="3.2" fill="#3060b8" stroke="none" stroke-width="1" fill-opacity="0.85"/>
<circle cx="766.3" cy="520.3" r="3.2" fill="#4a80c8" stroke="none" stroke-width="1" fill-opacity="0.85"/>
<circle cx="744.9" cy="538.3" r="3.2" fill="#253494" stroke="none" stroke-width="1" fill-opacity="0.85"/>
<circle cx="721.4" cy="541.9" r="3.2" fill="#6aa8d8" stroke="none" stroke-width="1" fill-opacity="0.85"/>
<circle cx="691.9" cy="555.9" r="3.2" fill="#3060b8" stroke="none" stroke-width="1" fill-opacity="0.85"/>
<circle cx="724.5" cy="540.8" r="3.2" fill="#253494" stroke="none" stroke-width="1" fill-opacity="0.85"/>
<circle cx="735.1" cy="531.0" r="3.2" fill="#c7e9b4" stroke="none" stroke-width="1" fill-opacity="0.85"/>
<circle cx="707.4" cy="544.8" r="3.2" fill="#3060b8" stroke="none" stroke-width="1" fill-opacity="0.85"/>
<circle cx="703.5" cy="549.6" r="3.2" fill="#45bcc8" stroke="none" stroke-width="1" fill-opacity="0.85"/>
<circle cx="759.0" cy="530.6" r="3.2" fill="#80d0c0" stroke="none" stroke-width="1" fill-opacity="0.85"/>
<circle cx="712.7" cy="550.1" r="3.2" fill="#3060b8" stroke="none" stroke-width="1" fill-opacity="0.85"/>
<circle cx="703.2" cy="556.6" r="3.2" fill="#c7e9b4" stroke="none" stroke-width="1" fill-opacity="0.85"/>
<circle cx="756.9" cy="525.8" r="3.2" fill="#4a80c8" stroke="none" stroke-width="1" fill-opacity="0.85"/>
<circle cx="732.6" cy="539.4" r="3.2" fill="#253494" stroke="none" stroke-width="1" fill-opacity="0.85"/>
<circle cx="753.3" cy="528.3" r="3.2" fill="#80d0c0" stroke="none" stroke-width="1" fill-opacity="0.85"/>
<circle cx="742.9" cy="531.2" r="3.2" fill="#45bcc8" stroke="none" stroke-width="1" fill-opacity="0.85"/>
<circle cx="722.2" cy="543.6" r="3.2" fill="#45bcc8" stroke="none" stroke-width="1" fill-opacity="0.85"/>
<circle cx="704.4" cy="554.6" r="3.2" fill="#253494" stroke="none" stroke-width="1" fill-opacity="0.85"/>
<circle cx="711.8" cy="543.5" r="3.2" fill="#80d0c0" stroke="none" stroke-width="1" fill-opacity="0.85"/>
<circle cx="765.4" cy="527.3" r="3.2" fill="#45bcc8" stroke="none" stroke-width="1" fill-opacity="0.85"/>
<circle cx="756.2" cy="528.7" r="3.2" fill="#45bcc8" stroke="none" stroke-width="1" fill-opacity="0.85"/>
<circle cx="742.7" cy="537.8" r="3.2" fill="#6aa8d8" stroke="none" stroke-width="1" fill-opacity="0.85"/>
<circle cx="691.3" cy="556.2" r="3.2" fill="#45bcc8" stroke="none" stroke-width="1" fill-opacity="0.85"/>
<circle cx="722.5" cy="534.6" r="3.2" fill="#45bcc8" stroke="none" stroke-width="1" fill-opacity="0.85"/>
<circle cx="699.2" cy="550.3" r="3.2" fill="#45bcc8" stroke="none" stroke-width="1" fill-opacity="0.85"/>
<circle cx="736.3" cy="542.6" r="3.2" fill="#3060b8" stroke="none" stroke-width="1" fill-opacity="0.85"/>
<circle cx="750.8" cy="529.4" r="3.2" fill="#c7e9b4" stroke="none" stroke-width="1" fill-opacity="0.85"/>
<circle cx="740.8" cy="533.8" r="3.2" fill="#45bcc8" stroke="none" stroke-width="1" fill-opacity="0.85"/>
<circle cx="690.8" cy="550.2" r="3.2" fill="#4a80c8" stroke="none" stroke-width="1" fill-opacity="0.85"/>
<circle cx="743.2" cy="532.9" r="3.2" fill="#4a80c8" stroke="none" stroke-width="1" fill-opacity="0.85"/>
<circle cx="741.8" cy="531.8" r="3.2" fill="#253494" stroke="none" stroke-width="1" fill-opacity="0.85"/>
<circle cx="735.1" cy="537.3" r="3.2" fill="#6aa8d8" stroke="none" stroke-width="1" fill-opacity="0.85"/>
<circle cx="759.0" cy="532.4" r="3.2" fill="#45bcc8" stroke="none" stroke-width="1" fill-opacity="0.85"/>
<circle cx="761.2" cy="527.7" r="3.2" fill="#4a80c8" stroke="none" stroke-width="1" fill-opacity="0.85"/>
<circle cx="736.0" cy="539.3" r="3.2" fill="#c7e9b4" stroke="none" stroke-width="1" fill-opacity="0.85"/>
<circle cx="716.5" cy="552.6" r="3.2" fill="#6aa8d8" stroke="none" stroke-width="1" fill-opacity="0.85"/>
<circle cx="762.2" cy="530.5" r="3.2" fill="#4a80c8" stroke="none" stroke-width="1" fill-opacity="0.85"/>
<circle cx="738.1" cy="534.4" r="3.2" fill="#80d0c0" stroke="none" stroke-width="1" fill-opacity="0.85"/>
<circle cx="737.3" cy="530.2" r="3.2" fill="#6aa8d8" stroke="none" stroke-width="1" fill-opacity="0.85"/>
<circle cx="704.3" cy="539.9" r="3.2" fill="#c7e9b4" stroke="none" stroke-width="1" fill-opacity="0.85"/>
<circle cx="728.9" cy="546.9" r="3.2" fill="#6aa8d8" stroke="none" stroke-width="1" fill-opacity="0.85"/>
<circle cx="712.2" cy="539.4" r="3.2" fill="#4a80c8" stroke="none" stroke-width="1" fill-opacity="0.85"/>
<circle cx="695.2" cy="556.6" r="3.2" fill="#4a80c8" stroke="none" stroke-width="1" fill-opacity="0.85"/>
<circle cx="730.0" cy="538.9" r="3.2" fill="#45bcc8" stroke="none" stroke-width="1" fill-opacity="0.85"/>
<circle cx="751.0" cy="536.1" r="3.2" fill="#45bcc8" stroke="none" stroke-width="1" fill-opacity="0.85"/>
<circle cx="750.2" cy="529.8" r="3.2" fill="#6aa8d8" stroke="none" stroke-width="1" fill-opacity="0.85"/>
<circle cx="699.1" cy="548.2" r="3.2" fill="#45bcc8" stroke="none" stroke-width="1" fill-opacity="0.85"/>
<circle cx="727.3" cy="541.9" r="3.2" fill="#3060b8" stroke="none" stroke-width="1" fill-opacity="0.85"/>
<circle cx="762.3" cy="534.8" r="3.2" fill="#253494" stroke="none" stroke-width="1" fill-opacity="0.85"/>
<circle cx="762.6" cy="524.2" r="3.2" fill="#253494" stroke="none" stroke-width="1" fill-opacity="0.85"/>
<circle cx="709.9" cy="545.8" r="3.2" fill="#6aa8d8" stroke="none" stroke-width="1" fill-opacity="0.85"/>
<circle cx="737.1" cy="544.8" r="3.2" fill="#253494" stroke="none" stroke-width="1" fill-opacity="0.85"/>
<circle cx="711.5" cy="547.9" r="3.2" fill="#4a80c8" stroke="none" stroke-width="1" fill-opacity="0.85"/>
<circle cx="754.0" cy="527.8" r="3.2" fill="#80d0c0" stroke="none" stroke-width="1" fill-opacity="0.85"/>
<circle cx="764.2" cy="527.8" r="3.2" fill="#253494" stroke="none" stroke-width="1" fill-opacity="0.85"/>
<circle cx="731.8" cy="537.2" r="3.2" fill="#253494" stroke="none" stroke-width="1" fill-opacity="0.85"/>
<circle cx="734.4" cy="532.8" r="3.2" fill="#45bcc8" stroke="none" stroke-width="1" fill-opacity="0.85"/>
<circle cx="764.3" cy="530.3" r="3.2" fill="#80d0c0" stroke="none" stroke-width="1" fill-opacity="0.85"/>
<circle cx="731.0" cy="539.5" r="3.2" fill="#253494" stroke="none" stroke-width="1" fill-opacity="0.85"/>
<circle cx="741.3" cy="530.3" r="3.2" fill="#4a80c8" stroke="none" stroke-width="1" fill-opacity="0.85"/>
<circle cx="763.3" cy="524.4" r="3.2" fill="#c7e9b4" stroke="none" stroke-width="1" fill-opacity="0.85"/>
<circle cx="708.4" cy="550.1" r="3.2" fill="#4a80c8" stroke="none" stroke-width="1" fill-opacity="0.85"/>
<circle cx="751.5" cy="530.7" r="3.2" fill="#c7e9b4" stroke="none" stroke-width="1" fill-opacity="0.85"/>
<circle cx="724.2" cy="542.9" r="3.2" fill="#3060b8" stroke="none" stroke-width="1" fill-opacity="0.85"/>
<circle cx="760.6" cy="525.0" r="3.2" fill="#45bcc8" stroke="none" stroke-width="1" fill-opacity="0.85"/>
<circle cx="748.5" cy="529.5" r="3.2" fill="#45bcc8" stroke="none" stroke-width="1" fill-opacity="0.85"/>
<circle cx="741.0" cy="534.8" r="3.2" fill="#45bcc8" stroke="none" stroke-width="1" fill-opacity="0.85"/>
<circle cx="714.8" cy="546.9" r="3.2" fill="#6aa8d8" stroke="none" stroke-width="1" fill-opacity="0.85"/>
<circle cx="697.9" cy="553.4" r="3.2" fill="#253494" stroke="none" stroke-width="1" fill-opacity="0.85"/>
<circle cx="707.0" cy="546.8" r="3.2" fill="#4a80c8" stroke="none" stroke-width="1" fill-opacity="0.85"/>
<circle cx="716.4" cy="539.9" r="3.2" fill="#4a80c8" stroke="none" stroke-width="1" fill-opacity="0.85"/>
<circle cx="728.3" cy="538.6" r="3.2" fill="#3060b8" stroke="none" stroke-width="1" fill-opacity="0.85"/>
<circle cx="737.1" cy="534.3" r="3.2" fill="#253494" stroke="none" stroke-width="1" fill-opacity="0.85"/>
<circle cx="754.5" cy="536.3" r="3.2" fill="#45bcc8" stroke="none" stroke-width="1" fill-opacity="0.85"/>
<circle cx="745.4" cy="538.9" r="3.2" fill="#80d0c0" stroke="none" stroke-width="1" fill-opacity="0.85"/>
<circle cx="758.7" cy="529.7" r="3.2" fill="#c7e9b4" stroke="none" stroke-width="1" fill-opacity="0.85"/>
<circle cx="704.6" cy="546.0" r="3.2" fill="#c7e9b4" stroke="none" stroke-width="1" fill-opacity="0.85"/>
<circle cx="757.5" cy="526.7" r="3.2" fill="#6aa8d8" stroke="none" stroke-width="1" fill-opacity="0.85"/>
<circle cx="707.7" cy="545.9" r="3.2" fill="#45bcc8" stroke="none" stroke-width="1" fill-opacity="0.85"/>
<circle cx="752.9" cy="537.1" r="3.2" fill="#45bcc8" stroke="none" stroke-width="1" fill-opacity="0.85"/>
<circle cx="718.5" cy="540.5" r="3.2" fill="#3060b8" stroke="none" stroke-width="1" fill-opacity="0.85"/>
<circle cx="691.2" cy="552.7" r="3.2" fill="#c7e9b4" stroke="none" stroke-width="1" fill-opacity="0.85"/>
<circle cx="764.2" cy="520.0" r="3.2" fill="#45bcc8" stroke="none" stroke-width="1" fill-opacity="0.85"/>
<circle cx="726.5" cy="540.6" r="3.2" fill="#3060b8" stroke="none" stroke-width="1" fill-opacity="0.85"/>
<circle cx="702.6" cy="555.2" r="3.2" fill="#45bcc8" stroke="none" stroke-width="1" fill-opacity="0.85"/>
<circle cx="696.8" cy="547.3" r="3.2" fill="#253494" stroke="none" stroke-width="1" fill-opacity="0.85"/>
<circle cx="731.5" cy="537.7" r="3.2" fill="#45bcc8" stroke="none" stroke-width="1" fill-opacity="0.85"/>
<circle cx="702.2" cy="548.0" r="3.2" fill="#c7e9b4" stroke="none" stroke-width="1" fill-opacity="0.85"/>
<circle cx="760.8" cy="519.7" r="3.2" fill="#45bcc8" stroke="none" stroke-width="1" fill-opacity="0.85"/>
<circle cx="693.9" cy="549.1" r="3.2" fill="#6aa8d8" stroke="none" stroke-width="1" fill-opacity="0.85"/>
<circle cx="712.7" cy="547.7" r="3.2" fill="#4a80c8" stroke="none" stroke-width="1" fill-opacity="0.85"/>
<circle cx="727.2" cy="545.7" r="3.2" fill="#45bcc8" stroke="none" stroke-width="1" fill-opacity="0.85"/>
<circle cx="742.1" cy="532.3" r="3.2" fill="#80d0c0" stroke="none" stroke-width="1" fill-opacity="0.85"/>
<circle cx="702.0" cy="556.6" r="3.2" fill="#4a80c8" stroke="none" stroke-width="1" fill-opacity="0.85"/>
<circle cx="703.0" cy="548.1" r="3.2" fill="#45bcc8" stroke="none" stroke-width="1" fill-opacity="0.85"/>
<circle cx="727.0" cy="531.8" r="3.2" fill="#80d0c0" stroke="none" stroke-width="1" fill-opacity="0.85"/>
<circle cx="742.4" cy="533.8" r="3.2" fill="#80d0c0" stroke="none" stroke-width="1" fill-opacity="0.85"/>
<circle cx="736.3" cy="541.7" r="3.2" fill="#253494" stroke="none" stroke-width="1" fill-opacity="0.85"/>
<circle cx="765.4" cy="522.4" r="3.2" fill="#80d0c0" stroke="none" stroke-width="1" fill-opacity="0.85"/>
<circle cx="707.6" cy="542.3" r="3.2" fill="#6aa8d8" stroke="none" stroke-width="1" fill-opacity="0.85"/>
<circle cx="751.4" cy="534.8" r="3.2" fill="#4a80c8" stroke="none" stroke-width="1" fill-opacity="0.85"/>
<circle cx="758.2" cy="523.7" r="3.2" fill="#6aa8d8" stroke="none" stroke-width="1" fill-opacity="0.85"/>
<circle cx="747.4" cy="537.2" r="3.2" fill="#4a80c8" stroke="none" stroke-width="1" fill-opacity="0.85"/>
<circle cx="743.9" cy="530.6" r="3.2" fill="#4a80c8" stroke="none" stroke-width="1" fill-opacity="0.85"/>
<circle cx="690.8" cy="553.1" r="3.2" fill="#4a80c8" stroke="none" stroke-width="1" fill-opacity="0.85"/>
<circle cx="737.1" cy="538.9" r="3.2" fill="#c7e9b4" stroke="none" stroke-width="1" fill-opacity="0.85"/>
<circle cx="739.3" cy="538.0" r="3.2" fill="#4a80c8" stroke="none" stroke-width="1" fill-opacity="0.85"/>
<circle cx="738.8" cy="540.8" r="3.2" fill="#4a80c8" stroke="none" stroke-width="1" fill-opacity="0.85"/>
<circle cx="766.9" cy="527.3" r="3.2" fill="#3060b8" stroke="none" stroke-width="1" fill-opacity="0.85"/>
<circle cx="742.1" cy="533.9" r="3.2" fill="#45bcc8" stroke="none" stroke-width="1" fill-opacity="0.85"/>
<circle cx="735.2" cy="549.2" r="3.2" fill="#6aa8d8" stroke="none" stroke-width="1" fill-opacity="0.85"/>
<circle cx="707.5" cy="549.4" r="3.2" fill="#45bcc8" stroke="none" stroke-width="1" fill-opacity="0.85"/>
<circle cx="716.4" cy="544.0" r="3.2" fill="#45bcc8" stroke="none" stroke-width="1" fill-opacity="0.85"/>
<circle cx="707.0" cy="544.0" r="3.2" fill="#253494" stroke="none" stroke-width="1" fill-opacity="0.85"/>
<circle cx="764.1" cy="529.1" r="3.2" fill="#253494" stroke="none" stroke-width="1" fill-opacity="0.85"/>
<circle cx="766.5" cy="530.2" r="3.2" fill="#45bcc8" stroke="none" stroke-width="1" fill-opacity="0.85"/>
<circle cx="733.8" cy="543.9" r="3.2" fill="#6aa8d8" stroke="none" stroke-width="1" fill-opacity="0.85"/>
<circle cx="692.8" cy="551.7" r="3.2" fill="#4a80c8" stroke="none" stroke-width="1" fill-opacity="0.85"/>
<circle cx="701.1" cy="551.8" r="3.2" fill="#253494" stroke="none" stroke-width="1" fill-opacity="0.85"/>
<circle cx="734.9" cy="528.1" r="3.2" fill="#4a80c8" stroke="none" stroke-width="1" fill-opacity="0.85"/>
<circle cx="728.1" cy="536.6" r="3.2" fill="#253494" stroke="none" stroke-width="1" fill-opacity="0.85"/>
<circle cx="715.6" cy="546.5" r="3.2" fill="#253494" stroke="none" stroke-width="1" fill-opacity="0.85"/>
<circle cx="709.4" cy="541.5" r="3.2" fill="#6aa8d8" stroke="none" stroke-width="1" fill-opacity="0.85"/>
<circle cx="710.4" cy="544.0" r="3.2" fill="#45bcc8" stroke="none" stroke-width="1" fill-opacity="0.85"/>
<circle cx="700.3" cy="550.8" r="3.2" fill="#6aa8d8" stroke="none" stroke-width="1" fill-opacity="0.85"/>
<circle cx="717.5" cy="538.8" r="3.2" fill="#45bcc8" stroke="none" stroke-width="1" fill-opacity="0.85"/>
<circle cx="765.9" cy="529.7" r="3.2" fill="#c7e9b4" stroke="none" stroke-width="1" fill-opacity="0.85"/>
<circle cx="694.6" cy="549.6" r="3.2" fill="#4a80c8" stroke="none" stroke-width="1" fill-opacity="0.85"/>
<circle cx="764.6" cy="528.5" r="3.2" fill="#45bcc8" stroke="none" stroke-width="1" fill-opacity="0.85"/>
<circle cx="727.9" cy="534.1" r="3.2" fill="#4a80c8" stroke="none" stroke-width="1" fill-opacity="0.85"/>
<circle cx="765.1" cy="528.4" r="3.2" fill="#80d0c0" stroke="none" stroke-width="1" fill-opacity="0.85"/>
<circle cx="734.3" cy="533.4" r="3.2" fill="#4a80c8" stroke="none" stroke-width="1" fill-opacity="0.85"/>
<circle cx="703.6" cy="545.9" r="3.2" fill="#45bcc8" stroke="none" stroke-width="1" fill-opacity="0.85"/>
<circle cx="728.2" cy="536.9" r="3.2" fill="#3060b8" stroke="none" stroke-width="1" fill-opacity="0.85"/>
<circle cx="722.6" cy="539.2" r="3.2" fill="#45bcc8" stroke="none" stroke-width="1" fill-opacity="0.85"/>
<circle cx="732.5" cy="544.9" r="3.2" fill="#253494" stroke="none" stroke-width="1" fill-opacity="0.85"/>
<circle cx="766.7" cy="521.6" r="3.2" fill="#c7e9b4" stroke="none" stroke-width="1" fill-opacity="0.85"/>
<circle cx="744.8" cy="533.5" r="3.2" fill="#80d0c0" stroke="none" stroke-width="1" fill-opacity="0.85"/>
<circle cx="748.9" cy="530.0" r="3.2" fill="#3060b8" stroke="none" stroke-width="1" fill-opacity="0.85"/>
<circle cx="715.1" cy="546.2" r="3.2" fill="#253494" stroke="none" stroke-width="1" fill-opacity="0.85"/>
<circle cx="733.3" cy="531.8" r="3.2" fill="#3060b8" stroke="none" stroke-width="1" fill-opacity="0.85"/>
<circle cx="746.4" cy="531.9" r="3.2" fill="#c7e9b4" stroke="none" stroke-width="1" fill-opacity="0.85"/>
<circle cx="759.8" cy="524.9" r="3.2" fill="#80d0c0" stroke="none" stroke-width="1" fill-opacity="0.85"/>
<circle cx="692.5" cy="551.0" r="3.2" fill="#4a80c8" stroke="none" stroke-width="1" fill-opacity="0.85"/>
<circle cx="735.8" cy="536.0" r="3.2" fill="#45bcc8" stroke="none" stroke-width="1" fill-opacity="0.85"/>
<circle cx="729.3" cy="538.1" r="3.2" fill="#3060b8" stroke="none" stroke-width="1" fill-opacity="0.85"/>
<circle cx="730.0" cy="538.7" r="3.2" fill="#3060b8" stroke="none" stroke-width="1" fill-opacity="0.85"/>
<circle cx="716.2" cy="547.8" r="3.2" fill="#4a80c8" stroke="none" stroke-width="1" fill-opacity="0.85"/>
<circle cx="745.7" cy="533.0" r="3.2" fill="#80d0c0" stroke="none" stroke-width="1" fill-opacity="0.85"/>
<circle cx="694.7" cy="547.7" r="3.2" fill="#3060b8" stroke="none" stroke-width="1" fill-opacity="0.85"/>
<circle cx="747.6" cy="527.3" r="3.2" fill="#45bcc8" stroke="none" stroke-width="1" fill-opacity="0.85"/>
<circle cx="720.1" cy="543.7" r="3.2" fill="#4a80c8" stroke="none" stroke-width="1" fill-opacity="0.85"/>
<circle cx="738.3" cy="528.6" r="3.2" fill="#c7e9b4" stroke="none" stroke-width="1" fill-opacity="0.85"/>
<circle cx="712.6" cy="553.0" r="3.2" fill="#c7e9b4" stroke="none" stroke-width="1" fill-opacity="0.85"/>
<circle cx="720.4" cy="545.3" r="3.2" fill="#4a80c8" stroke="none" stroke-width="1" fill-opacity="0.85"/>
<circle cx="696.2" cy="551.5" r="3.2" fill="#45bcc8" stroke="none" stroke-width="1" fill-opacity="0.85"/>
<circle cx="731.1" cy="540.3" r="3.2" fill="#253494" stroke="none" stroke-width="1" fill-opacity="0.85"/>
<circle cx="740.8" cy="537.5" r="3.2" fill="#45bcc8" stroke="none" stroke-width="1" fill-opacity="0.85"/>
<circle cx="704.3" cy="542.6" r="3.2" fill="#3060b8" stroke="none" stroke-width="1" fill-opacity="0.85"/>
<circle cx="695.2" cy="555.3" r="3.2" fill="#3060b8" stroke="none" stroke-width="1" fill-opacity="0.85"/>
<circle cx="709.4" cy="541.1" r="3.2" fill="#45bcc8" stroke="none" stroke-width="1" fill-opacity="0.85"/>
<circle cx="715.0" cy="545.9" r="3.2" fill="#45bcc8" stroke="none" stroke-width="1" fill-opacity="0.85"/>
<circle cx="742.8" cy="538.5" r="3.2" fill="#253494" stroke="none" stroke-width="1" fill-opacity="0.85"/>
<circle cx="760.1" cy="519.1" r="3.2" fill="#4a80c8" stroke="none" stroke-width="1" fill-opacity="0.85"/>
<circle cx="750.5" cy="534.9" r="3.2" fill="#45bcc8" stroke="none" stroke-width="1" fill-opacity="0.85"/>
<circle cx="712.0" cy="554.5" r="3.2" fill="#80d0c0" stroke="none" stroke-width="1" fill-opacity="0.85"/>
<circle cx="706.8" cy="542.7" r="3.2" fill="#4a80c8" stroke="none" stroke-width="1" fill-opacity="0.85"/>
<circle cx="715.6" cy="547.9" r="3.2" fill="#4a80c8" stroke="none" stroke-width="1" fill-opacity="0.85"/>
<circle cx="703.0" cy="546.8" r="3.2" fill="#253494" stroke="none" stroke-width="1" fill-opacity="0.85"/>
<circle cx="750.0" cy="539.5" r="3.2" fill="#253494" stroke="none" stroke-width="1" fill-opacity="0.85"/>
<circle cx="701.7" cy="552.6" r="3.2" fill="#6aa8d8" stroke="none" stroke-width="1" fill-opacity="0.85"/>
<circle cx="756.9" cy="529.2" r="3.2" fill="#253494" stroke="none" stroke-width="1" fill-opacity="0.85"/>
<circle cx="729.5" cy="538.8" r="3.2" fill="#253494" stroke="none" stroke-width="1" fill-opacity="0.85"/>
<circle cx="764.1" cy="530.6" r="3.2" fill="#45bcc8" stroke="none" stroke-width="1" fill-opacity="0.85"/>
<circle cx="729.7" cy="545.8" r="3.2" fill="#6aa8d8" stroke="none" stroke-width="1" fill-opacity="0.85"/>
<circle cx="695.3" cy="547.0" r="3.2" fill="#80d0c0" stroke="none" stroke-width="1" fill-opacity="0.85"/>
<circle cx="695.4" cy="549.6" r="3.2" fill="#3060b8" stroke="none" stroke-width="1" fill-opacity="0.85"/>
<circle cx="699.4" cy="551.6" r="3.2" fill="#45bcc8" stroke="none" stroke-width="1" fill-opacity="0.85"/>
<circle cx="704.8" cy="555.4" r="3.2" fill="#6aa8d8" stroke="none" stroke-width="1" fill-opacity="0.85"/>
<circle cx="727.7" cy="540.0" r="3.2" fill="#4a80c8" stroke="none" stroke-width="1" fill-opacity="0.85"/>
<circle cx="764.2" cy="530.3" r="3.2" fill="#3060b8" stroke="none" stroke-width="1" fill-opacity="0.85"/>
<circle cx="725.5" cy="547.8" r="3.2" fill="#6aa8d8" stroke="none" stroke-width="1" fill-opacity="0.85"/>
<circle cx="759.8" cy="529.4" r="3.2" fill="#4a80c8" stroke="none" stroke-width="1" fill-opacity="0.85"/>
<circle cx="752.4" cy="534.9" r="3.2" fill="#80d0c0" stroke="none" stroke-width="1" fill-opacity="0.85"/>
<circle cx="753.0" cy="537.7" r="3.2" fill="#80d0c0" stroke="none" stroke-width="1" fill-opacity="0.85"/>
<circle cx="763.3" cy="529.7" r="3.2" fill="#6aa8d8" stroke="none" stroke-width="1" fill-opacity="0.85"/>
<circle cx="750.4" cy="535.5" r="3.2" fill="#4a80c8" stroke="none" stroke-width="1" fill-opacity="0.85"/>
<circle cx="719.8" cy="539.2" r="3.2" fill="#c7e9b4" stroke="none" stroke-width="1" fill-opacity="0.85"/>
<circle cx="716.4" cy="539.3" r="3.2" fill="#45bcc8" stroke="none" stroke-width="1" fill-opacity="0.85"/>
<circle cx="703.7" cy="552.9" r="3.2" fill="#c7e9b4" stroke="none" stroke-width="1" fill-opacity="0.85"/>
<circle cx="693.7" cy="552.1" r="3.2" fill="#45bcc8" stroke="none" stroke-width="1" fill-opacity="0.85"/>
<circle cx="697.4" cy="556.6" r="3.2" fill="#45bcc8" stroke="none" stroke-width="1" fill-opacity="0.85"/>
<circle cx="693.9" cy="556.6" r="3.2" fill="#4a80c8" stroke="none" stroke-width="1" fill-opacity="0.85"/>
<circle cx="732.7" cy="537.5" r="3.2" fill="#45bcc8" stroke="none" stroke-width="1" fill-opacity="0.85"/>
<circle cx="702.2" cy="550.9" r="3.2" fill="#45bcc8" stroke="none" stroke-width="1" fill-opacity="0.85"/>
<circle cx="705.9" cy="550.1" r="3.2" fill="#45bcc8" stroke="none" stroke-width="1" fill-opacity="0.85"/>
<circle cx="702.3" cy="555.9" r="3.2" fill="#45bcc8" stroke="none" stroke-width="1" fill-opacity="0.85"/>
<circle cx="701.4" cy="550.5" r="3.2" fill="#253494" stroke="none" stroke-width="1" fill-opacity="0.85"/>
<circle cx="751.6" cy="534.7" r="3.2" fill="#4a80c8" stroke="none" stroke-width="1" fill-opacity="0.85"/>
<circle cx="707.7" cy="541.1" r="3.2" fill="#4a80c8" stroke="none" stroke-width="1" fill-opacity="0.85"/>
<circle cx="729.8" cy="545.7" r="3.2" fill="#c7e9b4" stroke="none" stroke-width="1" fill-opacity="0.85"/>
<circle cx="724.7" cy="541.3" r="3.2" fill="#c7e9b4" stroke="none" stroke-width="1" fill-opacity="0.85"/>
<circle cx="750.3" cy="530.2" r="3.2" fill="#4a80c8" stroke="none" stroke-width="1" fill-opacity="0.85"/>
<circle cx="728.2" cy="543.6" r="3.2" fill="#c7e9b4" stroke="none" stroke-width="1" fill-opacity="0.85"/>
<circle cx="738.6" cy="536.5" r="3.2" fill="#45bcc8" stroke="none" stroke-width="1" fill-opacity="0.85"/>
<circle cx="690.8" cy="556.6" r="3.2" fill="#6aa8d8" stroke="none" stroke-width="1" fill-opacity="0.85"/>
<circle cx="743.1" cy="533.7" r="3.2" fill="#3060b8" stroke="none" stroke-width="1" fill-opacity="0.85"/>
<circle cx="700.3" cy="549.0" r="3.2" fill="#45bcc8" stroke="none" stroke-width="1" fill-opacity="0.85"/>
<circle cx="755.9" cy="526.3" r="3.2" fill="#253494" stroke="none" stroke-width="1" fill-opacity="0.85"/>
<circle cx="736.9" cy="533.5" r="3.2" fill="#253494" stroke="none" stroke-width="1" fill-opacity="0.85"/>
<circle cx="699.8" cy="551.4" r="3.2" fill="#6aa8d8" stroke="none" stroke-width="1" fill-opacity="0.85"/>
<circle cx="690.4" cy="551.4" r="3.2" fill="#80d0c0" stroke="none" stroke-width="1" fill-opacity="0.85"/>
<circle cx="695.2" cy="556.6" r="3.2" fill="#45bcc8" stroke="none" stroke-width="1" fill-opacity="0.85"/>
<circle cx="743.4" cy="530.3" r="3.2" fill="#4a80c8" stroke="none" stroke-width="1" fill-opacity="0.85"/>
<circle cx="763.1" cy="523.8" r="3.2" fill="#253494" stroke="none" stroke-width="1" fill-opacity="0.85"/>
<circle cx="755.0" cy="532.2" r="3.2" fill="#4a80c8" stroke="none" stroke-width="1" fill-opacity="0.85"/>
<circle cx="759.9" cy="520.8" r="3.2" fill="#45bcc8" stroke="none" stroke-width="1" fill-opacity="0.85"/>
<circle cx="752.4" cy="529.4" r="3.2" fill="#253494" stroke="none" stroke-width="1" fill-opacity="0.85"/>
<circle cx="700.3" cy="546.0" r="3.2" fill="#80d0c0" stroke="none" stroke-width="1" fill-opacity="0.85"/>
<circle cx="711.5" cy="547.3" r="3.2" fill="#45bcc8" stroke="none" stroke-width="1" fill-opacity="0.85"/>
<circle cx="723.5" cy="540.5" r="3.2" fill="#6aa8d8" stroke="none" stroke-width="1" fill-opacity="0.85"/>
<circle cx="715.2" cy="546.0" r="3.2" fill="#4a80c8" stroke="none" stroke-width="1" fill-opacity="0.85"/>
<circle cx="723.0" cy="544.0" r="3.2" fill="#c7e9b4" stroke="none" stroke-width="1" fill-opacity="0.85"/>
<circle cx="752.7" cy="531.0" r="3.2" fill="#4a80c8" stroke="none" stroke-width="1" fill-opacity="0.85"/>
<circle cx="742.8" cy="535.0" r="3.2" fill="#45bcc8" stroke="none" stroke-width="1" fill-opacity="0.85"/>
<circle cx="731.1" cy="539.6" r="3.2" fill="#c7e9b4" stroke="none" stroke-width="1" fill-opacity="0.85"/>
<circle cx="750.2" cy="531.4" r="3.2" fill="#45bcc8" stroke="none" stroke-width="1" fill-opacity="0.85"/>
<circle cx="735.3" cy="538.5" r="3.2" fill="#253494" stroke="none" stroke-width="1" fill-opacity="0.85"/>
<circle cx="710.5" cy="543.1" r="3.2" fill="#4a80c8" stroke="none" stroke-width="1" fill-opacity="0.85"/>
<circle cx="717.7" cy="545.9" r="3.2" fill="#45bcc8" stroke="none" stroke-width="1" fill-opacity="0.85"/>
<circle cx="744.6" cy="536.6" r="3.2" fill="#45bcc8" stroke="none" stroke-width="1" fill-opacity="0.85"/>
<circle cx="762.3" cy="533.1" r="3.2" fill="#4a80c8" stroke="none" stroke-width="1" fill-opacity="0.85"/>
<circle cx="752.4" cy="533.3" r="3.2" fill="#45bcc8" stroke="none" stroke-width="1" fill-opacity="0.85"/>
<circle cx="699.2" cy="546.3" r="3.2" fill="#6aa8d8" stroke="none" stroke-width="1" fill-opacity="0.85"/>
<circle cx="701.9" cy="546.9" r="3.2" fill="#4a80c8" stroke="none" stroke-width="1" fill-opacity="0.85"/>
<circle cx="753.3" cy="531.9" r="3.2" fill="#45bcc8" stroke="none" stroke-width="1" fill-opacity="0.85"/>
<circle cx="700.3" cy="552.1" r="3.2" fill="#45bcc8" stroke="none" stroke-width="1" fill-opacity="0.85"/>
<circle cx="718.8" cy="535.3" r="3.2" fill="#4a80c8" stroke="none" stroke-width="1" fill-opacity="0.85"/>
<circle cx="726.9" cy="536.5" r="3.2" fill="#3060b8" stroke="none" stroke-width="1" fill-opacity="0.85"/>
<circle cx="747.5" cy="530.9" r="3.2" fill="#4a80c8" stroke="none" stroke-width="1" fill-opacity="0.85"/>
<circle cx="719.2" cy="547.5" r="3.2" fill="#45bcc8" stroke="none" stroke-width="1" fill-opacity="0.85"/>
<circle cx="718.3" cy="547.8" r="3.2" fill="#6aa8d8" stroke="none" stroke-width="1" fill-opacity="0.85"/>
<circle cx="738.8" cy="547.4" r="3.2" fill="#3060b8" stroke="none" stroke-width="1" fill-opacity="0.85"/>
<circle cx="691.3" cy="556.5" r="3.2" fill="#3060b8" stroke="none" stroke-width="1" fill-opacity="0.85"/>
<circle cx="696.8" cy="549.1" r="3.2" fill="#4a80c8" stroke="none" stroke-width="1" fill-opacity="0.85"/>
<circle cx="726.8" cy="538.9" r="3.2" fill="#3060b8" stroke="none" stroke-width="1" fill-opacity="0.85"/>
<circle cx="700.4" cy="556.6" r="3.2" fill="#6aa8d8" stroke="none" stroke-width="1" fill-opacity="0.85"/>
<circle cx="758.8" cy="532.0" r="3.2" fill="#253494" stroke="none" stroke-width="1" fill-opacity="0.85"/>
<circle cx="699.2" cy="552.7" r="3.2" fill="#6aa8d8" stroke="none" stroke-width="1" fill-opacity="0.85"/>
<circle cx="765.8" cy="532.2" r="3.2" fill="#80d0c0" stroke="none" stroke-width="1" fill-opacity="0.85"/>
<circle cx="703.1" cy="550.6" r="3.2" fill="#c7e9b4" stroke="none" stroke-width="1" fill-opacity="0.85"/>
<circle cx="736.1" cy="536.5" r="3.2" fill="#45bcc8" stroke="none" stroke-width="1" fill-opacity="0.85"/>
<circle cx="732.1" cy="537.0" r="3.2" fill="#3060b8" stroke="none" stroke-width="1" fill-opacity="0.85"/>
<circle cx="712.9" cy="542.6" r="3.2" fill="#4a80c8" stroke="none" stroke-width="1" fill-opacity="0.85"/>
<circle cx="698.0" cy="553.7" r="3.2" fill="#c7e9b4" stroke="none" stroke-width="1" fill-opacity="0.85"/>
<circle cx="698.8" cy="547.3" r="3.2" fill="#253494" stroke="none" stroke-width="1" fill-opacity="0.85"/>
<circle cx="730.8" cy="542.2" r="3.2" fill="#45bcc8" stroke="none" stroke-width="1" fill-opacity="0.85"/>
<circle cx="759.3" cy="520.3" r="3.2" fill="#3060b8" stroke="none" stroke-width="1" fill-opacity="0.85"/>
<circle cx="697.9" cy="552.4" r="3.2" fill="#80d0c0" stroke="none" stroke-width="1" fill-opacity="0.85"/>
<circle cx="709.8" cy="544.9" r="3.2" fill="#253494" stroke="none" stroke-width="1" fill-opacity="0.85"/>
<circle cx="752.8" cy="532.5" r="3.2" fill="#45bcc8" stroke="none" stroke-width="1" fill-opacity="0.85"/>
<circle cx="729.8" cy="538.6" r="3.2" fill="#45bcc8" stroke="none" stroke-width="1" fill-opacity="0.85"/>
<circle cx="765.8" cy="525.0" r="3.2" fill="#c7e9b4" stroke="none" stroke-width="1" fill-opacity="0.85"/>
<circle cx="738.7" cy="538.3" r="3.2" fill="#6aa8d8" stroke="none" stroke-width="1" fill-opacity="0.85"/>
<circle cx="716.8" cy="538.7" r="3.2" fill="#253494" stroke="none" stroke-width="1" fill-opacity="0.85"/>
<circle cx="750.5" cy="528.7" r="3.2" fill="#4a80c8" stroke="none" stroke-width="1" fill-opacity="0.85"/>
<circle cx="699.3" cy="551.2" r="3.2" fill="#4a80c8" stroke="none" stroke-width="1" fill-opacity="0.85"/>
<circle cx="731.5" cy="536.5" r="3.2" fill="#45bcc8" stroke="none" stroke-width="1" fill-opacity="0.85"/>
<circle cx="731.4" cy="534.4" r="3.2" fill="#4a80c8" stroke="none" stroke-width="1" fill-opacity="0.85"/>
<circle cx="916.0" cy="439.3" r="3.2" fill="#e2f2c8" stroke="none" stroke-width="1" fill-opacity="0.85"/>
<circle cx="879.3" cy="471.0" r="3.2" fill="#e2f2c8" stroke="none" stroke-width="1" fill-opacity="0.85"/>
<circle cx="894.0" cy="467.3" r="3.2" fill="#e2f2c8" stroke="none" stroke-width="1" fill-opacity="0.85"/>
<circle cx="934.0" cy="472.0" r="3.2" fill="#e2f2c8" stroke="none" stroke-width="1" fill-opacity="0.85"/>
<circle cx="813.3" cy="480.7" r="3.2" fill="#e2f2c8" stroke="none" stroke-width="1" fill-opacity="0.85"/>
<circle cx="836.0" cy="490.7" r="3.2" fill="#e2f2c8" stroke="none" stroke-width="1" fill-opacity="0.85"/>
<circle cx="850.0" cy="486.7" r="3.2" fill="#e2f2c8" stroke="none" stroke-width="1" fill-opacity="0.85"/>
<circle cx="831.7" cy="496.7" r="3.2" fill="#e2f2c8" stroke="none" stroke-width="1" fill-opacity="0.85"/>
<circle cx="839.3" cy="503.3" r="3.2" fill="#e2f2c8" stroke="none" stroke-width="1" fill-opacity="0.85"/>
<circle cx="883.3" cy="496.0" r="3.2" fill="#e2f2c8" stroke="none" stroke-width="1" fill-opacity="0.85"/>
<circle cx="886.7" cy="500.7" r="3.2" fill="#e2f2c8" stroke="none" stroke-width="1" fill-opacity="0.85"/>
<circle cx="816.7" cy="499.3" r="3.2" fill="#e2f2c8" stroke="none" stroke-width="1" fill-opacity="0.85"/>
<circle cx="806.0" cy="517.3" r="3.2" fill="#e2f2c8" stroke="none" stroke-width="1" fill-opacity="0.85"/>
<circle cx="810.0" cy="520.0" r="3.2" fill="#e2f2c8" stroke="none" stroke-width="1" fill-opacity="0.85"/>
<circle cx="788.3" cy="519.3" r="3.2" fill="#e2f2c8" stroke="none" stroke-width="1" fill-opacity="0.85"/>
<circle cx="780.0" cy="526.7" r="3.2" fill="#e2f2c8" stroke="none" stroke-width="1" fill-opacity="0.85"/>
<circle cx="800.0" cy="490.0" r="3.2" fill="#c7e9b4" stroke="none" stroke-width="1" fill-opacity="0.85"/>
<circle cx="758.3" cy="549.3" r="3.2" fill="#c7e9b4" stroke="none" stroke-width="1" fill-opacity="0.85"/>
<circle cx="780.7" cy="491.0" r="3.2" fill="#4a80c8" stroke="none" stroke-width="1" fill-opacity="0.85"/>
<circle cx="817.3" cy="490.7" r="3.2" fill="#4a80c8" stroke="none" stroke-width="1" fill-opacity="0.85"/>
<circle cx="792.0" cy="495.0" r="3.2" fill="#253494" stroke="none" stroke-width="1" fill-opacity="0.85"/>
<circle cx="799.3" cy="502.7" r="3.2" fill="#45bcc8" stroke="none" stroke-width="1" fill-opacity="0.85"/>
<circle cx="817.3" cy="512.0" r="3.2" fill="#45bcc8" stroke="none" stroke-width="1" fill-opacity="0.85"/>
<circle cx="857.3" cy="508.3" r="3.2" fill="#45bcc8" stroke="none" stroke-width="1" fill-opacity="0.85"/>
<circle cx="774.3" cy="502.7" r="3.2" fill="#3060b8" stroke="none" stroke-width="1" fill-opacity="0.85"/>
<circle cx="784.3" cy="509.0" r="3.2" fill="#253494" stroke="none" stroke-width="1" fill-opacity="0.85"/>
<circle cx="773.3" cy="512.7" r="3.2" fill="#253494" stroke="none" stroke-width="1" fill-opacity="0.85"/>
<circle cx="777.3" cy="518.3" r="3.2" fill="#3060b8" stroke="none" stroke-width="1" fill-opacity="0.85"/>
<circle cx="788.3" cy="528.3" r="3.2" fill="#3060b8" stroke="none" stroke-width="1" fill-opacity="0.85"/>
<circle cx="770.0" cy="544.0" r="3.2" fill="#4a80c8" stroke="none" stroke-width="1" fill-opacity="0.85"/>
<circle cx="766.0" cy="527.3" r="3.2" fill="#253494" stroke="none" stroke-width="1" fill-opacity="0.85"/>
<circle cx="759.0" cy="506.7" r="3.2" fill="#3060b8" stroke="none" stroke-width="1" fill-opacity="0.85"/>
<circle cx="752.3" cy="514.0" r="3.2" fill="#253494" stroke="none" stroke-width="1" fill-opacity="0.85"/>
<circle cx="759.0" cy="520.7" r="3.2" fill="#253494" stroke="none" stroke-width="1" fill-opacity="0.85"/>
<circle cx="753.3" cy="522.7" r="3.2" fill="#3060b8" stroke="none" stroke-width="1" fill-opacity="0.85"/>
<circle cx="734.0" cy="527.3" r="3.2" fill="#253494" stroke="none" stroke-width="1" fill-opacity="0.85"/>
<circle cx="777.8" cy="504.4" r="3.2" fill="#45bcc8" stroke="none" stroke-width="1" fill-opacity="0.85"/>
<circle cx="766.9" cy="519.1" r="3.2" fill="#6aa8d8" stroke="none" stroke-width="1" fill-opacity="0.85"/>
<circle cx="759.6" cy="521.2" r="3.2" fill="#80d0c0" stroke="none" stroke-width="1" fill-opacity="0.85"/>
<circle cx="763.2" cy="537.1" r="3.2" fill="#80d0c0" stroke="none" stroke-width="1" fill-opacity="0.85"/>
<circle cx="770.5" cy="533.9" r="3.2" fill="#45bcc8" stroke="none" stroke-width="1" fill-opacity="0.85"/>
<circle cx="788.8" cy="523.3" r="3.2" fill="#c7e9b4" stroke="none" stroke-width="1" fill-opacity="0.85"/>
<circle cx="776.0" cy="526.5" r="3.2" fill="#c7e9b4" stroke="none" stroke-width="1" fill-opacity="0.85"/>
<rect x="942" y="500" width="5" height="21" rx="2" fill="#9c9c9c"/>
<rect x="943.3" y="509.1" width="2.4" height="2.6" fill="#fff"/>
<line x1="1007.8" y1="427.3" x2="1007.8" y2="564.2" stroke="#444" stroke-width="0.9"/>
<line x1="1007.8" y1="564.2" x2="1186.3" y2="564.2" stroke="#444" stroke-width="0.9"/>
<text transform="translate(1002.5,561.7) scale(0.86,1)" font-size="6.48" text-anchor="end" fill="#666" >0</text>
<line x1="1005.0" y1="559.5" x2="1007.8" y2="559.5" stroke="#444" stroke-width="0.9"/>
<text transform="translate(1002.5,545.0) scale(0.86,1)" font-size="6.48" text-anchor="end" fill="#666" >5</text>
<line x1="1005.0" y1="542.8" x2="1007.8" y2="542.8" stroke="#444" stroke-width="0.9"/>
<text transform="translate(1002.5,528.2) scale(0.86,1)" font-size="6.48" text-anchor="end" fill="#666" >10</text>
<line x1="1005.0" y1="526.0" x2="1007.8" y2="526.0" stroke="#444" stroke-width="0.9"/>
<text transform="translate(1002.5,511.5) scale(0.86,1)" font-size="6.48" text-anchor="end" fill="#666" >15</text>
<line x1="1005.0" y1="509.3" x2="1007.8" y2="509.3" stroke="#444" stroke-width="0.9"/>
<text transform="translate(1002.5,494.8) scale(0.86,1)" font-size="6.48" text-anchor="end" fill="#666" >20</text>
<line x1="1005.0" y1="492.6" x2="1007.8" y2="492.6" stroke="#444" stroke-width="0.9"/>
<text transform="translate(1002.5,478.1) scale(0.86,1)" font-size="6.48" text-anchor="end" fill="#666" >25</text>
<line x1="1005.0" y1="475.9" x2="1007.8" y2="475.9" stroke="#444" stroke-width="0.9"/>
<text transform="translate(1002.5,461.3) scale(0.86,1)" font-size="6.48" text-anchor="end" fill="#666" >30</text>
<line x1="1005.0" y1="459.1" x2="1007.8" y2="459.1" stroke="#444" stroke-width="0.9"/>
<text transform="translate(1002.5,444.6) scale(0.86,1)" font-size="6.48" text-anchor="end" fill="#666" >35</text>
<line x1="1005.0" y1="442.4" x2="1007.8" y2="442.4" stroke="#444" stroke-width="0.9"/>
<line x1="1011.6" y1="564.2" x2="1011.6" y2="567.5" stroke="#444" stroke-width="0.9"/>
<text transform="translate(1012.0,576.0) scale(0.86,1)" font-size="6.48" text-anchor="start" fill="#666" >0</text>
<line x1="1030.3" y1="564.2" x2="1030.3" y2="567.5" stroke="#444" stroke-width="0.9"/>
<text transform="translate(1030.7,576.0) scale(0.86,1)" font-size="6.48" text-anchor="start" fill="#666" >30</text>
<line x1="1048.9" y1="564.2" x2="1048.9" y2="567.5" stroke="#444" stroke-width="0.9"/>
<text transform="translate(1049.3,576.0) scale(0.86,1)" font-size="6.48" text-anchor="start" fill="#666" >60</text>
<line x1="1067.6" y1="564.2" x2="1067.6" y2="567.5" stroke="#444" stroke-width="0.9"/>
<text transform="translate(1068.0,576.0) scale(0.86,1)" font-size="6.48" text-anchor="start" fill="#666" >90</text>
<line x1="1086.3" y1="564.2" x2="1086.3" y2="567.5" stroke="#444" stroke-width="0.9"/>
<text transform="translate(1086.7,576.0) scale(0.86,1)" font-size="6.48" text-anchor="start" fill="#666" >120</text>
<line x1="1104.9" y1="564.2" x2="1104.9" y2="567.5" stroke="#444" stroke-width="0.9"/>
<text transform="translate(1105.3,576.0) scale(0.86,1)" font-size="6.48" text-anchor="start" fill="#666" >150</text>
<line x1="1123.6" y1="564.2" x2="1123.6" y2="567.5" stroke="#444" stroke-width="0.9"/>
<text transform="translate(1124.0,576.0) scale(0.86,1)" font-size="6.48" text-anchor="start" fill="#666" >180</text>
<line x1="1142.3" y1="564.2" x2="1142.3" y2="567.5" stroke="#444" stroke-width="0.9"/>
<text transform="translate(1142.7,576.0) scale(0.86,1)" font-size="6.48" text-anchor="start" fill="#666" >210</text>
<line x1="1160.9" y1="564.2" x2="1160.9" y2="567.5" stroke="#444" stroke-width="0.9"/>
<text transform="translate(1161.3,576.0) scale(0.86,1)" font-size="6.48" text-anchor="start" fill="#666" >240</text>
<line x1="1179.6" y1="564.2" x2="1179.6" y2="567.5" stroke="#444" stroke-width="0.9"/>
<text transform="translate(1180.0,576.0) scale(0.86,1)" font-size="6.48" text-anchor="start" fill="#666" >27</text>
<text x="981.0" y="485.1" font-size="5.5" text-anchor="middle" fill="#555">販</text>
<text x="981.0" y="491.2" font-size="5.5" text-anchor="middle" fill="#555">売</text>
<text x="981.0" y="497.3" font-size="5.5" text-anchor="middle" fill="#555">金</text>
<text x="981.0" y="503.4" font-size="5.5" text-anchor="middle" fill="#555">額</text>
<text x="981.0" y="507.9" font-size="5.5" text-anchor="middle" fill="#555">︵</text>
<text x="981.0" y="512.5" font-size="5.5" text-anchor="middle" fill="#555">十</text>
<text x="981.0" y="518.6" font-size="5.5" text-anchor="middle" fill="#555">万</text>
<text x="981.0" y="523.1" font-size="5.5" text-anchor="middle" fill="#555">︶</text>
<text x="1102.4" y="590.0" font-size="6" text-anchor="middle" fill="#555" >販売数</text>
<circle cx="1154.0" cy="458.3" r="29.0" fill="#f99d4e" stroke="none" stroke-width="1" fill-opacity="0.85"/>
<circle cx="1111.0" cy="467.3" r="26.0" fill="#f99d4e" stroke="none" stroke-width="1" fill-opacity="0.85"/>
<circle cx="1093.3" cy="498.3" r="17.3" fill="#f99d4e" stroke="none" stroke-width="1" fill-opacity="0.85"/>
<circle cx="1087.0" cy="493.0" r="19.0" fill="#f2d42b" stroke="none" stroke-width="1" fill-opacity="0.85"/>
<circle cx="1076.0" cy="496.3" r="18.5" fill="#3b89d8" stroke="none" stroke-width="1" fill-opacity="0.85"/>
<circle cx="1076.3" cy="505.8" r="15.3" fill="#f767b0" stroke="none" stroke-width="1" fill-opacity="0.85"/>
<circle cx="1049.0" cy="526.4" r="8.5" fill="#f3d66a" stroke="none" stroke-width="1" fill-opacity="0.85"/>
<circle cx="1058.7" cy="517.1" r="13.4" fill="#9ed65a" stroke="none" stroke-width="1" fill-opacity="0.85"/>
<circle cx="1035.0" cy="527.0" r="5.4" fill="#f2d42b" stroke="none" stroke-width="1" fill-opacity="0.85"/>
<circle cx="1032.0" cy="532.5" r="7.0" fill="#f99d4e" stroke="none" stroke-width="1" fill-opacity="0.85"/>
<circle cx="1050.5" cy="535.6" r="6.2" fill="#6a47a8" stroke="none" stroke-width="1" fill-opacity="0.85"/>
<circle cx="1055.2" cy="537.2" r="6.5" fill="#f2d42b" stroke="none" stroke-width="1" fill-opacity="0.85"/>
<circle cx="1029.7" cy="545.7" r="4.6" fill="#f2d42b" stroke="none" stroke-width="1" fill-opacity="0.85"/>
<circle cx="1031.2" cy="540.3" r="5.9" fill="#3b89d8" stroke="none" stroke-width="1" fill-opacity="0.85"/>
<circle cx="1023.5" cy="541.0" r="4.6" fill="#f767b0" stroke="none" stroke-width="1" fill-opacity="0.85"/>
<circle cx="1037.4" cy="539.5" r="7.0" fill="#f767b0" stroke="none" stroke-width="1" fill-opacity="0.85"/>
<circle cx="1020.4" cy="550.3" r="3.1" fill="#9ed65a" stroke="none" stroke-width="1" fill-opacity="0.85"/>
<circle cx="1018.0" cy="552.0" r="2.6" fill="#6a47a8" stroke="none" stroke-width="1" fill-opacity="0.85"/>
<circle cx="1015.8" cy="554.2" r="2.3" fill="#5aad6a" stroke="none" stroke-width="1" fill-opacity="0.85"/>
<circle cx="1012.7" cy="558.0" r="1.9" fill="#2bbcc0" stroke="none" stroke-width="1" fill-opacity="0.85"/>
<circle cx="1014.0" cy="556.5" r="2.0" fill="#2bbcc0" stroke="none" stroke-width="1" fill-opacity="0.85"/>
<circle cx="1195.5" cy="430.5" r="2.5" fill="#fff" stroke="#e3166f" stroke-width="1.3" />
<text transform="translate(1199.6,432.6) scale(0.86,1)" font-size="6.26" text-anchor="start" fill="#666" >アウトドア</text>
<circle cx="1195.5" cy="438.4" r="2.5" fill="#fff" stroke="#2bbcc0" stroke-width="1.3" />
<text transform="translate(1199.6,440.6) scale(0.86,1)" font-size="6.26" text-anchor="start" fill="#666" >スノーボード</text>
<circle cx="1195.5" cy="446.4" r="2.5" fill="#fff" stroke="#f6c713" stroke-width="1.3" />
<text transform="translate(1199.6,448.5) scale(0.86,1)" font-size="6.26" text-anchor="start" fill="#666" >化粧品、美容雑貨</text>
<circle cx="1195.5" cy="454.4" r="2.5" fill="#fff" stroke="#3b89d8" stroke-width="1.3" />
<text transform="translate(1199.6,456.5) scale(0.86,1)" font-size="6.26" text-anchor="start" fill="#666" >医薬品</text>
<circle cx="1195.5" cy="462.3" r="2.5" fill="#fff" stroke="#f99d4e" stroke-width="1.3" />
<text transform="translate(1199.6,464.4) scale(0.86,1)" font-size="6.26" text-anchor="start" fill="#666" >婦人服</text>
<circle cx="1195.5" cy="470.2" r="2.5" fill="#fff" stroke="#6a47a8" stroke-width="1.3" />
<text transform="translate(1199.6,472.4) scale(0.86,1)" font-size="6.26" text-anchor="start" fill="#666" >家電</text>
<circle cx="1195.5" cy="478.2" r="2.5" fill="#fff" stroke="#f2d42b" stroke-width="1.3" />
<text transform="translate(1199.6,480.3) scale(0.86,1)" font-size="6.26" text-anchor="start" fill="#666" >寝具</text>
<circle cx="1195.5" cy="486.1" r="2.5" fill="#fff" stroke="#f767b0" stroke-width="1.3" />
<text transform="translate(1199.6,488.2) scale(0.86,1)" font-size="6.26" text-anchor="start" fill="#666" >文房具</text>
<circle cx="1195.5" cy="494.1" r="2.5" fill="#fff" stroke="#5aad6a" stroke-width="1.3" />
<text transform="translate(1199.6,496.2) scale(0.86,1)" font-size="6.26" text-anchor="start" fill="#666" >服飾雑貨</text>
<circle cx="1195.5" cy="502.1" r="2.5" fill="#fff" stroke="#9ed65a" stroke-width="1.3" />
<text transform="translate(1199.6,504.2) scale(0.86,1)" font-size="6.26" text-anchor="start" fill="#666" >赤ちゃん用品</text>
</svg></body></html>
